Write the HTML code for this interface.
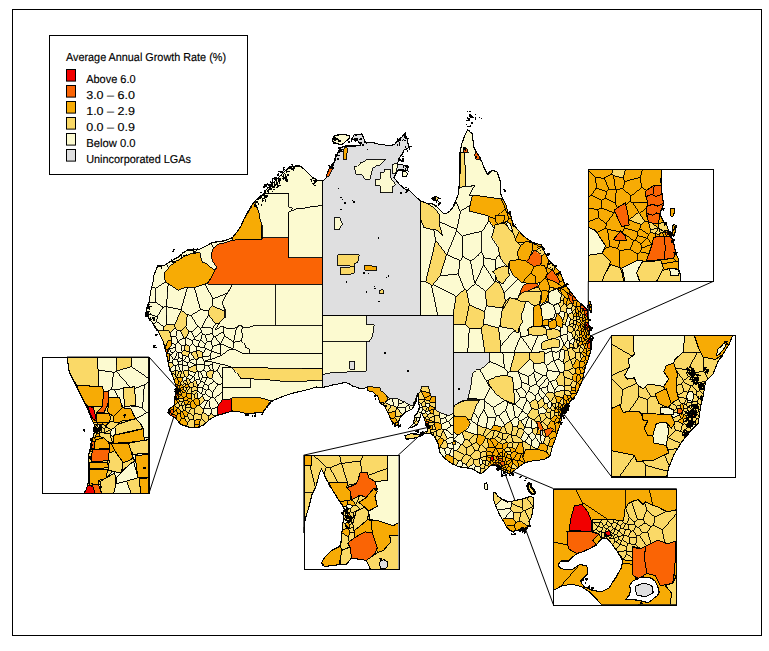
<!DOCTYPE html><html><head><meta charset="utf-8"><title>Average Annual Growth Rate</title><style>html,body{margin:0;padding:0;background:#fff}body{width:769px;height:651px;overflow:hidden;font-family:"Liberation Sans",sans-serif}</style></head><body><svg width="769" height="651" viewBox="0 0 769 651" shape-rendering="crispEdges" style="display:block">
<rect width="769" height="651" fill="#fff"/>
<defs><clipPath id="land"><path d="M322,181L324,180L326,178L327,174L329,169L331,166L334,162.5L336,157L337.5,152.5L341,147.5L345,146L350,146L356,146L361,145L358,141L352,139L354,135L362,134L364,139L366,143L372.5,142.5L378,144L385,145L390,146L395,144L399,139L402,137L405,133L407,139L409,147.5L404,150L402.5,154L399,158L397.5,164L403,165L407.5,166L408,171L403,170L398,170L394,177.5L400,185L405,189L410,191L416,197L420.8,201L426,203L432.5,204L437,207L440,210L444,214L447,213L450,211L453,207L455,202.5L458,195L459,187.5L460,172.5L460,152.5L462,143L465,135L467.5,130L470,132L472.5,134L473,141L474,147.5L477,153L480,157.5L482,162L484,167.5L487.5,174L492,170L497,172L500,180L501,195L506,205L508,213L510.7,215L513,224.2L518.4,230.4L522,234.5L526.1,238L533,242.6L541.4,245L544.5,251.9L548.4,259.5L553.7,265.7L559.9,271.8L562.9,279.5L566,285.7L570.6,291.8L575.2,298L580,303L584,306.5L587.5,310L588,318L589,325L590,335L591,340L591,350L588,360L585,367.5L582.5,380L579,388L576,395L571,401L567.5,405L564,411L562.5,415L560,425L557.5,432L555,440L552.5,446L550,456L545,459L540,460L532,461L525,462.5L520,466L515,470L510,474L505,472L501,470L498,467L495,465L492,465L490,466L486,470L481,474L476,471L472.5,469L467,468L462.5,467.5L457,466L452.5,464L448,461L443.5,457.2L439.6,452L438.3,444.2L434.4,436.4L430.5,433.7L425.3,433.7L421.4,434.4L424,432.4L427.9,431.1L427.2,427.2L425.9,423.3L424,418.1L421.8,413.2L420.7,414.2L420,418.1L417.4,424.6L412.2,427.2L409,427.9L413.5,423.3L414.8,415.5L417.4,412.9L419.4,407.6L418.7,402.4L418,393L416.1,401.1L414.8,403.7L412.2,408.9L405.7,412.2L401.8,415.5L399.2,419.4L397.9,425.9L395.2,424.6L391.3,420.7L388.7,414.2L384.8,406.3L379.6,402.4L378.3,397.2L373,392L367.8,390.7L367,387.5L361,389L356,387L352.5,386L349,383.5L345,382.5L338,384L332.5,385L327,386.5L322,387.5L316,387L310,389L302,391L295,392.5L287,395L280,397.5L274,400L270,402.5L266,408L262.5,412.5L255,413L247.5,414L240,412L232.5,411L224,413.5L217.5,415L213,417.5L209,420L203.6,425.1L196.5,427.8L187.7,426.9L180.6,424.2L175.3,418L169.2,414.5L168.3,410L174.5,404.8L175.3,396L176.2,387.1L173.6,378.3L169.2,367.7L166.5,353.6L163,341.2L157.7,330.6L152,322L149.7,320L146,312.5L148,306L149,302.5L150,296L151,290L153,282L154,275L156,270L157.5,266L161,266L165,265L171,261L177.5,257.5L183,253L187.5,250L194,250L200,249L206,246L212.5,242.5L222.5,241L228,239.5L232.5,237.5L237,232L241,226L244,219L247.5,212.5L251,206.5L255,201L259,197L262.5,195L266,190L270,186L275,181L280,176L285,171L290,167.5L295,166L300,166L304,169L308,173L312.5,177.5L317,180Z"/></clipPath></defs>
<line x1="149" y1="357" x2="178.2" y2="389.2" stroke="#000" stroke-width="1" shape-rendering="auto"/>
<line x1="149" y1="493.2" x2="176.5" y2="408.5" stroke="#000" stroke-width="1" shape-rendering="auto"/>
<line x1="303.6" y1="455.2" x2="428.5" y2="427.3" stroke="#000" stroke-width="1" shape-rendering="auto"/>
<line x1="398.2" y1="455.2" x2="424" y2="431.5" stroke="#000" stroke-width="1" shape-rendering="auto"/>
<line x1="713.4" y1="281.3" x2="586" y2="338" stroke="#000" stroke-width="1" shape-rendering="auto"/>
<line x1="588.3" y1="281.3" x2="588.3" y2="318" stroke="#000" stroke-width="1" shape-rendering="auto"/>
<line x1="611.2" y1="336.2" x2="563.5" y2="410" stroke="#000" stroke-width="1" shape-rendering="auto"/>
<line x1="611.2" y1="476.4" x2="563.5" y2="413.6" stroke="#000" stroke-width="1" shape-rendering="auto"/>
<line x1="553.3" y1="488.5" x2="507" y2="469" stroke="#000" stroke-width="1" shape-rendering="auto"/>
<line x1="553.3" y1="604.5" x2="503" y2="468" stroke="#000" stroke-width="1" shape-rendering="auto"/>
<path d="M322,181L324,180L326,178L327,174L329,169L331,166L334,162.5L336,157L337.5,152.5L341,147.5L345,146L350,146L356,146L361,145L358,141L352,139L354,135L362,134L364,139L366,143L372.5,142.5L378,144L385,145L390,146L395,144L399,139L402,137L405,133L407,139L409,147.5L404,150L402.5,154L399,158L397.5,164L403,165L407.5,166L408,171L403,170L398,170L394,177.5L400,185L405,189L410,191L416,197L420.8,201L426,203L432.5,204L437,207L440,210L444,214L447,213L450,211L453,207L455,202.5L458,195L459,187.5L460,172.5L460,152.5L462,143L465,135L467.5,130L470,132L472.5,134L473,141L474,147.5L477,153L480,157.5L482,162L484,167.5L487.5,174L492,170L497,172L500,180L501,195L506,205L508,213L510.7,215L513,224.2L518.4,230.4L522,234.5L526.1,238L533,242.6L541.4,245L544.5,251.9L548.4,259.5L553.7,265.7L559.9,271.8L562.9,279.5L566,285.7L570.6,291.8L575.2,298L580,303L584,306.5L587.5,310L588,318L589,325L590,335L591,340L591,350L588,360L585,367.5L582.5,380L579,388L576,395L571,401L567.5,405L564,411L562.5,415L560,425L557.5,432L555,440L552.5,446L550,456L545,459L540,460L532,461L525,462.5L520,466L515,470L510,474L505,472L501,470L498,467L495,465L492,465L490,466L486,470L481,474L476,471L472.5,469L467,468L462.5,467.5L457,466L452.5,464L448,461L443.5,457.2L439.6,452L438.3,444.2L434.4,436.4L430.5,433.7L425.3,433.7L421.4,434.4L424,432.4L427.9,431.1L427.2,427.2L425.9,423.3L424,418.1L421.8,413.2L420.7,414.2L420,418.1L417.4,424.6L412.2,427.2L409,427.9L413.5,423.3L414.8,415.5L417.4,412.9L419.4,407.6L418.7,402.4L418,393L416.1,401.1L414.8,403.7L412.2,408.9L405.7,412.2L401.8,415.5L399.2,419.4L397.9,425.9L395.2,424.6L391.3,420.7L388.7,414.2L384.8,406.3L379.6,402.4L378.3,397.2L373,392L367.8,390.7L367,387.5L361,389L356,387L352.5,386L349,383.5L345,382.5L338,384L332.5,385L327,386.5L322,387.5L316,387L310,389L302,391L295,392.5L287,395L280,397.5L274,400L270,402.5L266,408L262.5,412.5L255,413L247.5,414L240,412L232.5,411L224,413.5L217.5,415L213,417.5L209,420L203.6,425.1L196.5,427.8L187.7,426.9L180.6,424.2L175.3,418L169.2,414.5L168.3,410L174.5,404.8L175.3,396L176.2,387.1L173.6,378.3L169.2,367.7L166.5,353.6L163,341.2L157.7,330.6L152,322L149.7,320L146,312.5L148,306L149,302.5L150,296L151,290L153,282L154,275L156,270L157.5,266L161,266L165,265L171,261L177.5,257.5L183,253L187.5,250L194,250L200,249L206,246L212.5,242.5L222.5,241L228,239.5L232.5,237.5L237,232L241,226L244,219L247.5,212.5L251,206.5L255,201L259,197L262.5,195L266,190L270,186L275,181L280,176L285,171L290,167.5L295,166L300,166L304,169L308,173L312.5,177.5L317,180Z" fill="#fcfad0"/>
<path d="M322,315.3L420.8,315.3L420.8,201L416,197L410,191L405,189L400,185L394,177.5L398,170L403,170L408,171L407.5,166L403,165L397.5,164L399,158L402.5,154L404,150L409,147.5L407,139L405,133L402,137L399,139L395,144L390,146L385,145L378,144L372.5,142.5L366,143L364,139L362,134L354,135L352,139L358,141L361,145L356,146L350,146L345,146L341,147.5L337.5,152.5L336,157L334,162.5L331,166L329,169L327,174L326,178L324,180L322,181Z" fill="#dfdfe0"/>
<path d="M420.7,390.7L421.4,386.7L428.5,386.7L429.8,392L431.1,396.5L435.7,396.5L435.7,410.2L440.9,412.9L448.8,415.5L453.2,413.5L453.2,315.3L322,315.3L322,387.5L327,386.5L332.5,385L338,384L345,382.5L349,383.5L352.5,386L356,387L361,389L365.7,387.8L367,386.7L379.6,387.4L380.9,390.7L386,394.6L390,399L396.5,398.5L404.4,401.8L409.6,405L412.9,405L414.2,401.1L417.4,394.6L417.7,394.2L418,393L418.1,393.8Z" fill="#dfdfe0"/>
<path d="M453.2,409.5L455,406L457.5,402.5L462,401L467.5,400L469.5,392L471,385L471.5,379L472.5,372.5L476,370L481,369L485,366L489,362.5L490,352.3L453.2,352.3Z" fill="#dfdfe0"/>
<path d="M322,341.3L369.5,341.3L372.5,336L373.5,330L374,324.5L366,324L366,315.3L322,315.3Z" fill="#fcfad0" stroke="#000" stroke-width="0.9"/>
<path d="M322,374.6L332.5,372.6L350,371.8L366,371L366,341.3L322,341.3Z" fill="#fcfad0" stroke="#000" stroke-width="0.9"/>
<path d="M356,174L360,174L363,176L365,179L370,179L371.5,173L372.5,167.5L376,166L380,165L383,162L386,159L376,159.5L366,160L363,162L360,162.5L357,166L354,166Z" fill="#fcfad0" stroke="#000" stroke-width="0.9"/>
<path d="M384,172L380.5,172L380,179L375,180L375,185L380,186L380,192.5L392.5,192.5L392.5,186L396,184L391,177.5L390.5,173L390,169L384,169Z" fill="#fcfad0" stroke="#000" stroke-width="0.9"/>
<path d="M392.5,173.5L396,172.5L397,168L397.5,162.5L392.5,164Z" fill="#fcfad0" stroke="#000" stroke-width="0.9"/>
<path d="M334,229L339,229.5L342.5,224L341.5,221L340,217.5L334,217.5Z" fill="#fcfad0" stroke="#000" stroke-width="0.9"/>
<path d="M337.5,265.5L350,265.5L350,270L354,270L354,264L357.5,262.5L359,254.5L337.5,254.5Z" fill="#fad967" stroke="#000" stroke-width="0.9"/>
<path d="M340,274.5L348,275L354,273L354,266L348,267.5L340,268Z" fill="#fad967" stroke="#000" stroke-width="0.9"/>
<path d="M365,270L376.5,270.3L376.5,267L370,265.5L364.5,265.3Z" fill="#f7ab05" stroke="#000" stroke-width="0.9"/>
<path d="M380,293.5L383.5,294L384,292L382.5,289L379.5,290Z" fill="#fad967" stroke="#000" stroke-width="0.9"/>
<path d="M343.5,153L343.2,159L346.5,159L347,153L347.3,147.5L344,147.5Z" fill="#f7ab05" stroke="#000" stroke-width="0.9"/>
<path d="M328.6,176.5L330,172.5L332,168.5L330,167.5L329,169L327,174L326.5,176.1Z" fill="#fa6405" stroke="#000" stroke-width="0.9"/>
<path d="M349.5,369L354.5,369L354.5,361L349.5,361Z" fill="#dfdfe0" stroke="#000" stroke-width="0.9"/>
<path d="M288.8,193.8L288.8,207L292,207.5L291,211L296,209L303,208.5L310,207L316,206.5L322,205L322,181L317,180L312.5,177.5L308,173L304,169L300,166L295,166L290,167.5L285,171L280,176L275,181L270,186L266,190L263.4,193.8Z" fill="#fcfad0" stroke="#000" stroke-width="0.9"/>
<path d="M164.7,346.5L168.3,342L171.8,339.4L169.2,330.6L163,331L157.7,330.6L160,335L163,341.2Z" fill="#fad967" stroke="#000" stroke-width="0.9"/>
<path d="M168,360.5L169.8,360.6L170,353.6L167.8,353.6L168.3,348.3L171.8,344.7L171.8,340.3L168.3,340.3L165.4,347.4L166.5,353.6Z" fill="#f7ab05" stroke="#000" stroke-width="0.9"/>
<path d="M167.2,351.9L167.2,349.2L165.3,349.2L166.1,352.1Z" fill="#fa6405" stroke="#000" stroke-width="0.9"/>
<path d="M262,239.3L240,239.3L232.5,240.2L224,242.8L217.5,244L213,249L211,255L213,262L217,267L215,270L211,278L207.5,284L322,284L322,257.5L288.8,257.5L288.8,237.5L262,237.5Z" fill="#fa6405" stroke="#000" stroke-width="0.9"/>
<path d="M232.5,240.2L240,239.3L262,239.3L261.5,232L262,225L260,219L259,212.5L256,206L255,201L251,206.5L247.5,212.5L244,219L241,226L237,232L232.5,237.5Z" fill="#f7ab05" stroke="#000" stroke-width="0.9"/>
<path d="M164,277L166,282.5L172,286L177.5,290L186,287L195,287.5L202,285L207.5,283L211,278L215,270L210,267L207,264L202.5,262.5L201,258L200,252.5L196,253L190,254L183,257L177.5,260L170,266L164.5,272Z" fill="#f7ab05" stroke="#000" stroke-width="0.9"/>
<path d="M256,206L259,212.5L260,219L262,225L262,237.5L288.8,237.5L288.8,212L291,211L292,207.5L288.8,207L288.8,193.8L263.4,193.8L262.5,195L259,197L255,201Z" fill="#fcfad0" stroke="#000" stroke-width="0.9"/>
<path d="M288.8,257.5L322,257.5L322,205L316,206.5L310,207L303,208.5L296,209L291,211L288.8,212Z" fill="#fcfad0" stroke="#000" stroke-width="0.9"/>
<path d="M230,289L226,295L222.5,302.5L225,309L225,317.5L220,322L215,330L222,326L228,329L235,328L240,325L243,327L250,327L255,325L275,325L275,284L232.5,284Z" fill="#fcfad0" stroke="#000" stroke-width="0.9"/>
<path d="M275,325L322,325L322,284L275,284Z" fill="#fcfad0" stroke="#000" stroke-width="0.9"/>
<path d="M250,327L243,327L241,331L243,335L241.5,340L244,343L246,347.5L249,349L250,353.8L322,353.8L322,325L255,325Z" fill="#fcfad0" stroke="#000" stroke-width="0.9"/>
<path d="M242,353L236,350L230,349L226,352L222,355L215,358L205,361L214,362.5L226,365.5L232.5,367.5L322,368.8L322,353.8L250,353.8Z" fill="#fcfad0" stroke="#000" stroke-width="0.9"/>
<path d="M237,373L241,378.8L250,378.8L265,379.5L280,381L300,381.5L322,380L322,368.8L232.5,367.5Z" fill="#fad967" stroke="#000" stroke-width="0.9"/>
<path d="M222.5,387.5L250,387.5L250,378.8L241,378.8L237,373L232.5,367.5L222.5,367Z" fill="#fcfad0" stroke="#000" stroke-width="0.9"/>
<path d="M231.5,398.7L222.5,399.7L220,403L217.5,406.6L217.5,415L224,413.5L231.5,411.3Z" fill="#f20000" stroke="#000" stroke-width="0.9"/>
<path d="M270,400.5L265,399L260,397.7L231.5,397.7L231.5,411.3L232.5,411L240,412L247.5,414L255,413L262.5,412.5L266,408Z" fill="#f7ab05" stroke="#000" stroke-width="0.9"/>
<path d="M322,380L300,381.5L280,381L265,379.5L250,378.8L250,387.5L222.5,387.5L222.5,399.7L231.5,398.7L231.5,397.7L260,397.7L265,399L270,400.5L273.5,400.3L274,400L280,397.5L287,395L295,392.5L302,391L310,389L316,387L322,387.5Z" fill="#fcfad0" stroke="#000" stroke-width="0.9"/>
<path d="M465,186.5L474.6,185.7L472,190L469.5,195.6L480,196L490,197.5L501.5,199L503,199L501,195L500,180L497,172L492,170L487.5,174L484,167.5L482,162L480,157.5L477,153L474,147.5L473,141L472.5,134L470,132L467.5,130L465,135L462,143L460,152.3L460.5,152.5L464,153L465,165L465.5,175L465,186L459,187.5Z" fill="#fcfad0" stroke="#000" stroke-width="0.9"/>
<path d="M497,217L500,222L505,223L509,219L507,213L505,207.5L501,208L496,211Z" fill="#f7ab05" stroke="#000" stroke-width="0.9"/>
<path d="M420.8,201L420.8,220L424,227.5L430,229L436,230L439,232L442.5,236L441,230L439,222.5L440,215L435,209L430,205L426,203Z" fill="#fad967" stroke="#000" stroke-width="0.9"/>
<path d="M470.5,203L469,211L477,213L485,215L495,219L500,213L505,207.5L501,199L490,197.5L480,196L472.5,195Z" fill="#f7ab05" stroke="#000" stroke-width="0.9"/>
<path d="M459.5,187L461,187.5L465,186L465.5,175L465,165L464,153L460,152.5L460,172.5Z" fill="#fad967" stroke="#000" stroke-width="0.9"/>
<path d="M463,151.5L465,153L468.5,152L467,148.5L463.5,147.5Z" fill="#fa6405" stroke="#000" stroke-width="0.9"/>
<path d="M475.5,151L474.8,155L476,159L479,160L479.4,156.6L477,153L476,151.1Z" fill="#fa6405" stroke="#000" stroke-width="0.9"/>
<path d="M491.5,236.5L497.7,245.7L500,256.5L505.3,264.2L508.4,267.2L509.2,261.1L518.4,259.5L517.6,251.9L520.7,245.7L516.1,241.1L513,232.7L504.6,223.4L495.4,224.2Z" fill="#fad967" stroke="#000" stroke-width="0.9"/>
<path d="M517.6,251.9L518.4,259.5L526.1,261.1L529.9,256.5L532.2,250.3L533,243.4L526.1,241.1L520.7,245.7Z" fill="#f7ab05" stroke="#000" stroke-width="0.9"/>
<path d="M533.8,266.5L540.7,264.9L541.4,261.1L541.4,255.2L534.5,250.6L532.2,253.4L529.9,256.5L526.1,261.1Z" fill="#fa6405" stroke="#000" stroke-width="0.9"/>
<path d="M510,268.8L513,274.9L518.4,279.5L522.2,282.6L527.6,276.4L530.7,273.4L533.8,266.5L526.1,261.1L518.4,259.5L509.2,261.1Z" fill="#f7ab05" stroke="#000" stroke-width="0.9"/>
<path d="M530.7,273.4L535.3,276.4L536.1,283.4L539.9,282.6L544.5,278.7L547.6,273.4L544.5,265.7L540.7,264.9L533.8,266.5Z" fill="#f7ab05" stroke="#000" stroke-width="0.9"/>
<path d="M522.2,282.6L529.2,283.4L536.1,283.4L535.3,276.4L530.7,273.4L527.6,276.4Z" fill="#f7ab05" stroke="#000" stroke-width="0.9"/>
<path d="M547.6,279.5L552.2,280.3L558.3,284.1L559.9,281.1L556.8,275.7L552.2,270.3L546.1,275.7Z" fill="#fa6405" stroke="#000" stroke-width="0.9"/>
<path d="M521.5,288.7L519.2,294.9L526.1,291.8L532.2,288.7L538.4,285.7L536.1,283.4L529.2,283.4L524.5,284.1Z" fill="#fa6405" stroke="#000" stroke-width="0.9"/>
<path d="M538.4,287.2L542.2,293.3L543.7,301L548.4,301L547.6,294.9L549.9,287.2L552.2,280.3L547.6,279.5L544.5,278.7L539.9,282.6Z" fill="#f7ab05" stroke="#000" stroke-width="0.9"/>
<path d="M517.6,298.7L524.5,301L530.7,301L536.8,305.6L541.4,301L542.2,293.3L538.4,287.2L532.2,288.7L526.1,291.8L519.2,294.9Z" fill="#fad967" stroke="#000" stroke-width="0.9"/>
<path d="M503,310.2L510.7,314.8L521.5,314.8L522.2,307.2L524.5,301L517.6,298.7L507.6,298.7L503,305.6Z" fill="#fad967" stroke="#000" stroke-width="0.9"/>
<path d="M495.4,274.9L496.9,280.3L503,284.1L505.3,280.3L509.2,275.7L508.4,267.2L504.6,265.7L497.7,268L491.5,271.8Z" fill="#fad967" stroke="#000" stroke-width="0.9"/>
<path d="M561.4,293.3L566,297.9L572.2,301L570.6,294.9L566,291.8L559.9,287.2Z" fill="#f7ab05" stroke="#000" stroke-width="0.9"/>
<path d="M569.9,301L573.7,304.1L572.2,296.4L567.6,293.3Z" fill="#fa6405" stroke="#000" stroke-width="0.9"/>
<path d="M548.4,301L552.2,305.6L559.9,302.6L561.4,294.9L556.8,288.7L549.1,291.8Z" fill="#fcfad0" stroke="#000" stroke-width="0.9"/>
<path d="M549.9,287.2L556.8,288.7L559.9,287.2L562.9,287.2L558.3,284.1L552.2,280.3L547.6,279.5Z" fill="#f7ab05" stroke="#000" stroke-width="0.9"/>
<path d="M495.4,221.1L498.4,224.2L503.8,221.9L504.6,215L495.4,215Z" fill="#f7ab05" stroke="#000" stroke-width="0.9"/>
<path d="M532.2,250.3L536.8,250.3L538.4,245.7L533,243.4Z" fill="#f7ab05" stroke="#000" stroke-width="0.9"/>
<path d="M509.2,229.6L513,231.9L510,223.4L505.3,221.1Z" fill="#fcfad0" stroke="#000" stroke-width="0.9"/>
<path d="M500.8,318L500.2,326.6L505.1,327.6L511.5,328.7L515.8,331.9L518.5,333L519,327.6L522.3,322.3L521.2,314.7L523.3,310.4L525.5,301.8L521.2,301.8L516.9,299.7L509.4,297.5L506.1,304L501.8,311.5Z" fill="#fad967" stroke="#000" stroke-width="0.9"/>
<path d="M521.2,301.8L525.5,301.8L528.7,301.8L534.1,306.1L539.5,304L540.5,298.6L541.6,291.1L526.6,291.1L521.2,293.2L516.9,299.7Z" fill="#fad967" stroke="#000" stroke-width="0.9"/>
<path d="M521.2,314.7L522.3,322.3L519,327.6L521.2,337.3L528.7,335.2L527.6,328.7L533.5,325.5L533,314.7L534.1,306.1L528.7,301.8L525.5,301.8L523.3,310.4Z" fill="#fcfad0" stroke="#000" stroke-width="0.9"/>
<path d="M533,314.7L533.5,322.3L534.1,326.6L541.6,326.6L542.7,321.2L541.6,311.5L539.5,304L534.1,306.1Z" fill="#f7ab05" stroke="#000" stroke-width="0.9"/>
<path d="M542.7,326L548.1,325.5L548.1,319.6L542.7,320.1Z" fill="#f7ab05" stroke="#000" stroke-width="0.9"/>
<path d="M549.1,328.2L554.5,328.7L556.7,325.5L555.6,319L548.6,322.3Z" fill="#f7ab05" stroke="#000" stroke-width="0.9"/>
<path d="M556.7,325.5L562,327.6L563.1,322.3L561,316.9L557.2,312.6L555.6,319Z" fill="#f7ab05" stroke="#000" stroke-width="0.9"/>
<path d="M528.7,334.1L533,335.2L540.5,335.2L546.5,334.1L545.9,327.6L541.6,326.6L534.1,326.6L528.7,327.6Z" fill="#fad967" stroke="#000" stroke-width="0.9"/>
<path d="M546.5,334.1L548.1,339.5L554.5,338.4L560.4,336.2L559.9,330.9L554.5,328.7L547,329.8Z" fill="#fad967" stroke="#000" stroke-width="0.9"/>
<path d="M541.1,347L542.7,350.2L550.2,348.1L558.8,347L559.9,340.5L554.5,338.4L545.9,340.5L541.6,342.7Z" fill="#fad967" stroke="#000" stroke-width="0.9"/>
<path d="M541.6,311.5L542.7,320.1L548.1,319.6L553.4,318L555.6,311.5L553.4,305.1L547,301.8L540.5,305.1Z" fill="#fcfad0" stroke="#000" stroke-width="0.9"/>
<path d="M541.1,297.5L540.5,304L545.9,300.8L548.6,293.2L545.9,290L541.6,291.1Z" fill="#f7ab05" stroke="#000" stroke-width="0.9"/>
<path d="M490,386L493,390L496,394L500,397L504,400L509,402L515,404L514.5,398L514,392.5L513.5,385L512.5,377.5L508,376L504,375L495,377L487.5,380Z" fill="#fad967" stroke="#000" stroke-width="0.9"/>
<path d="M453.2,409.5L453.2,415.5L462,418L471,420L473,414L475,407.5L477,404L480,400L467.5,400L461,402L455,405Z" fill="#fad967" stroke="#000" stroke-width="0.9"/>
<path d="M453.2,432L457.5,435L462,432.5L466,430L468,426.5L470,422.5L467.5,419L465,416L459,416L453.2,416Z" fill="#f7ab05" stroke="#000" stroke-width="0.9"/>
<path d="M537.4,426.2L538.8,428.5L540.5,430.9L543.6,428.5L542,425.5L540.5,422.3L536.6,420.7Z" fill="#fa6405" stroke="#000" stroke-width="0.9"/>
<path d="M545.2,434L546.7,437.1L549.8,434L551.5,431.5L553,428.5L549.8,427.8L544.4,430.1Z" fill="#fa6405" stroke="#000" stroke-width="0.9"/>
<path d="M540.2,435.6L542.4,435.2L542.2,430.2L540,430.5Z" fill="#dfdfe0" stroke="#000" stroke-width="0.9"/>
<path d="M491,460.5L494,460L493.5,457L490.5,456.5Z" fill="#f20000" stroke="#000" stroke-width="0.9"/>
<path d="M501.5,466L504.5,465L504,461L500.5,461.5Z" fill="#fa6405" stroke="#000" stroke-width="0.9"/>
<path d="M453,444.5L455.5,444L455,441L452.6,441.5Z" fill="#f7ab05" stroke="#000" stroke-width="0.9"/>
<path d="M549.5,454.5L547.5,452.5L544,451L540,450L533,449.5L526,449L524,452.5L522.5,457L523.5,459L525,462.5L532,461L540,460L545,459L550,456Z" fill="#f7ab05" stroke="#000" stroke-width="0.9"/>
<path d="M383.5,403L385.5,401L387.4,398.5L386,394.6L380.9,390.7L379.6,387.4L367,386.7L367.8,390.7L373,392L378.3,397.2L379.6,402.4Z" fill="#f7ab05" stroke="#000" stroke-width="0.9"/>
<path d="M211,397.9L212.7,397.2L212.7,392.3L208.4,389.2L206.2,390.4L205.4,393.8Z" fill="#fcfad0" stroke="#000" stroke-width="0.9"/>
<path d="M199.1,424.8L194.7,424.8L193.7,427.5L196.5,427.8L200.3,426.4Z" fill="#f7ab05" stroke="#000" stroke-width="0.9"/>
<path d="M189.5,360.1L194.6,358.7L190.7,352.8L189.7,352.6L188.5,355.7Z" fill="#fcfad0" stroke="#000" stroke-width="0.9"/>
<path d="M202.4,388L202.4,387.9L197.9,387L197.3,387.5L197,390L197.2,391.2L201.8,394Z" fill="#fcfad0" stroke="#000" stroke-width="0.9"/>
<path d="M168.2,362.3L169.2,367.7L169.5,368.5L173.3,365.1L172.4,362.1Z" fill="#fad967" stroke="#000" stroke-width="0.9"/>
<path d="M175.8,336.7L177.2,330.2L175.1,327.6L170,333.2L171.1,336.9Z" fill="#fcfad0" stroke="#000" stroke-width="0.9"/>
<path d="M214.4,398.3L218.6,405L220,403L220,403L222.4,399.7L222.4,392.2ZM270,400.5L266.2,407.7L270,402.5L273.4,400.4Z" fill="#fcfad0" stroke="#000" stroke-width="0.9"/>
<path d="M194.7,287.5L187.5,287.1L181,309.5L181.3,310.1L187.3,314.7L191,315.3L200.7,309.6Z" fill="#fcfad0" stroke="#000" stroke-width="0.9"/>
<path d="M187.1,416L188.5,413.3L188.3,412.8L184.9,410.3L183.6,410.8L182.9,411.5L185.2,417Z" fill="#f7ab05" stroke="#000" stroke-width="0.9"/>
<path d="M183.8,337.9L180.4,330.9L177.2,330.2L175.8,336.7L178,341.3Z" fill="#fcfad0" stroke="#000" stroke-width="0.9"/>
<path d="M175.7,344.6L171.9,343L171.9,344.7L171.8,344.7L171.8,344.7L171.8,344.7L171.8,344.7L171.8,344.7L171.8,344.7L171.8,344.7L171.8,344.7L168.3,348.3L168.3,348.7L168.8,348.9L175.4,347.4ZM165.4,347.6L165.4,347.4L165.4,347.4L165.4,347.4L165.4,347.4L165.4,347.4L165.4,347.4L165.4,347.4L166.7,344.1L164.7,346.5L164.7,346.5L164.7,346.5L164.7,346.5L164.7,346.5L164.7,346.5L164.7,346.5L164.7,346.5L164.7,346.5L164.7,346.5L164.7,346.5L164.7,346.5L164.7,346.5L164.7,346.5L164.7,346.5L164.7,346.5L164.7,346.5L164.7,346.5L164.7,346.5L164.7,346.5L164.7,346.5L164.7,346.5L164.7,346.5L163.4,342.6L164.7,347.4Z" fill="#fcfad0" stroke="#000" stroke-width="0.9"/>
<path d="M202.7,377.1L207.2,378L207.4,377.8L206,372.2L203.8,370.2L200.6,371.8Z" fill="#fcfad0" stroke="#000" stroke-width="0.9"/>
<path d="M187.4,422.9L190.1,420L187.1,416L185.2,417L184.6,418.3Z" fill="#fad967" stroke="#000" stroke-width="0.9"/>
<path d="M182.9,360.6L183.6,360.6L186.6,356.4L182.4,354.6L182,358.9L182.6,360.4Z" fill="#fcfad0" stroke="#000" stroke-width="0.9"/>
<path d="M195.6,253L196,253L196,253L200,252.5L200,252.5L200,252.5L200,252.5L200,252.5L200,252.5L200,252.5L200,252.5L200,252.5L200,252.5L200,252.5L200,252.5L200,252.5L200,252.5L200,252.5L200,252.5L201,258L202.5,262.5L207,264L207,264L207,264L207,264L207,264L207,264L210,267L215,269.9L216.9,267L213,262L213,262L213,262L213,262L213,262L211,255L211,255L211,255L211,255L211,255L211,255L211,255L213,249L213,249L213,249L213,249L213,249L213.8,248L210.8,243.4L206,246L200,249L196.4,249.6Z" fill="#fcfad0" stroke="#000" stroke-width="0.9"/>
<path d="M183.4,387.2L182.7,385.4L180.8,384.7L179.9,385.7L180,388.1L180.4,388.4L183.4,387.3Z" fill="#f7ab05" stroke="#000" stroke-width="0.8"/>
<path d="M198.9,398.6L199.4,405.2L205.1,400.1L202.1,396.1Z" fill="#fad967" stroke="#000" stroke-width="0.9"/>
<path d="M204.9,335.2L212.1,333.6L212.7,328.2L201.8,327.2L200.6,328.1L201.4,332.2L202.3,333.7Z" fill="#fcfad0" stroke="#000" stroke-width="0.9"/>
<path d="M208,310.7L200.7,309.6L191,315.3L197.8,326.6L200.6,328.1L201.8,327.2L208.6,314.7Z" fill="#fcfad0" stroke="#000" stroke-width="0.9"/>
<path d="M176.2,415.5L172.8,413.9L170.6,415.3L175.3,418L176.5,419.4Z" fill="#fa6405" stroke="#000" stroke-width="0.9"/>
<path d="M170.8,355.8L172.3,353.1L168.8,348.9L168.3,348.7L167.9,353.6L170,353.6L170,353.6L170,353.6L170,353.6L170,353.6L170,353.6L170,353.6L170,353.6L170,353.6L170,353.6L170,353.6L170,353.6L170,353.6L170,353.6L170,353.6L170,353.6L170,353.6L170,355.9ZM167,356.1L166.9,355.6L167,356.1ZM164.7,347.4L165.2,349.2L165.2,349.2L165.3,349.2L165.3,349.1L165.7,349.1L165.4,347.6ZM166.1,352.1L166.4,353.1L166.2,352.1Z" fill="#fcfad0" stroke="#000" stroke-width="0.9"/>
<path d="M203.2,409L203,412L208.8,416.1L211.1,413.1L211.4,409.4L210.4,408.7L203.9,408.7Z" fill="#fcfad0" stroke="#000" stroke-width="0.9"/>
<path d="M194.7,424.8L194.4,420.2L193.2,418.8L190.1,420L187.4,422.9L186.6,426.5L187.7,426.9L193.7,427.5Z" fill="#fad967" stroke="#000" stroke-width="0.9"/>
<path d="M176.7,398.3L178.9,398.2L179.1,396.8L178,395.4L176.6,396.4Z" fill="#f7ab05" stroke="#000" stroke-width="0.8"/>
<path d="M182.4,354.6L181.4,352.2L178.5,352.4L178.8,357.7L182,358.9Z" fill="#fcfad0" stroke="#000" stroke-width="0.9"/>
<path d="M193.2,418.8L194.4,420.2L200.5,419.3L201.3,418.8L201.2,414.9L195,413.2L193.3,416.2Z" fill="#fad967" stroke="#000" stroke-width="0.9"/>
<path d="M211.1,350.7L212.8,346.5L211.2,341.5L207.3,341.3L205,344.7L204.9,347.9L205.2,348.5Z" fill="#fcfad0" stroke="#000" stroke-width="0.9"/>
<path d="M182.4,364.9L182.9,365.8L187.8,365.2L188,362.9L183.6,360.6L182.9,360.6Z" fill="#fcfad0" stroke="#000" stroke-width="0.9"/>
<path d="M182,406.2L183.6,410.8L184.9,410.3L185.9,408L185.7,405.1L185.5,404.7L185,404.3Z" fill="#fad967" stroke="#000" stroke-width="0.9"/>
<path d="M202.1,396.1L205.1,400.1L207.5,400.7L208.8,400.3L211,397.9L205.4,393.8L202.4,395.2Z" fill="#fcfad0" stroke="#000" stroke-width="0.9"/>
<path d="M176.7,384.6L178.9,381.5L177,377.9L176.3,377.6L174,379.7L175.4,384.4Z" fill="#f7ab05" stroke="#000" stroke-width="0.9"/>
<path d="M166.9,324.2L166.2,306.7L163.1,307.1L157.2,316.7L156.8,321.7L163.7,326.9Z" fill="#fcfad0" stroke="#000" stroke-width="0.9"/>
<path d="M178.5,352.4L177.4,352L174.7,359L176.9,359.8L178.8,357.7Z" fill="#fcfad0" stroke="#000" stroke-width="0.9"/>
<path d="M227.2,293.2L230,289L232.4,284.1L207.5,284.1L207.5,284L207.5,284L207.5,284L207.5,284L207.5,284L207.5,284L207.5,284L207.5,284L207.5,284L207.5,284L207.5,284L207.5,284L207.5,284L207.5,284L207.5,284L207.5,284L207.5,284L207.5,284L207.5,284L207.5,284L207.5,284L210.3,279L207.5,283L207.5,283L207.5,283L207.5,283L207.5,283L207.5,283L207.5,283L205,284L212.9,298.9Z" fill="#fcfad0" stroke="#000" stroke-width="0.9"/>
<path d="M183.8,337.9L178,341.3L177.5,342.8L181,345.5L185.3,344.9L185.7,344.4L185,338.2Z" fill="#fcfad0" stroke="#000" stroke-width="0.9"/>
<path d="M191.6,331.8L197.8,326.6L191,315.3L187.3,314.7L185.9,326.7L188.9,331.9Z" fill="#fcfad0" stroke="#000" stroke-width="0.9"/>
<path d="M179.8,405.7L178.4,407.8L181.3,412L182.9,411.5L183.6,410.8L182,406.2L180.7,405.5Z" fill="#fad967" stroke="#000" stroke-width="0.9"/>
<path d="M177.4,352L178.5,352.4L181.4,352.2L182.2,351.3L181,345.5L177.5,342.8L175.7,344.6L175.4,347.4L175.9,350.6Z" fill="#fcfad0" stroke="#000" stroke-width="0.9"/>
<path d="M177.1,394L178,394.9L179.1,394L178.6,392.2L177,393Z" fill="#fa6405" stroke="#000" stroke-width="0.8"/>
<path d="M175.4,347.4L168.8,348.9L172.3,353.1L175.9,350.6Z" fill="#fcfad0" stroke="#000" stroke-width="0.9"/>
<path d="M220.1,343.9L220.7,343.7L224.7,336L223.5,331.5L214.8,336.9Z" fill="#fcfad0" stroke="#000" stroke-width="0.9"/>
<path d="M201.4,332.2L200.6,328.1L197.8,326.6L191.6,331.8L194.2,337.9Z" fill="#fcfad0" stroke="#000" stroke-width="0.9"/>
<path d="M203.8,370.2L206,372.2L210.5,370.6L208.6,366L204.8,365.6Z" fill="#fcfad0" stroke="#000" stroke-width="0.9"/>
<path d="M200.9,381.1L204.7,382.7L207.2,378L202.7,377.1L200.6,380.1Z" fill="#fcfad0" stroke="#000" stroke-width="0.9"/>
<path d="M176.8,390.6L175.8,391.5L175.7,391.9L177,393L178.6,392.2L178.9,391.7L178.7,391.4Z" fill="#f20000" stroke="#000" stroke-width="0.7"/>
<path d="M204.6,364.9L204.7,362.2L202.3,357.4L198.3,358.1L196.9,359.7L196.4,364.3Z" fill="#fcfad0" stroke="#000" stroke-width="0.9"/>
<path d="M208.5,420.5L209,420L213,417.5L215,416.4L211.1,413.1L208.8,416.1Z" fill="#fad967" stroke="#000" stroke-width="0.9"/>
<path d="M187.8,365.2L188.7,368.1L195.7,365L189.2,361.6L188,362.9Z" fill="#fcfad0" stroke="#000" stroke-width="0.9"/>
<path d="M204.7,362.2L204.6,364.9L204.8,365.6L208.6,366L212.1,363.6L212.7,362.3L206.5,361.3ZM211.1,358.9L210.3,359.4L211.2,359.1Z" fill="#fcfad0" stroke="#000" stroke-width="0.9"/>
<path d="M177.8,388.6L177.2,388.9L176.8,390.6L178.7,391.4L178.9,388.8Z" fill="#fa6405" stroke="#000" stroke-width="0.7"/>
<path d="M213.9,336.7L212.1,333.6L204.9,335.2L207.3,341.3L211.2,341.5Z" fill="#fcfad0" stroke="#000" stroke-width="0.9"/>
<path d="M199.1,424.8L200.5,419.3L194.4,420.2L194.7,424.8Z" fill="#f7ab05" stroke="#000" stroke-width="0.9"/>
<path d="M187.6,384.1L186.6,379.5L183.7,381.5L184.4,383.4L186,384.2Z" fill="#fad967" stroke="#000" stroke-width="0.9"/>
<path d="M217.9,384.2L213.6,381.4L208.2,385.9L208.4,389.2L212.7,392.3Z" fill="#fcfad0" stroke="#000" stroke-width="0.9"/>
<path d="M174.2,405.4L178.3,402.4L175.5,399.4L175,399.4L174.5,404.8L173.8,405.4Z" fill="#f7ab05" stroke="#000" stroke-width="0.9"/>
<path d="M180.5,377.1L181.4,371.2L180.4,371L179.1,371.3L176.3,377.4L176.3,377.6L177,377.9Z" fill="#fad967" stroke="#000" stroke-width="0.9"/>
<path d="M156.8,321.7L157.2,316.7L146.2,313L149.7,320L152,322L153.6,324.5Z" fill="#fcfad0" stroke="#000" stroke-width="0.9"/>
<path d="M177.2,388.9L177.8,388.6L176.9,384.7L176.7,384.6L175.4,384.4L176.2,387.1L176.1,388.5Z" fill="#fa6405" stroke="#000" stroke-width="0.8"/>
<path d="M190,387.2L191,387.8L193.9,386.5L192.9,382.4L190.4,382.3L188.6,384.6L189.1,386.2Z" fill="#fad967" stroke="#000" stroke-width="0.9"/>
<path d="M163.7,326.9L156.8,321.7L153.6,324.5L157.7,330.6L157.7,330.6L157.7,330.6L157.7,330.6L157.7,330.6L157.7,330.6L157.7,330.6L157.7,330.6L163,330.9L163.6,330.9ZM158.9,333.1L161.3,337.8L160,335Z" fill="#fcfad0" stroke="#000" stroke-width="0.9"/>
<path d="M200.6,380.1L202.7,377.1L200.6,371.8L198.3,371.9L199.3,379.1Z" fill="#fcfad0" stroke="#000" stroke-width="0.9"/>
<path d="M190.4,382.3L189.8,379.6L187.1,378.2L186.6,379.5L187.6,384.1L188.6,384.6Z" fill="#fad967" stroke="#000" stroke-width="0.9"/>
<path d="M202.3,357.4L202.5,356.9L202.9,352.6L196.5,350L195.9,351.1L198.3,358.1Z" fill="#fad967" stroke="#000" stroke-width="0.9"/>
<path d="M156,288.3L155.3,301.9L163.1,307.1L166.2,306.7L166.4,306.6L168.2,283.9L166,282.5L166,282.5L166,282.5L166,282.5L166,282.5L166,282.5L166,282.5L166,282.5L165.7,281.8Z" fill="#fcfad0" stroke="#000" stroke-width="0.9"/>
<path d="M215.5,323.9L218.7,324L220,322L220,322L220,322L220,322L224.9,317.5L224.9,311.5L212.4,305.6L208,310.7L208.6,314.7Z" fill="#fad967" stroke="#000" stroke-width="0.9"/>
<path d="M185.7,392L186.4,392.9L190,387.2L189.1,386.2L186.2,388.2Z" fill="#fad967" stroke="#000" stroke-width="0.9"/>
<path d="M210.4,408.7L208.8,400.3L207.5,400.7L203.9,408.7Z" fill="#fcfad0" stroke="#000" stroke-width="0.9"/>
<path d="M185.7,344.4L185.3,344.9L184.1,350.5L189.5,352.2L189.6,346.3Z" fill="#fad967" stroke="#000" stroke-width="0.9"/>
<path d="M193.9,339.1L194.2,337.9L191.6,331.8L188.9,331.9L186.3,337.6L192.5,340.7Z" fill="#fcfad0" stroke="#000" stroke-width="0.9"/>
<path d="M175.7,376.3L176.3,377.4L179.1,371.3L175.6,370.2L175,370.8Z" fill="#fad967" stroke="#000" stroke-width="0.9"/>
<path d="M175.1,327.6L174.5,325L166.9,324.2L163.7,326.9L163.6,330.9L169.2,330.6L169.2,330.6L169.2,330.6L169.2,330.6L169.2,330.6L169.2,330.6L169.2,330.6L169.2,330.6L169.2,330.6L169.2,330.6L169.2,330.6L169.2,330.6L169.2,330.6L169.2,330.6L169.2,330.6L170,333.2Z" fill="#fad967" stroke="#000" stroke-width="0.9"/>
<path d="M176.9,384.7L177.8,388.6L178.9,388.8L180,388.1L179.9,385.7Z" fill="#f7ab05" stroke="#000" stroke-width="0.8"/>
<path d="M195.7,365L196,365L196.4,364.3L196.9,359.7L194.6,358.7L189.5,360.1L189.2,361.6Z" fill="#fcfad0" stroke="#000" stroke-width="0.9"/>
<path d="M212.1,363.6L213.4,371.7L213.6,371.8L217.4,370.7L220.5,364.2L214,362.5L212.7,362.3Z" fill="#fcfad0" stroke="#000" stroke-width="0.9"/>
<path d="M182,358.9L178.8,357.7L176.9,359.8L178.2,362.1L182.6,360.4Z" fill="#fcfad0" stroke="#000" stroke-width="0.9"/>
<path d="M188.5,374.9L192.9,377L193.8,376.9L195.3,372.8L188.6,370.4Z" fill="#fcfad0" stroke="#000" stroke-width="0.9"/>
<path d="M184.8,376.6L183.2,371.2L182.5,370.9L181.4,371.2L180.5,377.1L182,378.3Z" fill="#fad967" stroke="#000" stroke-width="0.9"/>
<path d="M157.2,316.7L163.1,307.1L155.3,301.9L148.9,303L148,306L146,312.5L146.2,313Z" fill="#fcfad0" stroke="#000" stroke-width="0.9"/>
<path d="M212.4,305.6L212.9,298.9L205,284L202,285L202,285L195,287.5L195,287.5L195,287.5L195,287.5L195,287.5L194.7,287.5L200.7,309.6L208,310.7Z" fill="#fcfad0" stroke="#000" stroke-width="0.9"/>
<path d="M198.9,398.6L202.1,396.1L202.4,395.2L201.8,394L197.2,391.2L196.9,392.2L197.9,398Z" fill="#fcfad0" stroke="#000" stroke-width="0.9"/>
<path d="M185.5,404.7L188.5,401.9L187.4,400.1L183.7,401.1L185,404.3Z" fill="#f7ab05" stroke="#000" stroke-width="0.9"/>
<path d="M182.9,392.2L181.3,393.7L181.1,394.9L183.5,397.1L186.5,394.5L186.7,393.7L186.4,392.9L185.7,392L185.5,391.9Z" fill="#f7ab05" stroke="#000" stroke-width="0.8"/>
<path d="M173.1,409.9L173.4,411.1L176.2,410.9L177.6,407.8L174.2,405.4L173.8,405.4L173.5,405.6Z" fill="#f7ab05" stroke="#000" stroke-width="0.9"/>
<path d="M186.6,356.4L183.6,360.6L188,362.9L189.2,361.6L189.5,360.1L188.5,355.7Z" fill="#fcfad0" stroke="#000" stroke-width="0.9"/>
<path d="M204.7,382.7L204.9,383.7L208.2,385.9L213.6,381.4L211.9,378.6L207.4,377.8L207.2,378Z" fill="#fcfad0" stroke="#000" stroke-width="0.9"/>
<path d="M196.8,406.1L194.6,408.5L195,413.2L201.2,414.9L203,412L203.2,409L199.4,405.2Z" fill="#fad967" stroke="#000" stroke-width="0.9"/>
<path d="M178.9,388.8L178.7,391.4L178.9,391.7L180.2,391.8L181.3,390.1L180.4,388.4L180,388.1Z" fill="#fa6405" stroke="#000" stroke-width="0.8"/>
<path d="M182.7,385.4L184.4,383.4L183.7,381.5L182.2,380.7L180.8,382.1L180.8,384.7Z" fill="#fad967" stroke="#000" stroke-width="0.9"/>
<path d="M182.9,392.2L185.5,391.9L183.5,389.3L181.3,390.1Z" fill="#f7ab05" stroke="#000" stroke-width="0.8"/>
<path d="M180.8,384.7L180.8,382.1L178.9,381.5L176.7,384.6L176.9,384.7L179.9,385.7Z" fill="#f7ab05" stroke="#000" stroke-width="0.9"/>
<path d="M195.3,372.8L197.2,371.5L196,365L195.7,365L188.7,368.1L188.4,370.1L188.6,370.4Z" fill="#fad967" stroke="#000" stroke-width="0.9"/>
<path d="M170.8,355.8L170,355.9L169.8,360.6L169.8,360.6L169.8,360.6L169.8,360.6L169.8,360.6L169.8,360.6L169.8,360.6L169.8,360.6L169.8,360.6L169.8,360.6L169.8,360.6L169.8,360.6L169.8,360.6L169.8,360.6L169.8,360.6L169.8,360.6L169.8,360.6L168,360.5L168,360.5L168,360.5L168,360.5L168,360.5L168,360.5L168,360.5L168,360.5L168,360.5L168,360.5L168,360.5L168,360.5L168,360.5L168,360.5L167,356.1L167,356.1L168.2,362.3L172.4,362.1L173.4,359.3Z" fill="#fcfad0" stroke="#000" stroke-width="0.9"/>
<path d="M187.4,422.9L184.6,418.3L181.3,418.9L178.9,422.2L180.6,424.2L186.6,426.5Z" fill="#f7ab05" stroke="#000" stroke-width="0.9"/>
<path d="M193.8,376.9L194.8,379.7L195.4,380.1L199.3,379.1L198.3,371.9L197.2,371.5L195.3,372.8Z" fill="#fcfad0" stroke="#000" stroke-width="0.9"/>
<path d="M178.3,402.4L178.3,402.4L174.2,405.4L177.6,407.8L178.4,407.8L179.8,405.7Z" fill="#fad967" stroke="#000" stroke-width="0.9"/>
<path d="M201.2,414.9L201.3,418.8L206.2,422.6L208.5,420.5L208.8,416.1L203,412Z" fill="#fad967" stroke="#000" stroke-width="0.9"/>
<path d="M176.6,396.4L178,395.4L178,394.9L177.1,394L175.7,395.2Z" fill="#fa6405" stroke="#000" stroke-width="0.8"/>
<path d="M205,344.7L200.5,340.7L199.6,341.4L197.8,346.5L204.9,347.9Z" fill="#fcfad0" stroke="#000" stroke-width="0.9"/>
<path d="M186.4,392.9L186.7,393.7L191.1,393.3L191.2,393.2L191.6,392L191,387.8L190,387.2Z" fill="#fad967" stroke="#000" stroke-width="0.9"/>
<path d="M192.9,377L189.8,379.6L190.4,382.3L192.9,382.4L194.8,379.7L193.8,376.9Z" fill="#fcfad0" stroke="#000" stroke-width="0.9"/>
<path d="M185.7,405.1L190.2,404.8L190.3,402.8L188.5,401.9L185.5,404.7Z" fill="#f7ab05" stroke="#000" stroke-width="0.9"/>
<path d="M202.9,352.6L202.5,356.9L210.4,355.5L211.3,351.2L211.1,350.7L205.2,348.5Z" fill="#fcfad0" stroke="#000" stroke-width="0.9"/>
<path d="M189.1,386.2L188.6,384.6L187.6,384.1L186,384.2L184.8,386.9L186.2,388.2Z" fill="#f7ab05" stroke="#000" stroke-width="0.9"/>
<path d="M193.8,394.8L191.2,393.2L191.1,393.3L191.1,398.6L192.5,400.2L192.5,400.2L194.8,398Z" fill="#fad967" stroke="#000" stroke-width="0.9"/>
<path d="M233.7,341.9L236.5,327.1L235,328L235,328L235,328L235,328L235,328L228,329L228,329L228,329L228,329L228,329L228,329L228,329L224,327.1L223.5,331.5L224.7,336Z" fill="#fcfad0" stroke="#000" stroke-width="0.9"/>
<path d="M182.5,370.9L183.2,371.2L188.4,370.1L188.7,368.1L187.8,365.2L182.9,365.8Z" fill="#fcfad0" stroke="#000" stroke-width="0.9"/>
<path d="M181.3,310.1L181,309.5L166.4,306.6L166.2,306.7L166.9,324.2L174.5,325Z" fill="#fcfad0" stroke="#000" stroke-width="0.9"/>
<path d="M193.2,418.8L193.3,416.2L188.5,413.3L187.1,416L190.1,420Z" fill="#fad967" stroke="#000" stroke-width="0.9"/>
<path d="M178.4,365L180.4,371L181.4,371.2L182.5,370.9L182.9,365.8L182.4,364.9Z" fill="#fcfad0" stroke="#000" stroke-width="0.9"/>
<path d="M175.7,395.2L177.1,394L177,393L175.7,391.9L175.4,395.1Z" fill="#f20000" stroke="#000" stroke-width="0.7"/>
<path d="M178.2,362.1L177.9,364.6L178.4,365L182.4,364.9L182.9,360.6L182.6,360.4Z" fill="#fcfad0" stroke="#000" stroke-width="0.9"/>
<path d="M200.5,419.3L199.1,424.8L200.3,426.4L203.6,425.1L206.2,422.6L201.3,418.8Z" fill="#fad967" stroke="#000" stroke-width="0.9"/>
<path d="M185.9,408L184.9,410.3L188.3,412.8L191.6,407.9L191.2,407.5Z" fill="#fad967" stroke="#000" stroke-width="0.9"/>
<path d="M188.9,331.9L185.9,326.7L180.4,330.9L183.8,337.9L185,338.2L186.3,337.6Z" fill="#fad967" stroke="#000" stroke-width="0.9"/>
<path d="M185.7,405.1L185.9,408L191.2,407.5L190.2,404.8Z" fill="#fad967" stroke="#000" stroke-width="0.9"/>
<path d="M187.5,287.1L186,287.1L177.5,290L177.5,290L177.5,290L177.5,290L177.5,290L177.5,290L177.5,290L177.5,290L177.5,290L177.5,290L177.5,290L172,286L168.2,283.9L166.4,306.6L181,309.5Z" fill="#fcfad0" stroke="#000" stroke-width="0.9"/>
<path d="M193.9,386.5L197.3,387.5L197.9,387L198,385.7L195.4,380.1L194.8,379.7L192.9,382.4Z" fill="#fad967" stroke="#000" stroke-width="0.9"/>
<path d="M192.5,340.7L186.3,337.6L185,338.2L185.7,344.4L189.6,346.3L192.6,343.6Z" fill="#fcfad0" stroke="#000" stroke-width="0.9"/>
<path d="M212.8,346.5L220.1,344L220.1,343.9L214.8,336.9L213.9,336.7L211.2,341.5Z" fill="#fcfad0" stroke="#000" stroke-width="0.9"/>
<path d="M180.5,413.1L177.7,413.8L176.2,415.5L176.5,419.4L178.9,422.2L181.3,418.9Z" fill="#f7ab05" stroke="#000" stroke-width="0.9"/>
<path d="M176.9,359.8L174.7,359L173.4,359.3L172.4,362.1L173.3,365.1L175.1,366.1L177.9,364.6L178.2,362.1Z" fill="#fcfad0" stroke="#000" stroke-width="0.9"/>
<path d="M220.7,343.7L232.9,349L233.8,342.3L233.7,341.9L224.7,336Z" fill="#fcfad0" stroke="#000" stroke-width="0.9"/>
<path d="M192.5,400.2L190.3,402.8L190.2,404.8L191.2,407.5L191.6,407.9L194.6,408.5L196.8,406.1L192.5,400.2Z" fill="#f7ab05" stroke="#000" stroke-width="0.9"/>
<path d="M180.8,382.1L182.2,380.7L182,378.3L180.5,377.1L177,377.9L178.9,381.5Z" fill="#f7ab05" stroke="#000" stroke-width="0.9"/>
<path d="M192.5,400.2L196.8,406.1L199.4,405.2L199.4,405.2L198.9,398.6L197.9,398L194.8,398Z" fill="#f7ab05" stroke="#000" stroke-width="0.9"/>
<path d="M233.8,342.3L232.9,349L233,349.4L236,350L236,350L236,350L236,350L242,353L249.9,353.7L249,349L246,347.5L246,347.5L246,347.5L246,347.5L246,347.5L246,347.5L246,347.5L246,347.5L244,343L241.9,340.5Z" fill="#fcfad0" stroke="#000" stroke-width="0.9"/>
<path d="M181,345.5L182.2,351.3L184.1,350.5L185.3,344.9Z" fill="#fcfad0" stroke="#000" stroke-width="0.9"/>
<path d="M183.1,399.1L183.4,400.9L183.7,401.1L187.4,400.1L188.2,398.1L186.5,394.5L183.5,397.1Z" fill="#f7ab05" stroke="#000" stroke-width="0.9"/>
<path d="M177.2,388.9L176.1,388.5L175.8,391.5L176.8,390.6Z" fill="#fa6405" stroke="#000" stroke-width="0.7"/>
<path d="M191.1,398.6L188.2,398.1L187.4,400.1L188.5,401.9L190.3,402.8L192.5,400.2Z" fill="#f7ab05" stroke="#000" stroke-width="0.9"/>
<path d="M172.3,353.1L170.8,355.8L173.4,359.3L174.7,359L177.4,352L175.9,350.6Z" fill="#fcfad0" stroke="#000" stroke-width="0.9"/>
<path d="M214.4,398.3L222.4,392.2L222.4,383.9L217.9,384.2L212.7,392.3L212.7,397.2Z" fill="#fcfad0" stroke="#000" stroke-width="0.9"/>
<path d="M189.7,352.6L189.5,352.2L184.1,350.5L182.2,351.3L181.4,352.2L182.4,354.6L186.6,356.4L188.5,355.7Z" fill="#fad967" stroke="#000" stroke-width="0.9"/>
<path d="M188.5,413.3L193.3,416.2L195,413.2L194.6,408.5L191.6,407.9L188.3,412.8Z" fill="#fad967" stroke="#000" stroke-width="0.9"/>
<path d="M220.2,354L221,355.4L222,355L230,349L230,349L230,349L230,349L230,349L230,349L230,349L230,349L230,349L233,349.4L232.9,349L220.7,343.7L220.1,343.9L220.1,344Z" fill="#fcfad0" stroke="#000" stroke-width="0.9"/>
<path d="M181.3,393.7L182.9,392.2L181.3,390.1L181.3,390.1L180.2,391.8Z" fill="#f7ab05" stroke="#000" stroke-width="0.8"/>
<path d="M205.4,393.8L206.2,390.4L202.4,388L201.8,394L202.4,395.2Z" fill="#fcfad0" stroke="#000" stroke-width="0.9"/>
<path d="M178,395.4L179.1,396.8L181,394.9L179.1,394L178,394.9Z" fill="#f7ab05" stroke="#000" stroke-width="0.8"/>
<path d="M213.8,248L217.5,244L217.5,244L217.5,244L217.5,244L217.5,244L217.5,244L217.5,244L217.5,244L224,242.8L232.4,240.2L232.4,237.5L228,239.5L222.5,241L212.5,242.5L210.8,243.4ZM261.9,226.4L261.6,232L261.9,237.8Z" fill="#fcfad0" stroke="#000" stroke-width="0.9"/>
<path d="M197.9,398L196.9,392.2L193.8,394.8L194.8,398Z" fill="#fad967" stroke="#000" stroke-width="0.9"/>
<path d="M175.1,366.1L175.6,370.2L179.1,371.3L180.4,371L178.4,365L177.9,364.6Z" fill="#fcfad0" stroke="#000" stroke-width="0.9"/>
<path d="M214.4,398.3L212.7,397.2L211,397.9L208.8,400.3L210.4,408.7L211.4,409.4L217.4,406.8L217.4,406.6L217.5,406.6L217.5,406.6L217.5,406.6L217.5,406.6L217.5,406.6L217.5,406.6L218.6,405Z" fill="#fcfad0" stroke="#000" stroke-width="0.9"/>
<path d="M182.4,401.5L179.1,401.7L178.3,402.4L179.8,405.7L180.7,405.5Z" fill="#fad967" stroke="#000" stroke-width="0.9"/>
<path d="M182,406.2L185,404.3L183.7,401.1L183.4,400.9L182.4,401.5L180.7,405.5Z" fill="#fad967" stroke="#000" stroke-width="0.9"/>
<path d="M202.9,352.6L205.2,348.5L204.9,347.9L197.8,346.5L196.8,347.2L196.5,350Z" fill="#fcfad0" stroke="#000" stroke-width="0.9"/>
<path d="M191.1,393.3L186.7,393.7L186.5,394.5L188.2,398.1L191.1,398.6Z" fill="#f7ab05" stroke="#000" stroke-width="0.9"/>
<path d="M180.5,413.1L181.3,412L178.4,407.8L177.6,407.8L176.2,410.9L177.7,413.8Z" fill="#f7ab05" stroke="#000" stroke-width="0.9"/>
<path d="M198,385.7L200.9,381.1L200.6,380.1L199.3,379.1L195.4,380.1Z" fill="#fcfad0" stroke="#000" stroke-width="0.9"/>
<path d="M175.7,376.3L175,370.8L171,372.1L171.5,373.2Z" fill="#fad967" stroke="#000" stroke-width="0.9"/>
<path d="M210.5,370.6L206,372.2L207.4,377.8L211.9,378.6L213.6,371.8L213.4,371.7Z" fill="#fad967" stroke="#000" stroke-width="0.9"/>
<path d="M201.8,327.2L212.7,328.2L215.5,323.9L208.6,314.7Z" fill="#fcfad0" stroke="#000" stroke-width="0.9"/>
<path d="M223.5,331.5L224,327.1L222,326.1L215,330L215,330L215,330L215,330L215,330L215,330L215,330L215,330L215,330L215,330L215,330L215,330L215,330L215,330L215,330L215,330L215,330L215,330L215,330L215,330L215,330L215,330L215,330L215,330L215,330L215,330L215,330L215,330L218.7,324L215.5,323.9L212.7,328.2L212.1,333.6L213.9,336.7L214.8,336.9Z" fill="#fcfad0" stroke="#000" stroke-width="0.9"/>
<path d="M175.5,399.4L176.7,398.3L176.6,396.4L175.7,395.2L175.4,395.1L175.3,396L175,399.4Z" fill="#f7ab05" stroke="#000" stroke-width="0.8"/>
<path d="M197.9,387L202.4,387.9L204.9,383.7L204.7,382.7L200.9,381.1L198,385.7Z" fill="#fcfad0" stroke="#000" stroke-width="0.9"/>
<path d="M211.1,350.7L211.3,351.2L220.2,354L220.1,344L212.8,346.5Z" fill="#fcfad0" stroke="#000" stroke-width="0.9"/>
<path d="M169.5,368.5L171,372.1L175,370.8L175.6,370.2L175.1,366.1L173.3,365.1Z" fill="#fcfad0" stroke="#000" stroke-width="0.9"/>
<path d="M178.6,392.2L179.1,394L181,394.9L181.1,394.9L181.3,393.7L180.2,391.8L178.9,391.7Z" fill="#f7ab05" stroke="#000" stroke-width="0.8"/>
<path d="M176.7,398.3L175.5,399.4L178.3,402.4L178.3,402.4L179.1,401.7L178.9,398.3L178.9,398.2Z" fill="#f7ab05" stroke="#000" stroke-width="0.9"/>
<path d="M198.3,358.1L195.9,351.1L190.7,352.8L194.6,358.7L196.9,359.7Z" fill="#fad967" stroke="#000" stroke-width="0.9"/>
<path d="M180.4,388.4L181.3,390.1L181.3,390.1L183.5,389.3L183.4,387.3Z" fill="#f7ab05" stroke="#000" stroke-width="0.8"/>
<path d="M233.7,341.9L233.8,342.3L241.9,340.5L241.5,340L241.5,340L241.5,340L241.5,340L241.5,340L241.5,340L241.5,340L241.5,340L241.5,340L241.5,340L241.5,340L242.9,335L241,331L241,331L241,331L241,331L241,331L241,331L241,331L241,331L241,331L241,331L242.9,327L240,325.1L236.5,327.1Z" fill="#fcfad0" stroke="#000" stroke-width="0.9"/>
<path d="M178.9,398.3L183.1,399.1L183.5,397.1L181.1,394.9L181,394.9L179.1,396.8L178.9,398.2Z" fill="#f7ab05" stroke="#000" stroke-width="0.8"/>
<path d="M186.6,379.5L187.1,378.2L186.9,377.5L184.8,376.6L182,378.3L182.2,380.7L183.7,381.5Z" fill="#fcfad0" stroke="#000" stroke-width="0.9"/>
<path d="M199.4,405.2L203.2,409L203.9,408.7L207.5,400.7L205.1,400.1L199.4,405.2Z" fill="#fcfad0" stroke="#000" stroke-width="0.9"/>
<path d="M172.8,413.9L176.2,415.5L177.7,413.8L176.2,410.9L173.4,411.1Z" fill="#f7ab05" stroke="#000" stroke-width="0.9"/>
<path d="M204.9,335.2L202.3,333.7L200.5,340.7L205,344.7L207.3,341.3Z" fill="#fcfad0" stroke="#000" stroke-width="0.9"/>
<path d="M212.1,363.6L208.6,366L210.5,370.6L213.4,371.7Z" fill="#fcfad0" stroke="#000" stroke-width="0.9"/>
<path d="M168.6,267.5L170,266L170,266L170,266L177.5,260L177.5,260L177.5,260L183,257L183,257L190,254L190,254L190,254L195.6,253L196.4,249.6L194,250L187.5,250L183,253L177.5,257.5L171,261L166.4,264Z" fill="#fcfad0" stroke="#000" stroke-width="0.9"/>
<path d="M199.6,341.4L200.5,340.7L202.3,333.7L201.4,332.2L194.2,337.9L193.9,339.1Z" fill="#fcfad0" stroke="#000" stroke-width="0.9"/>
<path d="M166.4,264L165,265L161,266L157.5,266L156,270L154,275L153,282L151.8,287L156,288.3L165.7,281.8L164,277L164,277L164,277L164,277L164,277L164,277L164.5,272L164.5,272L164.5,272L164.5,272L164.5,272L164.5,272L164.5,272L164.5,272L168.6,267.5Z" fill="#fcfad0" stroke="#000" stroke-width="0.9"/>
<path d="M217.4,370.7L222.4,379L222.4,367L222.5,367L222.5,367L222.5,367L222.5,367L222.5,367L222.5,367L222.5,367L222.5,367L222.5,367L222.5,367L222.5,367L222.5,367L222.5,367L222.5,367L222.5,367L222.5,367L222.5,367L232.1,367.4L226,365.5L220.5,364.2Z" fill="#fcfad0" stroke="#000" stroke-width="0.9"/>
<path d="M212.4,305.6L224.9,311.5L224.9,309L222.5,302.5L222.5,302.5L222.5,302.5L222.5,302.5L222.5,302.5L222.5,302.5L222.5,302.5L222.5,302.5L222.5,302.5L226,295L226,295L226,295L227.2,293.2L212.9,298.9Z" fill="#fcfad0" stroke="#000" stroke-width="0.9"/>
<path d="M189.6,346.3L189.5,352.2L189.7,352.6L190.7,352.8L195.9,351.1L196.5,350L196.8,347.2L192.6,343.6Z" fill="#fcfad0" stroke="#000" stroke-width="0.9"/>
<path d="M196,365L197.2,371.5L198.3,371.9L200.6,371.8L203.8,370.2L204.8,365.6L204.6,364.9L196.4,364.3Z" fill="#fcfad0" stroke="#000" stroke-width="0.9"/>
<path d="M217.4,370.7L213.6,371.8L211.9,378.6L213.6,381.4L217.9,384.2L222.4,383.9L222.4,379Z" fill="#fcfad0" stroke="#000" stroke-width="0.9"/>
<path d="M155.3,301.9L156,288.3L151.8,287L151,290L150,296L149,302.5L148.9,303Z" fill="#fcfad0" stroke="#000" stroke-width="0.9"/>
<path d="M184.8,386.9L186,384.2L184.4,383.4L182.7,385.4L183.4,387.2Z" fill="#fad967" stroke="#000" stroke-width="0.9"/>
<path d="M179.1,401.7L182.4,401.5L183.4,400.9L183.1,399.1L178.9,398.3Z" fill="#fad967" stroke="#000" stroke-width="0.9"/>
<path d="M172.8,413.9L173.4,411.1L173.1,409.9L168.3,410.1L169.2,414.5L170.6,415.3Z" fill="#fa6405" stroke="#000" stroke-width="0.9"/>
<path d="M206.2,390.4L208.4,389.2L208.2,385.9L204.9,383.7L202.4,387.9L202.4,388Z" fill="#fcfad0" stroke="#000" stroke-width="0.9"/>
<path d="M220.2,354L211.3,351.2L210.4,355.5L211.1,358.9L211.2,359.1L215,358L221,355.4Z" fill="#fcfad0" stroke="#000" stroke-width="0.9"/>
<path d="M191.6,392L197,390L197.3,387.5L193.9,386.5L191,387.8Z" fill="#fad967" stroke="#000" stroke-width="0.9"/>
<path d="M189.8,379.6L192.9,377L188.5,374.9L186.9,377.5L187.1,378.2Z" fill="#fcfad0" stroke="#000" stroke-width="0.9"/>
<path d="M211.1,358.9L210.4,355.5L202.5,356.9L202.3,357.4L204.7,362.2L206.5,361.3L205,361L205,361L205,361L205,361L205,361L205,361L205,361L205,361L205,361L205,361L205,361L205,361L205,361L205,361L205,361L205,361L205,361L205,361L205,361L205,361L205,361L205,361L205,361L205,361L205,361L205,361L205,361L205,361L210.3,359.4Z" fill="#fcfad0" stroke="#000" stroke-width="0.9"/>
<path d="M215,416.4L217.5,415L217.5,415L217.5,415L217.5,415L217.5,415L217.5,415L217.4,415L217.4,406.8L211.4,409.4L211.1,413.1Z" fill="#fcfad0" stroke="#000" stroke-width="0.9"/>
<path d="M196.9,392.2L197.2,391.2L197,390L191.6,392L191.2,393.2L193.8,394.8Z" fill="#fad967" stroke="#000" stroke-width="0.9"/>
<path d="M180.4,330.9L185.9,326.7L187.3,314.7L181.3,310.1L174.5,325L175.1,327.6L177.2,330.2Z" fill="#fad967" stroke="#000" stroke-width="0.9"/>
<path d="M196.8,347.2L197.8,346.5L199.6,341.4L193.9,339.1L192.5,340.7L192.6,343.6Z" fill="#fcfad0" stroke="#000" stroke-width="0.9"/>
<path d="M185.2,417L182.9,411.5L181.3,412L180.5,413.1L181.3,418.9L184.6,418.3Z" fill="#f7ab05" stroke="#000" stroke-width="0.9"/>
<path d="M175.7,344.6L177.5,342.8L178,341.3L175.8,336.7L171.1,336.9L171.8,339.4L171.8,339.4L171.8,339.4L171.8,339.4L171.8,339.4L171.8,339.4L171.8,339.4L171.8,339.4L171.8,339.4L171.8,339.4L171.8,339.4L171.8,339.4L171.8,339.4L170.7,340.2L171.8,340.2L171.8,340.3L171.8,340.3L171.8,340.3L171.8,340.3L171.8,340.3L171.8,340.3L171.8,340.3L171.8,340.3L171.8,340.3L171.8,340.3L171.8,340.3L171.8,340.3L171.8,340.3L171.8,340.3L171.8,340.3L171.9,340.3L171.9,343Z" fill="#fcfad0" stroke="#000" stroke-width="0.9"/>
<path d="M183.5,389.3L185.5,391.9L185.7,392L186.2,388.2L184.8,386.9L183.4,387.2L183.4,387.3Z" fill="#fad967" stroke="#000" stroke-width="0.9"/>
<path d="M173.1,409.9L173.5,405.6L168.3,410L168.3,410.1Z" fill="#f7ab05" stroke="#000" stroke-width="0.9"/>
<path d="M176.3,377.6L176.3,377.4L175.7,376.3L171.5,373.2L173.6,378.3L174,379.7Z" fill="#fad967" stroke="#000" stroke-width="0.9"/>
<path d="M188.5,374.9L188.6,370.4L188.4,370.1L183.2,371.2L184.8,376.6L186.9,377.5Z" fill="#fad967" stroke="#000" stroke-width="0.9"/>
<path d="M439.5,447.7L444.2,440.2L440.7,437.7L436.9,441.4L438.3,444.2L438.9,447.7Z" fill="#f7ab05" stroke="#000" stroke-width="0.9"/>
<path d="M431.1,425.8L428.8,424.7L427.3,428L427.5,428.7L429.5,429Z" fill="#f7ab05" stroke="#000" stroke-width="0.8"/>
<path d="M424.8,398.2L424.6,399.4L424.8,399.9L429.6,400.6L432,396.6L431.1,396.6L431.1,396.5L431.1,396.5L431.1,396.5L431.1,396.5L431.1,396.5L431.1,396.5L431.1,396.5L431.1,396.5L431.1,396.5L431.1,396.5L431.1,396.5L431.1,396.5L431.1,396.5L430.6,395.1Z" fill="#f7ab05" stroke="#000" stroke-width="0.9"/>
<path d="M395,411.3L397.4,407.7L397.4,407.5L393.6,405.8L391.1,406L387.4,411.5L388.1,413Z" fill="#fad967" stroke="#000" stroke-width="0.9"/>
<path d="M429.4,418.2L434,416.4L434.3,415.9L433.2,414.2L430.7,413.5L428,414.6L427.8,416.3L429.3,418.1Z" fill="#fad967" stroke="#000" stroke-width="0.9"/>
<path d="M435.6,402.8L435.6,396.6L432,396.6L429.6,400.6L430.1,402.8Z" fill="#f7ab05" stroke="#000" stroke-width="0.9"/>
<path d="M442.2,428.8L443.4,429.9L446.1,429.8L451,425.8L448.6,421.6L447.4,421.3L441.4,424.5Z" fill="#fcfad0" stroke="#000" stroke-width="0.9"/>
<path d="M430.9,432.2L430.6,429.6L429.5,429L427.5,428.7L427.9,431.1L426.8,431.5L427.7,433.7L429.3,433.7Z" fill="#fad967" stroke="#000" stroke-width="0.9"/>
<path d="M430,405.8L435,407.8L435.6,407.4L435.6,402.8L430.1,402.8L429.8,403.4Z" fill="#fad967" stroke="#000" stroke-width="0.9"/>
<path d="M427.2,407.4L425.3,406.1L422.4,406.9L422.4,407L423,408.9L425.4,410.8Z" fill="#fad967" stroke="#000" stroke-width="0.9"/>
<path d="M426,403.6L429.8,403.4L430.1,402.8L429.6,400.6L424.8,399.9L424.6,401Z" fill="#fad967" stroke="#000" stroke-width="0.9"/>
<path d="M446.3,454.9L444.1,448.8L439.5,447.7L438.9,447.7L439.6,452L443.5,457.2L444.1,457.7Z" fill="#fcfad0" stroke="#000" stroke-width="0.9"/>
<path d="M397.4,407.7L395,411.3L395,417L401.6,415.8L401.8,415.5L402.4,415Z" fill="#fad967" stroke="#000" stroke-width="0.9"/>
<path d="M440.4,423.2L440.6,418.8L439,415.4L434.3,415.9L434,416.4L434,421.5L434.5,422.8Z" fill="#fad967" stroke="#000" stroke-width="0.9"/>
<path d="M448.6,421.6L451,425.8L453.1,425.8L453.1,416.6Z" fill="#fcfad0" stroke="#000" stroke-width="0.9"/>
<path d="M447.1,438.6L445.6,440.1L447.6,444.1L452.7,442.3L452.6,441.5L452.6,441.5L452.6,441.5L452.6,441.5L452.6,441.5L452.6,441.5L452.6,441.5L452.6,441.5L452.6,441.5L452.6,441.5L452.6,441.5L452.6,441.5L452.6,441.5L452.6,441.5L452.6,441.5L452.6,441.5L453.2,441.3L453.2,437Z" fill="#fcfad0" stroke="#000" stroke-width="0.9"/>
<path d="M425.3,421.7L425.9,423.2L428.7,423.3L428.9,422.9L428.6,421.9L426.6,421Z" fill="#fa6405" stroke="#000" stroke-width="0.8"/>
<path d="M434.1,409L435,407.8L430,405.8L428.3,407.5L429.5,410Z" fill="#f7ab05" stroke="#000" stroke-width="0.9"/>
<path d="M429.4,410.1L430.7,413.5L433.2,414.2L434.1,409L429.5,410Z" fill="#f7ab05" stroke="#000" stroke-width="0.9"/>
<path d="M398.7,404.3L397.5,407.4L405.4,407.2L408.6,404.6L408.7,404.5L404.4,401.8L404.2,401.8Z" fill="#fcfad0" stroke="#000" stroke-width="0.9"/>
<path d="M425.8,412.3L425.4,410.8L423,408.9L421,413.2L421.3,413.7L421.8,413.2L422.3,414.4L425.8,412.4Z" fill="#fcfad0" stroke="#000" stroke-width="0.9"/>
<path d="M405.4,407.2L397.5,407.4L397.4,407.5L397.4,407.7L402.4,415L405.7,412.2Z" fill="#fcfad0" stroke="#000" stroke-width="0.9"/>
<path d="M421,390.8L430.1,393.2L429.8,392L429.8,392L428.5,386.8L421.4,386.8L420.8,390.6Z" fill="#fad967" stroke="#000" stroke-width="0.9"/>
<path d="M422.4,407L422.4,406.9L421,403.7L418.7,402.6L419.4,407.6L419,408.5ZM414.6,404.1L414.8,403.7L416,401.3L414.5,400.6L414.2,401.1L413.9,402.2Z" fill="#fcfad0" stroke="#000" stroke-width="0.9"/>
<path d="M416.6,420.8L414,423.2L416,425.3L417.4,424.6L418.3,422.3Z" fill="#fad967" stroke="#000" stroke-width="0.9"/>
<path d="M430,405.8L429.8,403.4L426,403.6L425.3,406.1L427.2,407.4L428.3,407.5Z" fill="#fcfad0" stroke="#000" stroke-width="0.9"/>
<path d="M398.7,404.3L404.2,401.8L398.3,399.3Z" fill="#fcfad0" stroke="#000" stroke-width="0.9"/>
<path d="M384.9,402L391.1,406L393.6,405.8L392.5,398.9L390,399L390,399L390,399L390,399L390,399L390,399L390,399L390,399L390,399L390,399L389.9,399Z" fill="#fcfad0" stroke="#000" stroke-width="0.9"/>
<path d="M449.3,454.9L446.3,454.9L444.1,457.7L448,461L452.5,464L453.2,464.3L453.2,457.1Z" fill="#f7ab05" stroke="#000" stroke-width="0.9"/>
<path d="M435.7,429.8L434.2,423.3L432.3,425.6L433,428.9Z" fill="#fad967" stroke="#000" stroke-width="0.9"/>
<path d="M423.7,432.6L421.4,434.4L424.1,433.9Z" fill="#fad967" stroke="#000" stroke-width="0.9"/>
<path d="M446.1,429.8L443.4,429.9L443.3,430.4L447.1,438.6L453.2,437L453.2,435.4Z" fill="#fcfad0" stroke="#000" stroke-width="0.9"/>
<path d="M440.7,437.7L440.6,436.7L436.4,435.4L434.6,436.8L436.9,441.4Z" fill="#fad967" stroke="#000" stroke-width="0.9"/>
<path d="M451,425.8L446.1,429.8L453.2,435.4L453.2,432.1L453.2,432L453.2,432L453.2,432L453.2,432L453.2,432L453.2,432L453.2,432L453.2,432L453.2,432L453.2,432L453.1,432L453.1,425.8Z" fill="#fcfad0" stroke="#000" stroke-width="0.9"/>
<path d="M421,413.2L423,408.9L422.4,407L419,408.5L418.1,410.9Z" fill="#fcfad0" stroke="#000" stroke-width="0.9"/>
<path d="M384.9,402L389.9,399L386.1,394.8L387.4,398.5L387.4,398.5L387.4,398.5L387.4,398.5L387.4,398.5L387.4,398.5L387.4,398.5L387.4,398.5L387.4,398.5L387.4,398.5L387.4,398.5L385.5,401L385.5,401L384.6,402ZM365.8,387.8L367,387.5L367.5,389.7L367,386.8Z" fill="#fcfad0" stroke="#000" stroke-width="0.9"/>
<path d="M433.1,435.5L434.4,436.4L434.6,436.8L436.4,435.4L436.3,430.7L433.1,432.8Z" fill="#fad967" stroke="#000" stroke-width="0.9"/>
<path d="M444.1,448.8L446.3,454.9L449.3,454.9L451.4,448.8L446.9,447.4Z" fill="#fcfad0" stroke="#000" stroke-width="0.9"/>
<path d="M428.6,421.9L428.9,422.9L434.4,422.8L434.5,422.8L434,421.5L429.7,420.1Z" fill="#f7ab05" stroke="#000" stroke-width="0.9"/>
<path d="M394.6,417.4L390.5,418.7L391.3,420.7L395.2,424.6L397.9,425.9L398.5,422.9Z" fill="#f7ab05" stroke="#000" stroke-width="0.9"/>
<path d="M427.8,416.3L424.6,417.6L426.5,419.7L429.3,418.1Z" fill="#fad967" stroke="#000" stroke-width="0.9"/>
<path d="M433.1,432.8L430.9,432.2L429.3,433.7L430.5,433.7L433.1,435.5Z" fill="#fad967" stroke="#000" stroke-width="0.9"/>
<path d="M395,411.3L388.1,413L388.7,414.2L390.5,418.7L394.6,417.4L395,417Z" fill="#f7ab05" stroke="#000" stroke-width="0.9"/>
<path d="M451.4,448.8L449.3,454.9L453.2,457.1L453.2,448.3Z" fill="#fcfad0" stroke="#000" stroke-width="0.9"/>
<path d="M421,403.7L424.6,401L424.8,399.9L424.6,399.4L418.5,399.4L418.7,402.4L418.7,402.6ZM416,401.3L416.1,401.1L416.5,399.5L415.1,399.5L414.5,400.6Z" fill="#fad967" stroke="#000" stroke-width="0.9"/>
<path d="M408.6,404.6L405.4,407.2L405.7,412.2L405.7,412.2L410.2,409.9Z" fill="#fcfad0" stroke="#000" stroke-width="0.9"/>
<path d="M426.5,419.7L426.6,421L428.6,421.9L429.7,420.1L429.4,418.2L429.3,418.1Z" fill="#f7ab05" stroke="#000" stroke-width="0.8"/>
<path d="M429.7,420.1L434,421.5L434,416.4L429.4,418.2Z" fill="#fad967" stroke="#000" stroke-width="0.9"/>
<path d="M430.7,413.5L429.4,410.1L425.8,412.3L425.8,412.4L428,414.6Z" fill="#fcfad0" stroke="#000" stroke-width="0.9"/>
<path d="M430.9,432.2L433.1,432.8L436.3,430.7L436.4,430.4L435.7,429.8L433,428.9L430.6,429.6Z" fill="#fad967" stroke="#000" stroke-width="0.9"/>
<path d="M421,403.7L422.4,406.9L425.3,406.1L426,403.6L424.6,401Z" fill="#fad967" stroke="#000" stroke-width="0.9"/>
<path d="M395,417L394.6,417.4L398.5,422.9L399.2,419.4L401.6,415.8Z" fill="#fad967" stroke="#000" stroke-width="0.9"/>
<path d="M384.6,402L383.5,403L383.5,403L383.5,403L383.5,403L383.5,403L383.5,403L383.5,403L383.5,403L383.5,403L383.5,403L383.5,403L379.7,402.5L384.8,406.3L387.4,411.5L391.1,406L384.9,402Z" fill="#fad967" stroke="#000" stroke-width="0.9"/>
<path d="M428,414.6L425.8,412.4L422.3,414.4L423.7,417.5L424.6,417.6L427.8,416.3Z" fill="#fad967" stroke="#000" stroke-width="0.9"/>
<path d="M428.3,407.5L427.2,407.4L425.4,410.8L425.8,412.3L429.4,410.1L429.5,410Z" fill="#fad967" stroke="#000" stroke-width="0.9"/>
<path d="M393.6,405.8L397.4,407.5L397.5,407.4L398.7,404.3L398.3,399.3L396.5,398.6L392.5,398.9Z" fill="#fcfad0" stroke="#000" stroke-width="0.9"/>
<path d="M447,415L440.9,412.9L440.9,412.9L440.9,412.9L440.4,412.7L439,415.4L440.6,418.8L445.8,417.5Z" fill="#fcfad0" stroke="#000" stroke-width="0.9"/>
<path d="M444.2,440.2L439.5,447.7L444.1,448.8L446.9,447.4L447.6,444.1L445.6,440.1Z" fill="#fad967" stroke="#000" stroke-width="0.9"/>
<path d="M447.6,444.1L446.9,447.4L451.4,448.8L453.2,448.3L453.2,444.5L453,444.5L453,444.5L453,444.5L453,444.5L453,444.5L453,444.5L453,444.5L453,444.5L453,444.5L453,444.5L453,444.5L453,444.5L453,444.5L453,444.5L453,444.5L453,444.5L453,444.5L453,444.5L452.7,442.3Z" fill="#fcfad0" stroke="#000" stroke-width="0.9"/>
<path d="M430.6,429.6L433,428.9L432.3,425.6L431.1,425.8L429.5,429Z" fill="#f7ab05" stroke="#000" stroke-width="0.9"/>
<path d="M445.8,417.5L447.4,421.3L448.6,421.6L453.1,416.6L453.1,416L453.2,416L453.2,416L453.2,416L453.2,416L453.2,416L453.2,416L453.2,416L453.2,416L453.2,416L453.2,416L453.2,416L453.2,416L453.2,416L453.2,416L453.2,416L453.2,415.9L453.2,415.6L453.2,415.5L453.2,415.5L453.2,415.5L453.2,415.5L453.2,415.5L453.2,415.5L453.2,415.5L453.2,415.5L453.2,415.5L453.2,415.5L453.2,415.5L453.2,415.5L453.2,415.5L453.1,415.5L453.1,413.6L448.8,415.5L448.8,415.5L448.8,415.5L448.8,415.5L448.8,415.5L448.8,415.5L448.8,415.5L448.8,415.5L448.8,415.5L447,415Z" fill="#fcfad0" stroke="#000" stroke-width="0.9"/>
<path d="M440.6,436.7L440.7,437.7L444.2,440.2L445.6,440.1L447.1,438.6L443.3,430.4Z" fill="#fad967" stroke="#000" stroke-width="0.9"/>
<path d="M434.2,423.3L435.7,429.8L436.4,430.4L442.2,428.8L441.4,424.5L440.4,423.2L434.5,422.8L434.4,422.8Z" fill="#f7ab05" stroke="#000" stroke-width="0.9"/>
<path d="M426.6,421L426.5,419.7L424.6,417.6L423.7,417.5L424,418.1L425.3,421.7Z" fill="#f7ab05" stroke="#000" stroke-width="0.8"/>
<path d="M436.3,430.7L436.4,435.4L440.6,436.7L443.3,430.4L443.4,429.9L442.2,428.8L436.4,430.4Z" fill="#fad967" stroke="#000" stroke-width="0.9"/>
<path d="M414.6,416.5L413.5,423.1L414,423.2L416.6,420.8L416.5,417.6Z" fill="#fad967" stroke="#000" stroke-width="0.9"/>
<path d="M416.5,417.6L416.6,420.8L418.3,422.3L420,418.1L420.2,417.1Z" fill="#fcfad0" stroke="#000" stroke-width="0.9"/>
<path d="M441.4,424.5L447.4,421.3L445.8,417.5L440.6,418.8L440.4,423.2Z" fill="#fcfad0" stroke="#000" stroke-width="0.9"/>
<path d="M421,390.8L424.8,398.2L430.6,395.1L430.1,393.2Z" fill="#f7ab05" stroke="#000" stroke-width="0.9"/>
<path d="M432.3,425.6L434.2,423.3L434.4,422.8L428.9,422.9L428.7,423.3L428.7,424.3L428.8,424.7L431.1,425.8Z" fill="#fad967" stroke="#000" stroke-width="0.8"/>
<path d="M424.1,433.9L425.3,433.7L427.7,433.7L426.8,431.5L424,432.4L423.7,432.6Z" fill="#fad967" stroke="#000" stroke-width="0.9"/>
<path d="M428.7,424.3L428.7,423.3L425.9,423.2L425.9,423.3L426.4,424.7Z" fill="#fa6405" stroke="#000" stroke-width="0.7"/>
<path d="M435,407.8L434.1,409L433.2,414.2L434.3,415.9L439,415.4L440.4,412.7L435.7,410.2L435.7,410.2L435.7,410.2L435.7,410.2L435.7,410.2L435.7,410.2L435.7,410.2L435.7,410.2L435.7,410.2L435.7,410.2L435.7,410.2L435.6,410.2L435.6,407.4Z" fill="#fad967" stroke="#000" stroke-width="0.9"/>
<path d="M421,390.8L420.8,390.6L420.7,390.7L420.7,390.7L420.7,390.7L420.7,390.7L420.7,390.7L420.7,390.7L418.1,393.9L418.1,393.9L418.1,393.9L418.1,393.9L418.1,393.9L418.1,393.9L418.1,393.9L418.1,393.9L418.1,393.9L418.1,393.9L418.5,399.4L424.6,399.4L424.8,398.2ZM416.5,399.5L417.7,394.3L417.4,394.6L415.1,399.5Z" fill="#fad967" stroke="#000" stroke-width="0.9"/>
<path d="M413.9,402.2L412.9,405L412.9,405L412.9,405L412.9,405L412.9,405L412.9,405L412.9,405L412.9,405L412.9,405L412.9,405L412.9,405L412.9,405L412.9,405L412.9,405.1L409.6,405.1L409.6,405L409.6,405L409.6,405L409.6,405L409.6,405L409.6,405L408.7,404.5L408.6,404.6L410.2,409.9L412.2,408.9L414.6,404.1Z" fill="#fcfad0" stroke="#000" stroke-width="0.9"/>
<path d="M428.8,424.7L428.7,424.3L426.4,424.7L427.2,427.2L427.3,428Z" fill="#f7ab05" stroke="#000" stroke-width="0.7"/>
<path d="M421,413.2L418.1,410.9L417.4,412.9L414.8,415.5L414.6,416.5L416.5,417.6L420.2,417.1L420.7,414.2L421.3,413.7Z" fill="#fcfad0" stroke="#000" stroke-width="0.9"/>
<path d="M414,423.2L413.5,423.1L413.5,423.3L409,427.9L412.2,427.2L416,425.3Z" fill="#fcfad0" stroke="#000" stroke-width="0.9"/>
<path d="M588.6,330.8L589.5,330.2L589.3,328L588,327.8L587.9,329.5L588.1,330.5Z" fill="#fa6405" stroke="#000" stroke-width="0.7"/>
<path d="M581.9,331.2L581.4,330.4L579.2,331.3L579.2,334.8L581.6,333.8Z" fill="#f7ab05" stroke="#000" stroke-width="0.9"/>
<path d="M584.1,329.1L583.5,331.5L584.2,332.4L585.6,331.7L585.9,329.6L585.9,329.3Z" fill="#f7ab05" stroke="#000" stroke-width="0.8"/>
<path d="M586,328.8L586.5,328.3L587.3,326.6L586.6,325.2L586.2,325.2L586.1,325.3L585.5,326.6L585.5,327.5Z" fill="#fa6405" stroke="#000" stroke-width="0.7"/>
<path d="M485.3,290.8L494.5,281.5L483.7,264.6L475.1,283.4Z" fill="#fcfad0" stroke="#000" stroke-width="0.9"/>
<path d="M495.1,259.7L499.5,254.4L497.7,245.7L491.5,236.5L491.5,236.5L491.5,236.5L491.5,236.5L491.5,236.5L491.5,236.5L491.5,236.5L491.5,236.5L491.5,236.5L491.5,236.5L494.3,227.5L488.8,219.5L482,231.2L481.5,251.9L484,257.8Z" fill="#fcfad0" stroke="#000" stroke-width="0.9"/>
<path d="M469.3,328.7L465.3,324L453.2,325.1L453.2,352.2L467.7,352.2Z" fill="#fcfad0" stroke="#000" stroke-width="0.9"/>
<path d="M553.9,270.5L553.9,272.2L556.8,275.7L556.8,275.7L556.8,275.7L557.6,277L559.5,271.4L555.1,267Z" fill="#f7ab05" stroke="#000" stroke-width="0.9"/>
<path d="M588.6,330.8L588.9,334.5L590.2,336L590,335L589.5,330.2Z" fill="#fa6405" stroke="#000" stroke-width="0.8"/>
<path d="M588.3,339.2L588.2,339.9L588.9,341.8L591,342.2L591,340L590.4,337Z" fill="#f20000" stroke="#000" stroke-width="0.8"/>
<path d="M585.5,326.6L586.1,325.3L584.3,325L584.1,326.3Z" fill="#f7ab05" stroke="#000" stroke-width="0.8"/>
<path d="M485.3,290.8L486.6,305.8L502.9,308L502.9,305.6L503,305.6L503,305.6L503,305.6L503,305.6L503,305.6L503,305.6L505.4,301.8L504,292.6L499.5,283.1L495.1,281.3L494.5,281.5Z" fill="#fad967" stroke="#000" stroke-width="0.9"/>
<path d="M586.6,325.2L588,322.4L585.6,322.1L585.4,322.9L586.2,325.2Z" fill="#fa6405" stroke="#000" stroke-width="0.8"/>
<path d="M573.6,315.5L572.5,319.2L573.3,320.8L576.5,320.6L576.6,320.3L576.3,317.2L576.2,317Z" fill="#fad967" stroke="#000" stroke-width="0.9"/>
<path d="M585.9,329.6L585.6,331.7L586.6,332.6L587.9,330.6Z" fill="#f7ab05" stroke="#000" stroke-width="0.8"/>
<path d="M567.1,308L566.3,312.1L568.1,314.7L572,312.7L572.1,312L571.4,308Z" fill="#fcfad0" stroke="#000" stroke-width="0.9"/>
<path d="M573.5,324.2L575.6,325.4L576.4,324.7L576.7,321.5L576.5,320.6L573.3,320.8L573.1,322.9Z" fill="#fad967" stroke="#000" stroke-width="0.9"/>
<path d="M582.5,321.1L582.6,320.8L582.7,319.2L582.1,317.3L579.6,317.6L579.4,318.7L581.3,322.7L581.3,322.7Z" fill="#f7ab05" stroke="#000" stroke-width="0.9"/>
<path d="M566.9,306L566.4,304.7L564.3,303.6L560.4,307.8L560.8,310.8L565.3,312.4L566.3,312.1L567.1,308Z" fill="#fad967" stroke="#000" stroke-width="0.9"/>
<path d="M452.9,315.2L453.2,315.2L453.2,315.3L453.2,315.3L453.2,315.3L453.2,315.3L453.2,315.3L453.2,315.3L453.2,315.3L453.2,315.3L453.2,315.3L453.2,315.3L453.2,315.3L453.2,315.3L453.2,315.3L453.2,315.3L453.2,315.3L453.2,315.3L453.2,325.1L465.3,324L469.3,304.7L466.5,290.2L464.4,289.4L456.2,296.4Z" fill="#fad967" stroke="#000" stroke-width="0.9"/>
<path d="M582.7,336.3L582.3,336.3L581.3,337.7L582.3,341.9L582.8,342.6L584.5,339.9L584.5,339.8Z" fill="#f7ab05" stroke="#000" stroke-width="0.9"/>
<path d="M558.9,314.4L561,316.9L561,316.9L561,316.9L561,316.9L561,316.9L562.6,321L565.3,312.4L560.8,310.8Z" fill="#fcfad0" stroke="#000" stroke-width="0.9"/>
<path d="M580.3,306.7L580.1,307.1L580.4,307.7L583,308.9L583.7,308.5L584.3,306.8L584,306.5L582.4,305.1Z" fill="#fa6405" stroke="#000" stroke-width="0.9"/>
<path d="M577,313.6L575.8,311.8L573.5,314.8L573.6,315.5L576.2,317Z" fill="#f7ab05" stroke="#000" stroke-width="0.9"/>
<path d="M582.3,314.1L584.2,314L584.4,310.8L583.7,308.5L583,308.9L581.6,313.3Z" fill="#f7ab05" stroke="#000" stroke-width="0.8"/>
<path d="M584.3,325L586.1,325.3L586.2,325.2L585.4,322.9L584.8,323.2L584.3,324.8Z" fill="#fa6405" stroke="#000" stroke-width="0.8"/>
<path d="M560.8,310.8L560.4,307.8L558,303.4L553.5,305.2L555.6,311.5L555.6,311.5L555.6,311.5L555.6,311.5L555.6,311.5L555.6,311.5L555.6,311.5L555.6,311.5L553.4,318L553.4,318L553.4,318L553.4,318L553.4,318L553.4,318L553.4,318L553.4,318L553.4,318L553.4,318L553.4,318L548.1,319.6L548.1,319.7L554.6,319.4L555.6,319L557.2,312.6L557.2,312.6L557.2,312.6L557.2,312.6L557.2,312.6L557.2,312.6L557.2,312.6L557.2,312.6L557.2,312.6L557.2,312.6L557.2,312.6L557.2,312.6L557.2,312.6L557.2,312.6L557.2,312.6L557.2,312.6L557.2,312.6L557.2,312.6L557.2,312.6L557.2,312.6L557.2,312.6L557.2,312.6L557.2,312.6L558.9,314.4ZM550.4,303.5L550.4,303.5L550.4,303.5Z" fill="#fcfad0" stroke="#000" stroke-width="0.9"/>
<path d="M570,343L569.3,341.2L567.7,339.7L564.1,344.8L568,349.3L569.2,348.6Z" fill="#fcfad0" stroke="#000" stroke-width="0.9"/>
<path d="M568.1,314.9L570.4,319.1L572.5,319.2L573.6,315.5L573.5,314.8L572,312.7L568.1,314.7Z" fill="#fad967" stroke="#000" stroke-width="0.9"/>
<path d="M568.9,325.1L570.4,319.1L568.1,314.9L565.2,325L567,327.3L568.5,325.8Z" fill="#fcfad0" stroke="#000" stroke-width="0.9"/>
<path d="M588.9,341.8L588.2,339.9L586.7,342.4L586.6,343.4L588.9,343Z" fill="#fa6405" stroke="#000" stroke-width="0.8"/>
<path d="M569.2,293.3L568.8,293.6L569.5,294.1ZM566.4,304.7L566.9,306L571.4,302.3L569.9,301L569.9,301L569.9,301L569.9,301L569.9,301L569.9,301L569.9,301L569.5,299.7L567.5,298.7Z" fill="#f7ab05" stroke="#000" stroke-width="0.9"/>
<path d="M564,344.8L564.1,344.8L567.7,339.7L566.9,334.2L560.4,335.6L560.4,336.2L560.4,336.2L560.4,336.2L560.4,336.2L560.4,336.2L560.4,336.2L560.4,336.2L560.4,336.2L560.4,336.2L560.4,336.2L560.4,336.2L560.4,336.2L560.4,336.2L560.4,336.2L560.4,336.3Z" fill="#fcfad0" stroke="#000" stroke-width="0.9"/>
<path d="M546.8,267.5L553.9,270.5L555.1,267L553.7,265.7L548.8,260Z" fill="#fad967" stroke="#000" stroke-width="0.9"/>
<path d="M572,312.7L573.5,314.8L575.8,311.8L575.8,308.3L572.1,312Z" fill="#fad967" stroke="#000" stroke-width="0.9"/>
<path d="M499.5,283.1L504,292.6L517.8,279.1L513,274.9L513,274.9L513,274.9L513,274.9L513,274.9L510,268.8L510,268.8L510,268.8L510,268.8L510,268.8L509.5,264.7L508.5,266.5L508.5,267.2L509.2,275.7L509.2,275.7L509.2,275.7L509.2,275.7L509.2,275.7L509.2,275.7L509.2,275.7L509.2,275.7L509.2,275.7L505.3,280.3L503,284.1L503,284.1L503,284.1L503,284.1L503,284.1L503,284.1L503,284.1L503,284.1L503,284.1L503,284.1L503,284.1L503,284.1L503,284.1L503,284.1L503,284.1L503,284.1L503,284.1L500,282.3Z" fill="#fcfad0" stroke="#000" stroke-width="0.9"/>
<path d="M435.7,240.4L446.5,254.5L456.8,229.5L456.8,229.4L439.2,221.6L439.1,222.5L441,230L441,230L442.5,236L442.5,236L442.5,236L442.5,236L442.5,236L442.5,236L442.5,236L442.5,236L442.5,236L442.5,236L442.5,236L442.5,236L442.5,236L442.5,236L442.5,236L442.5,236L442.5,236L442.5,236L442.5,236L442.5,236L442.5,236L442.5,236L442.5,236L442.5,236L442.5,236L442.5,236L442.5,236L442.5,236L439,232L436,230L433.7,229.7Z" fill="#fcfad0" stroke="#000" stroke-width="0.9"/>
<path d="M579,311.9L576.2,306.8L576.1,306.9L575.8,308.3L575.8,311.8L577,313.6L578,313.5Z" fill="#f7ab05" stroke="#000" stroke-width="0.9"/>
<path d="M583,308.9L580.4,307.7L580.1,311.6L581.4,313.3L581.6,313.3Z" fill="#f7ab05" stroke="#000" stroke-width="0.8"/>
<path d="M504,292.6L505.4,301.8L507.6,298.7L507.6,298.7L507.6,298.7L507.6,298.7L507.6,298.7L507.6,298.7L507.6,298.7L507.6,298.7L507.6,298.7L507.6,298.7L507.6,298.6L508.8,298.6L509.4,297.5L509.4,297.5L509.4,297.5L509.4,297.5L509.4,297.5L509.4,297.5L509.4,297.5L509.4,297.5L509.4,297.5L509.4,297.5L509.4,297.5L509.4,297.5L509.4,297.5L509.4,297.5L509.4,297.5L513.5,298.6L517.5,298.6L517.6,298.5L519.2,294.9L521.5,288.7L521.5,288.7L521.5,288.7L524.5,284.1L524.5,284.1L524.5,284.1L524.5,284.1L524.5,284.1L524.5,284.1L524.5,284.1L524.5,284.1L524.5,284.1L524.5,284.1L528.8,283.4L522.2,282.6L522.2,282.6L522.2,282.6L522.2,282.6L522.2,282.6L522.2,282.6L522.2,282.6L518.4,279.5L518.4,279.5L517.8,279.1Z" fill="#fcfad0" stroke="#000" stroke-width="0.9"/>
<path d="M498.5,328.1L500.7,346.1L513.9,330.6L511.5,328.7L505.1,327.6L505.1,327.6L500.2,326.6L500.2,326.6L500.2,326.6L500.2,326.6L500.2,326.6L500.2,326.6L500.2,326.6L500.2,326.6L500.2,326.6L500.2,326.6L500.2,326.6L500.2,326.6L500.2,326.6L500.2,326.6L500.2,326.6L500.2,326.6L500.3,324Z" fill="#fcfad0" stroke="#000" stroke-width="0.9"/>
<path d="M581.3,322.7L579.4,318.7L576.6,320.3L576.5,320.6L576.7,321.5L580.9,323.5Z" fill="#fad967" stroke="#000" stroke-width="0.9"/>
<path d="M567,327.3L565.2,325L562.8,323.9L562,327.6L562,327.6L562,327.6L562,327.6L562,327.6L562,327.6L562,327.6L562,327.6L562,327.6L562,327.6L562,327.6L562,327.6L562,327.6L562,327.6L562,327.6L562,327.6L562,327.6L562,327.6L562,327.6L560.6,327.1L560,331.6L560.4,335.6L566.9,334.2L567.6,331.8Z" fill="#fcfad0" stroke="#000" stroke-width="0.9"/>
<path d="M542.4,325.3L542,324.9L541.7,326.6L541.8,326.6ZM531.5,351L538.2,335.2L533,335.2L533,335.2L533,335.2L533,335.2L528.7,334.1L528.7,334.1L528.7,334.1L528.7,334.1L528.7,334.1L528.7,334.1L528.7,334.1L528.7,334.1L528.7,334.1L528.7,334.1L528.7,334.1L528.7,334.1L528.7,334.1L528.7,334.1L528.7,328.2L527.7,328.7L528.7,335.2L528.7,335.2L528.7,335.2L528.7,335.2L528.7,335.2L528.7,335.2L528.7,335.2L528.7,335.2L528.7,335.2L528.7,335.2L528.7,335.2L528.7,335.2L528.7,335.2L528.7,335.2L528.7,335.2L528.7,335.2L521.6,337.2ZM520.7,335.9L520.9,336.2L520.6,335ZM533.5,325.5L533.5,325.5L533.5,325.5L533.5,325.5L533.5,325.5L533.5,325.5L533.5,325.5L533.5,325.5L533.5,325.5L533.5,325.5L530.4,327.2L534,326.6L533.5,322.3L533.5,322.3L533.3,319.8L533.5,325.5L533.5,325.5Z" fill="#fcfad0" stroke="#000" stroke-width="0.9"/>
<path d="M584.3,324.8L584.8,323.2L582.5,321.1L581.3,322.7Z" fill="#f7ab05" stroke="#000" stroke-width="0.8"/>
<path d="M579.5,341.1L579.6,337.4L578.8,336.4L578.6,336.5L576.2,339.6L579.3,341.3Z" fill="#fad967" stroke="#000" stroke-width="0.9"/>
<path d="M582.8,342.6L582.3,341.9L579.5,341.1L579.3,341.3L578.2,347L581,345L582.8,344.5Z" fill="#f7ab05" stroke="#000" stroke-width="0.9"/>
<path d="M576.4,324.7L575.6,325.4L574.5,330.7L575.4,331.5L577.9,330L578.3,326.7Z" fill="#fad967" stroke="#000" stroke-width="0.9"/>
<path d="M576.1,339.7L575,339.3L573.2,345L574.5,348.2L576,348.5L577.9,347.2Z" fill="#fad967" stroke="#000" stroke-width="0.9"/>
<path d="M456.8,229.4L460.6,211L455.8,200.5L455,202.5L453,207L450,211L447,213L444,214L440,210L437,207L432.5,204L426.2,203L430,205L430,205L430,205L435,209L435,209L435,209L440,215L440,215L440,215L440,215L440,215L440,215L440,215L440,215L440,215L439.2,221.6Z" fill="#fcfad0" stroke="#000" stroke-width="0.9"/>
<path d="M579.6,337.4L581.3,337.7L582.3,336.3L581.6,333.8L579.2,334.8L578.8,336.4Z" fill="#f7ab05" stroke="#000" stroke-width="0.9"/>
<path d="M588.9,334.5L587,334.4L586.1,336L587.5,338.6L588.3,339.2L590.4,337L590.2,336Z" fill="#f7ab05" stroke="#000" stroke-width="0.9"/>
<path d="M474.6,283.4L466.5,290.2L469.3,304.7L484.2,311.6L486.6,305.8L485.3,290.8L475.1,283.4Z" fill="#fcfad0" stroke="#000" stroke-width="0.9"/>
<path d="M569.2,293.3L570,291.1L566.4,286.2L561,288L566,291.8L568.8,293.6ZM558.2,289L558.2,289.9L561,291.7L560.1,288.3Z" fill="#f7ab05" stroke="#000" stroke-width="0.9"/>
<path d="M563.1,300.5L564.3,303.6L566.4,304.7L567.5,298.7L566,297.9L566,297.9L566,297.9L566,297.9L564.4,296.4Z" fill="#f7ab05" stroke="#000" stroke-width="0.9"/>
<path d="M495.1,281.3L499.5,283.1L500,282.3L496.9,280.3L496.9,280.3L496.9,280.3L496.9,280.3L496.9,280.3L496.9,280.3L496.9,280.3L496.9,280.3L496.9,280.3L495.4,274.9L495.1,274.7ZM495.1,259.7L495.1,269.5L497.7,268L497.7,268L497.7,268L504.6,265.7L504.6,265.7L504.6,265.7L504.6,265.7L504.6,265.7L504.6,265.7L504.6,265.7L504.6,265.7L508.2,267.1L505.3,264.2L505.3,264.2L505.3,264.2L500,256.5L500,256.5L500,256.5L500,256.5L500,256.5L499.5,254.4ZM509.5,264.7L509.2,261.5L508.5,266.5Z" fill="#fcfad0" stroke="#000" stroke-width="0.9"/>
<path d="M576.7,321.5L576.4,324.7L578.3,326.7L580.6,324.9L580.9,324.1L580.9,323.5Z" fill="#f7ab05" stroke="#000" stroke-width="0.9"/>
<path d="M456.2,296.4L464.4,289.4L458.3,273.9L440,275.9L433.1,284.3Z" fill="#fcfad0" stroke="#000" stroke-width="0.9"/>
<path d="M546.8,267.5L548.8,260L548.4,259.5L545.1,253L541.4,257.1L541.4,261.1L541.4,261.1L541.4,261.1L540.8,264.9L544.5,265.7L544.5,265.7L544.5,265.7L544.5,265.7L544.5,265.7L544.5,265.7L544.5,265.7L544.5,265.7L544.5,265.7L544.5,265.7L544.5,265.7L545.9,269.1Z" fill="#f7ab05" stroke="#000" stroke-width="0.9"/>
<path d="M565.3,312.4L562.6,321L563.1,322.3L563.1,322.3L563.1,322.3L563.1,322.3L563.1,322.3L563.1,322.3L563.1,322.3L562.8,323.9L565.2,325L568.1,314.9L568.1,314.7L566.3,312.1Z" fill="#fad967" stroke="#000" stroke-width="0.9"/>
<path d="M586.6,332.6L585.6,331.7L584.2,332.4L584.3,334.6L585.6,336.1L586.1,336L587,334.4Z" fill="#f7ab05" stroke="#000" stroke-width="0.8"/>
<path d="M584.8,323.2L585.4,322.9L585.6,322.1L585.3,320.2L582.6,320.8L582.5,321.1Z" fill="#f7ab05" stroke="#000" stroke-width="0.8"/>
<path d="M553.9,270.5L546.8,267.5L545.9,269.1L547.6,273.4L547.6,273.4L547.6,273.4L547.6,273.4L547.6,273.4L547.6,273.4L547.6,273.4L547.6,273.4L547.6,273.4L547.6,273.4L546.6,275.2L552.2,270.3L552.2,270.3L552.2,270.3L552.2,270.3L552.2,270.3L552.2,270.3L552.2,270.3L552.2,270.3L552.2,270.3L552.2,270.3L552.2,270.3L552.2,270.3L552.2,270.3L552.2,270.3L552.2,270.3L552.2,270.3L552.2,270.3L553.9,272.2ZM547.5,279.4L546.2,276L544.6,278.7Z" fill="#f7ab05" stroke="#000" stroke-width="0.9"/>
<path d="M460,261L463,256.7L462.8,235.8L456.8,229.5L446.5,254.5L446.5,254.8Z" fill="#fcfad0" stroke="#000" stroke-width="0.9"/>
<path d="M573.2,338L571.3,332.3L567.6,331.8L566.9,334.2L567.7,339.7L569.3,341.2Z" fill="#fcfad0" stroke="#000" stroke-width="0.9"/>
<path d="M573.8,330.6L572.7,326.8L568.5,325.8L567,327.3L567.6,331.8L571.3,332.3Z" fill="#fad967" stroke="#000" stroke-width="0.9"/>
<path d="M576.2,339.6L576.1,339.7L577.9,347.2L578.2,347L579.3,341.3Z" fill="#fad967" stroke="#000" stroke-width="0.9"/>
<path d="M572.7,326.8L573.8,330.6L574.5,330.7L575.6,325.4L573.5,324.2Z" fill="#fad967" stroke="#000" stroke-width="0.9"/>
<path d="M458.3,273.9L460,261L446.5,254.8L440,275.9Z" fill="#fcfad0" stroke="#000" stroke-width="0.9"/>
<path d="M483.9,323.9L484.2,311.6L469.3,304.7L465.3,324L469.3,328.7L481.2,328.8Z" fill="#fad967" stroke="#000" stroke-width="0.9"/>
<path d="M583.7,308.5L584.4,310.8L587.5,310.6L587.5,310L584.3,306.8Z" fill="#f20000" stroke="#000" stroke-width="0.8"/>
<path d="M573.2,345L570,343L569.2,348.6L571,347.5L574.5,348.2Z" fill="#fad967" stroke="#000" stroke-width="0.9"/>
<path d="M585.1,314.9L587,316.6L587.9,315.8L587.6,311.8Z" fill="#f20000" stroke="#000" stroke-width="0.9"/>
<path d="M542.4,325.3L542.7,325.3L542.7,321.7L542,324.9ZM550.4,303.5L548.4,301.1L545.6,301.1L540.5,304L540.5,304L540.5,304L540.5,304L540.5,304L540.5,304L540.5,304L540.5,304L540.5,304L540.5,304L540.5,304L540.5,304L540.5,304L540.5,304L540.5,304L540.5,304L540.5,304L540.5,304L540.5,304L540.5,304L540.5,304L540.5,304L540.5,304L540.7,301.8L539.8,302.7L539.6,304L541.4,310.6L540.5,305.1L540.5,305.1L540.5,305.1L540.5,305.1L540.5,305.1L540.5,305.1L540.5,305.1L540.5,305.1L540.5,305.1L540.5,305.1L540.5,305.1L540.5,305.1L540.5,305.1L540.5,305.1L547,301.8L547,301.8L547,301.8L547,301.8L547,301.8L547,301.8L547,301.8L547,301.8L547,301.8L547,301.8L547,301.8L550.4,303.5ZM548,297.3L548.4,300.5L548.6,298.2ZM538.8,282.9L536.2,283.4L538.4,285.7L538.4,285.7L538.4,285.7L538.4,285.7L538.4,285.7L538.4,285.7L538.4,285.7L538.4,285.7L538.4,285.7L538.4,285.7L538.4,285.7L538.4,285.7L538.4,285.7L538.4,285.7L538.4,285.7L538.4,285.7L538.4,285.7L538.4,285.7L538.4,285.7L538.4,285.7L532.6,288.5L538.4,287.2L539.4,283.8ZM542.4,318.4L542.7,320.3L542.7,320.1Z" fill="#fcfad0" stroke="#000" stroke-width="0.9"/>
<path d="M460.6,211L456.8,229.4L456.8,229.5L462.8,235.8L482,231.2L488.8,219.5L489,216.6L485,215L469,211L469,211L469,211L469,211L469,211L469,211L469,211L469,211L469,211L469,211L469,211L469,211L469,211L469,211L469,211L469,211L470,205.3Z" fill="#fcfad0" stroke="#000" stroke-width="0.9"/>
<path d="M482,231.2L462.8,235.8L463,256.7L470.5,260.8L481.5,251.9Z" fill="#fcfad0" stroke="#000" stroke-width="0.9"/>
<path d="M549.7,339.3L548.1,339.5L548.1,339.5L548.1,339.5L548.1,339.5L548.1,339.5L548.1,339.5L548.1,339.5L548.1,339.5L548.1,339.5L548.1,339.5L548.1,339.5L548.1,339.5L548.1,339.5L548.1,339.5L548.1,339.5L548.1,339.5L546.5,334.2L540.5,335.2L540.5,335.2L540.5,335.2L538.2,335.2L531.5,351L531.6,352.3L538,352.3L542,351L546,353.5L551,351L551.4,351.1L551.1,348L550.2,348.1L542.7,350.2L542.7,350.2L542.7,350.2L542.7,350.2L542.7,350.2L542.7,350.2L542.7,350.2L542.7,350.2L542.7,350.2L542.7,350.2L542.7,350.2L542.7,350.2L542.7,350.2L542.7,350.2L542.7,350.2L541.1,347L541.1,347L541.1,347L541.1,347L541.1,347L541.1,347L541.1,347L541.6,342.7L541.6,342.7L541.6,342.7L541.6,342.7L541.6,342.7L541.6,342.7L541.6,342.7L541.6,342.7L541.6,342.7L541.6,342.7L541.6,342.7L545.9,340.5L545.9,340.5L545.9,340.5L549.8,339.5ZM546.3,331.6L546.5,333.6L546.6,332.4ZM543.8,325.9L542.7,326L542.7,326L542.7,326L542.7,326L542.7,326L542.7,326L542.7,326L542.7,326L542.7,326L542.7,326L542.7,326L542.7,326L542.7,326L542.7,326L542.7,326L542.7,326L542.7,326L542.7,326L542.7,325.3L542.4,325.3L541.8,326.6L544.4,327.2Z" fill="#fcfad0" stroke="#000" stroke-width="0.9"/>
<path d="M500.7,346.1L498.5,328.1L483.9,323.9L481.2,328.8L484.9,352.2L490,352.2L490,352.3L490,352.3L490,352.3L490,352.3L490,352.3L490,352.3L490,352.3L490,352.3L490,352.3L490,352.3L490,352.3L490,352.3L490,352.3L490,352.3L490,352.3L490,352.3L490,352.3L500.2,352.3Z" fill="#fad967" stroke="#000" stroke-width="0.9"/>
<path d="M481.2,328.8L469.3,328.7L467.7,352.2L484.9,352.2Z" fill="#fcfad0" stroke="#000" stroke-width="0.9"/>
<path d="M578.3,326.7L577.9,330L579.2,331.3L581.4,330.4L581.4,330.3L580.6,324.9Z" fill="#f7ab05" stroke="#000" stroke-width="0.9"/>
<path d="M584.3,334.6L582.7,336.3L584.5,339.8L585.6,336.1Z" fill="#f7ab05" stroke="#000" stroke-width="0.9"/>
<path d="M581.4,313.3L579.4,316.5L579.6,317.6L582.1,317.3L582.3,314.1L581.6,313.3Z" fill="#fad967" stroke="#000" stroke-width="0.9"/>
<path d="M580.9,324.1L580.6,324.9L581.4,330.3L583.5,327.1Z" fill="#f7ab05" stroke="#000" stroke-width="0.8"/>
<path d="M564.1,344.8L564,344.8L561,349.5L566,350.5L568,349.3Z" fill="#fad967" stroke="#000" stroke-width="0.9"/>
<path d="M574.5,338.4L575.5,332.5L575.4,331.5L574.5,330.7L573.8,330.6L571.3,332.3L573.2,338Z" fill="#fad967" stroke="#000" stroke-width="0.9"/>
<path d="M511.7,218.9L510.7,215L508,213L506,205L503,199L503,199L503,199L503,199L503,199L503,199.1L501.5,199.1L501.5,199L501.1,199L505,207.5L505,207.5L507,213L507,213L508.9,218.4Z" fill="#f7ab05" stroke="#000" stroke-width="0.9"/>
<path d="M483.7,264.6L484,257.8L481.5,251.9L470.5,260.8L474.6,283.4L475.1,283.4Z" fill="#fcfad0" stroke="#000" stroke-width="0.9"/>
<path d="M580.3,306.7L582.4,305.1L580.5,303.4Z" fill="#fa6405" stroke="#000" stroke-width="0.9"/>
<path d="M579.2,334.8L579.2,331.3L577.9,330L575.4,331.5L575.5,332.5L578.6,336.5L578.8,336.4Z" fill="#fad967" stroke="#000" stroke-width="0.9"/>
<path d="M494.3,227.5L495.4,224.2L495.4,224.2L495.4,224.2L495.4,224.2L495.4,224.2L495.4,224.2L495.4,224.2L495.4,224.2L495.4,224.2L495.4,224.2L495.4,224.2L495.4,224.2L495.4,224.2L498.1,223.9L495.4,221.1L495.4,221.1L495.4,221.1L495.4,221.1L495.4,221.1L495.4,221.1L495.4,221.1L495.4,221.1L495.3,221.1L495.3,218.7L495,219L495,219L495,219L495,219L495,219L495,219L495,219L495,219L495,219L495,219L495,219L495,219L495,219L495,219L489,216.6L488.8,219.5ZM513.4,224.7L513,224.2L511.7,218.9L508.9,218.4L509,219L509,219L509,219L509,219L509,219L509,219L509,219L509,219L509,219L509,219L509,219L509,219L506.5,221.6L510,223.4L510,223.4L510,223.4L510,223.4L510,223.4L510,223.4L510,223.4L510,223.4L510,223.4L511.3,227ZM505,223L505,223L505,223L505,223L505,223L505,223L505,223L505,223L505,223L505,223L505,223L502.4,222.5L499.5,223.8L504.6,223.4L504.6,223.4L504.6,223.4L504.6,223.4L504.6,223.4L504.6,223.4L504.6,223.4L504.6,223.4L504.6,223.4L504.6,223.4L508,227.1L505.8,222.3Z" fill="#f7ab05" stroke="#000" stroke-width="0.9"/>
<path d="M529.4,242.1L533,243.4L533,243.4L538.4,245.7L538.4,245.7L538.4,245.7L538.4,245.7L538.4,245.7L538.4,245.7L538.4,245.7L538.4,245.7L538.4,245.7L538.4,245.7L538.4,245.7L538.4,245.7L538.4,245.7L538.4,245.7L538.4,245.7L538.4,245.7L537.5,248.5L542.1,246.6L541.4,245L533,242.6L529.6,240.3L529.4,241.8ZM533.1,250.4L532.2,250.4L532.1,250.8Z" fill="#f7ab05" stroke="#000" stroke-width="0.9"/>
<path d="M576.5,306.4L580.1,307.1L580.3,306.7L580.5,303.4L580,303L577.2,300Z" fill="#f7ab05" stroke="#000" stroke-width="0.9"/>
<path d="M587.9,330.6L586.6,332.6L587,334.4L588.9,334.5L588.6,330.8L588.1,330.5Z" fill="#f7ab05" stroke="#000" stroke-width="0.8"/>
<path d="M564.4,296.4L561.4,293.3L561.4,293.3L561.4,293.3L561.4,293.3L561.4,293.3L561.4,293.3L561.4,293.3L561,291.7L558.2,289.9L558.1,290.3L561.4,294.9L561.4,294.9L561.4,294.9L561.4,294.9L561.4,294.9L561.4,294.9L561.4,294.9L561.4,294.9L561.4,294.9L560.4,300.5L563.1,300.5Z" fill="#fad967" stroke="#000" stroke-width="0.9"/>
<path d="M586.7,342.4L585,340.1L584.5,339.9L582.8,342.6L582.8,344.5L586,343.5L586.6,343.4Z" fill="#f7ab05" stroke="#000" stroke-width="0.9"/>
<path d="M585.3,320.2L585.6,319.5L584.8,316.6L582.7,319.2L582.6,320.8Z" fill="#f7ab05" stroke="#000" stroke-width="0.9"/>
<path d="M587,316.6L587.2,319.2L588.3,320.2L588,318L587.9,315.8Z" fill="#fa6405" stroke="#000" stroke-width="0.9"/>
<path d="M557.6,277L559.9,281.1L559.9,281.1L559.9,281.1L559.9,281.1L559.9,281.1L559.9,281.1L559.9,281.1L559.9,281.1L559.9,281.1L559.9,281.1L559.9,281.1L559.5,281.9L562.8,279.4L559.9,271.8L559.5,271.4Z" fill="#f7ab05" stroke="#000" stroke-width="0.9"/>
<path d="M568.9,325.1L568.5,325.8L572.7,326.8L573.5,324.2L573.1,322.9Z" fill="#fad967" stroke="#000" stroke-width="0.9"/>
<path d="M564,344.8L560.4,336.3L554.6,338.4L559.9,340.5L559.9,340.5L559.9,340.5L559.9,340.5L559.9,340.5L559.9,340.5L559.9,340.5L559.9,340.5L559.9,340.5L559.9,340.5L559.9,340.5L559.9,340.5L559.9,340.5L559.9,340.5L559.9,340.5L558.8,347L558.8,347L558.8,347L558.8,347L558.8,347L558.8,347L558.8,347L558.8,347L558.8,347L558.8,347L558.8,347L558.8,347L558.8,347L558.8,347L551.1,348L551.4,351.1L556,352.5L561,349.5L561,349.5Z" fill="#fcfad0" stroke="#000" stroke-width="0.9"/>
<path d="M431.5,285.1L425.7,281.9L420.8,281.3L420.8,315.2L437.6,315.2Z" fill="#fcfad0" stroke="#000" stroke-width="0.9"/>
<path d="M537.5,248.5L536.8,250.3L536.8,250.3L536.8,250.3L536.8,250.3L536.8,250.3L536.8,250.3L536.8,250.3L536.8,250.3L536.8,250.3L536.8,250.3L536.8,250.3L536.8,250.3L536.8,250.3L536.8,250.4L533.1,250.4L532.1,250.8L530.1,256.2L532.2,253.4L532.2,253.4L534.5,250.6L534.5,250.6L534.5,250.6L534.5,250.6L534.5,250.6L534.5,250.6L534.5,250.6L534.5,250.6L534.5,250.6L534.5,250.6L534.5,250.6L534.5,250.6L534.5,250.6L534.5,250.6L534.5,250.6L534.5,250.6L541.4,255.2L541.4,255.2L541.4,255.2L541.4,255.2L541.4,255.2L541.4,255.2L541.4,255.2L541.4,255.2L541.4,255.2L541.4,255.2L541.4,255.2L541.4,257.1L545.1,253L544.5,251.9L542.1,246.6Z" fill="#fad967" stroke="#000" stroke-width="0.9"/>
<path d="M573.3,320.8L572.5,319.2L570.4,319.1L568.9,325.1L573.1,322.9Z" fill="#fad967" stroke="#000" stroke-width="0.9"/>
<path d="M486.6,305.8L484.2,311.6L483.9,323.9L498.5,328.1L500.3,324L500.8,318L500.8,318L501.8,311.5L501.8,311.5L501.8,311.5L501.8,311.5L501.8,311.5L502.9,309.4L502.9,308Z" fill="#fcfad0" stroke="#000" stroke-width="0.9"/>
<path d="M495.1,259.7L484,257.8L483.7,264.6L494.5,281.5L495.1,281.3L495.1,274.7L491.5,271.8L491.5,271.8L491.5,271.8L491.5,271.8L491.5,271.8L491.5,271.8L491.5,271.8L491.5,271.8L491.5,271.8L491.5,271.8L491.5,271.8L491.5,271.8L491.5,271.8L491.5,271.8L491.5,271.8L491.5,271.8L491.5,271.8L491.5,271.8L491.5,271.8L491.5,271.8L491.5,271.8L495.1,269.5Z" fill="#fcfad0" stroke="#000" stroke-width="0.9"/>
<path d="M581.9,331.2L581.6,333.8L582.3,336.3L582.7,336.3L584.3,334.6L584.2,332.4L583.5,331.5Z" fill="#f7ab05" stroke="#000" stroke-width="0.9"/>
<path d="M585.6,322.1L588,322.4L588.6,322L588.3,320.2L587.2,319.2L585.6,319.5L585.3,320.2Z" fill="#f7ab05" stroke="#000" stroke-width="0.8"/>
<path d="M456.2,296.4L433.1,284.3L431.5,285.1L437.6,315.2L452.9,315.2Z" fill="#fcfad0" stroke="#000" stroke-width="0.9"/>
<path d="M500.7,346.1L500.2,352.3L514,352.3L520.7,335.9L520.6,335L519,327.9L518.5,333L518.5,333L518.5,333L518.5,333L518.5,333L518.5,333L518.5,333L518.5,333L518.5,333L518.5,333L518.5,333L518.5,333L518.5,333L518.5,333L518.5,333L518.5,333L518.5,333L518.5,333L518.5,333L518.5,333L515.8,331.9L515.8,331.9L515.8,331.9L515.8,331.9L513.9,330.6Z" fill="#fcfad0" stroke="#000" stroke-width="0.9"/>
<path d="M581.3,322.7L580.9,323.5L580.9,324.1L583.5,327.1L583.6,327.2L584.1,326.3L584.3,325L584.3,324.8L581.3,322.7Z" fill="#f7ab05" stroke="#000" stroke-width="0.8"/>
<path d="M548.6,298.2L549.1,291.8L549.1,291.8L549.1,291.8L549.1,291.8L549.1,291.8L549.1,291.8L549.1,291.8L549.1,291.8L549.1,291.8L549.1,291.8L549.1,291.8L549.1,291.8L556.6,288.7L549.9,287.3L548.3,292.8L548.6,293.2L548.6,293.2L548.6,293.2L548.6,293.2L548.6,293.2L548.6,293.2L548.6,293.2L548.6,293.2L548.6,293.2L548.6,293.2L548.6,293.2L548.6,293.2L547.8,295.7L548,297.3ZM539.4,283.8L539.8,282.7L538.8,282.9ZM558.2,289.9L558.2,289L558.1,288.1L556.9,288.7L558.1,290.3Z" fill="#fad967" stroke="#000" stroke-width="0.9"/>
<path d="M580.1,311.6L580.4,307.7L580.1,307.1L576.5,306.4L576.2,306.8L579,311.9Z" fill="#f7ab05" stroke="#000" stroke-width="0.9"/>
<path d="M560.4,307.8L564.3,303.6L563.1,300.5L560.4,300.5L559.9,302.6L559.9,302.6L559.9,302.6L559.9,302.6L559.9,302.6L559.9,302.6L559.9,302.6L559.9,302.6L559.9,302.6L559.9,302.6L559.9,302.6L558,303.4Z" fill="#fad967" stroke="#000" stroke-width="0.9"/>
<path d="M579.4,316.5L581.4,313.3L580.1,311.6L579,311.9L578,313.5L579,316.2Z" fill="#f7ab05" stroke="#000" stroke-width="0.9"/>
<path d="M586.1,336L585.6,336.1L584.5,339.8L584.5,339.9L585,340.1L587.5,338.6Z" fill="#f7ab05" stroke="#000" stroke-width="0.9"/>
<path d="M587.5,338.6L585,340.1L586.7,342.4L588.2,339.9L588.3,339.2Z" fill="#f7ab05" stroke="#000" stroke-width="0.9"/>
<path d="M584.4,310.8L584.2,314L585.1,314.9L585.1,314.9L587.6,311.8L587.5,310.6Z" fill="#fa6405" stroke="#000" stroke-width="0.8"/>
<path d="M587.7,326.8L588,327.8L589.3,328L589.1,325.5Z" fill="#f20000" stroke="#000" stroke-width="0.7"/>
<path d="M569.2,293.3L569.5,294.1L570.6,294.9L570.6,294.9L570.6,294.9L570.6,294.9L570.6,294.9L570.6,294.9L570.6,294.9L570.6,294.9L570.8,295.4L572.2,296.4L572.2,296.4L572.2,296.4L572.2,296.4L572.2,296.4L572.2,296.4L572.2,296.4L572.2,296.4L572.2,296.4L573,300.2L577.1,300L575.2,298L570.6,291.8L570,291.1Z" fill="#fa6405" stroke="#000" stroke-width="0.9"/>
<path d="M573,300.2L573.7,304.1L573.7,304.1L573.7,304.1L573.7,304.1L573.7,304.1L573.7,304.1L573.7,304.1L573.7,304.1L573.7,304.1L573.7,304.1L573.7,304.1L573.7,304.1L573.7,304.1L573.7,304.1L573.7,304.1L573.7,304.1L573.7,304.1L573.7,304.1L573.7,304.1L573.7,304.1L573.7,304.1L573.7,304.1L573.7,304.1L573.7,304.1L573.7,304.1L573.7,304.1L571.7,302.6L572.7,305.6L576.1,306.9L576.2,306.8L576.5,306.4L577.2,300L577.1,300Z" fill="#f7ab05" stroke="#000" stroke-width="0.9"/>
<path d="M579.5,341.1L582.3,341.9L581.3,337.7L579.6,337.4Z" fill="#fad967" stroke="#000" stroke-width="0.9"/>
<path d="M511.3,227L513,231.9L513,231.9L513,231.9L513,231.9L513,231.9L513,231.9L513,231.9L513,231.9L513,231.9L513,231.9L513,231.9L513,231.9L513,231.9L513,231.9L513,231.9L513,231.9L513,231.9L513,231.9L513,231.9L513,231.9L513,231.9L513,231.9L513,231.9L513,231.9L513,231.9L513,231.9L511.7,231.2L513,232.7L513,232.7L513,232.7L513,232.7L513,232.7L515.5,239.4L519.3,231.4L518.4,230.4L513.4,224.7Z" fill="#fad967" stroke="#000" stroke-width="0.9"/>
<path d="M529.4,241.8L528.6,241.9L529.4,242.1ZM517.7,242.6L520.7,245.6L524.8,242.1Z" fill="#fad967" stroke="#000" stroke-width="0.9"/>
<path d="M566.9,306L567.1,308L571.4,308L572.7,305.6L571.7,302.6L571.4,302.3Z" fill="#fad967" stroke="#000" stroke-width="0.9"/>
<path d="M588.9,341.8L588.9,343L591,342.6L591,342.2Z" fill="#fa6405" stroke="#000" stroke-width="0.8"/>
<path d="M584,328L585.5,327.5L585.5,326.6L584.1,326.3L583.6,327.2Z" fill="#fa6405" stroke="#000" stroke-width="0.8"/>
<path d="M585.6,319.5L587.2,319.2L587,316.6L585.1,314.9L585.1,314.9L584.8,316.6Z" fill="#f7ab05" stroke="#000" stroke-width="0.9"/>
<path d="M531.5,351L521.6,337.2L521.2,337.3L521.2,337.3L521.2,337.3L521.2,337.3L521.2,337.3L521.2,337.3L521.2,337.3L521.2,337.3L521.2,337.3L521.2,337.3L521.2,337.3L521.2,337.3L521.2,337.3L521.2,337.3L521.2,337.3L521.2,337.3L521.2,337.3L521.2,337.3L520.9,336.2L520.7,335.9L514,352.3L531.6,352.3Z" fill="#fcfad0" stroke="#000" stroke-width="0.9"/>
<path d="M570,343L573.2,345L575,339.3L574.5,338.4L573.2,338L569.3,341.2Z" fill="#fcfad0" stroke="#000" stroke-width="0.9"/>
<path d="M440,275.9L446.5,254.8L446.5,254.5L435.7,240.4L425.7,281.9L431.5,285.1L433.1,284.3Z" fill="#fad967" stroke="#000" stroke-width="0.9"/>
<path d="M559.5,281.9L558.4,284.1L562.9,287.2L562.9,287.2L562.9,287.2L562.9,287.2L562.9,287.2L562.9,287.2L562.9,287.2L562.9,287.2L562.9,287.2L562.9,287.2L562.9,287.2L562.9,287.2L562.9,287.2L562.9,287.2L562.9,287.2L562.9,287.2L562.9,287.2L562.9,287.2L562.9,287.2L562.9,287.2L562.9,287.2L562.9,287.2L562.9,287.2L562.9,287.2L562.9,287.2L562.9,287.2L562.9,287.2L560,287.2L561,288L566.4,286.2L566,285.7L562.9,279.5L562.8,279.4ZM558.2,289L560.1,288.3L559.9,287.3L558.1,288.1Z" fill="#f7ab05" stroke="#000" stroke-width="0.9"/>
<path d="M460.6,211L470,205.3L470.5,203L470.5,203L472.3,195.8L469.5,195.6L469.5,195.6L469.5,195.6L469.5,195.6L469.5,195.6L469.5,195.6L469.5,195.6L469.5,195.6L469.5,195.6L469.5,195.6L469.5,195.6L469.5,195.6L469.5,195.6L469.5,195.6L469.5,195.6L469.5,195.6L469.5,195.6L469.5,195.6L469.5,195.6L469.5,195.6L469.5,195.6L472,190L472,190L474.5,185.8L465,186.5L462.6,186.9L461,187.5L461,187.5L461,187.5L461,187.5L461,187.5L461,187.5L461,187.5L461,187.5L460.3,187.3L459,187.5L459,187.5L459,187.5L459,187.5L459,187.5L458,195L455.8,200.5ZM460,152.3L460,152.5L460.4,152.5ZM459.5,187L459.5,187L459.5,187L459.5,187L459.5,187L459.5,187L459.5,187L459.5,187L459.5,187L459.5,187L459.5,187L459.5,187L459.5,187L459.5,187L459.9,174.1L459,187.4L460,187.2Z" fill="#fcfad0" stroke="#000" stroke-width="0.9"/>
<path d="M588,322.4L586.6,325.2L587.3,326.6L587.7,326.8L589.1,325.5L589,325L588.6,322Z" fill="#f20000" stroke="#000" stroke-width="0.7"/>
<path d="M587.9,329.5L586.5,328.3L586,328.8L585.9,329.3L585.9,329.6L587.9,330.6L588.1,330.5Z" fill="#fa6405" stroke="#000" stroke-width="0.7"/>
<path d="M584.1,329.1L585.9,329.3L586,328.8L585.5,327.5L584,328Z" fill="#fa6405" stroke="#000" stroke-width="0.8"/>
<path d="M584.8,316.6L585.1,314.9L584.2,314L582.3,314.1L582.1,317.3L582.7,319.2Z" fill="#f7ab05" stroke="#000" stroke-width="0.9"/>
<path d="M578.6,336.5L575.5,332.5L574.5,338.4L575,339.3L576.1,339.7L576.2,339.6Z" fill="#fad967" stroke="#000" stroke-width="0.9"/>
<path d="M425.7,281.9L435.7,240.4L433.7,229.7L430,229L430,229L424,227.5L424,227.5L424,227.5L424,227.5L424,227.5L424,227.5L424,227.5L424,227.5L424,227.5L424,227.5L420.8,220.2L420.8,281.3Z" fill="#fcfad0" stroke="#000" stroke-width="0.9"/>
<path d="M576.3,317.2L579,316.2L578,313.5L577,313.6L576.2,317Z" fill="#f7ab05" stroke="#000" stroke-width="0.9"/>
<path d="M576.6,320.3L579.4,318.7L579.6,317.6L579.4,316.5L579,316.2L576.3,317.2Z" fill="#fad967" stroke="#000" stroke-width="0.9"/>
<path d="M583.5,327.1L581.4,330.3L581.4,330.4L581.9,331.2L583.5,331.5L584.1,329.1L584,328L583.6,327.2Z" fill="#f7ab05" stroke="#000" stroke-width="0.8"/>
<path d="M571.4,308L572.1,312L575.8,308.3L576.1,306.9L572.7,305.6Z" fill="#fad967" stroke="#000" stroke-width="0.9"/>
<path d="M588,327.8L587.7,326.8L587.3,326.6L586.5,328.3L587.9,329.5Z" fill="#fa6405" stroke="#000" stroke-width="0.7"/>
<path d="M560.6,327.1L556.7,325.6L554.6,328.7L559.9,330.9L559.9,330.9L559.9,330.9L559.9,330.9L559.9,330.9L559.9,330.9L559.9,330.9L559.9,330.9L559.9,330.9L559.9,330.9L559.9,330.9L559.9,330.9L560,331.6ZM549.8,339.5L553.1,338.7L549.7,339.3ZM546.6,332.4L547,329.8L547,329.8L547,329.8L547,329.8L547,329.8L547,329.8L547,329.8L547,329.8L547,329.8L547,329.8L547,329.8L547,329.8L547,329.8L547,329.8L554.1,328.7L549.1,328.2L549.1,328.2L549.1,328.2L549.1,328.2L549.1,328.2L549.1,328.2L549.1,328.2L549.1,328.2L549.1,328.2L549.1,328.2L549.1,328.2L549.1,328.2L549.1,328.2L549.1,328.2L549.1,328.2L548.6,322.3L548.6,322.3L548.6,322.3L548.6,322.3L548.6,322.3L548.6,322.3L548.6,322.3L548.6,322.3L548.6,322.3L548.6,322.3L548.6,322.3L548.6,322.3L548.6,322.3L554.6,319.4L548.1,319.7L548.1,325.5L548.1,325.5L548.1,325.5L548.1,325.5L548.1,325.5L548.1,325.5L548.1,325.5L548.1,325.5L548.1,325.5L548.1,325.5L548.1,325.5L548.1,325.5L548.1,325.5L548.1,325.5L548.1,325.5L548.1,325.5L543.8,325.9L544.4,327.2L545.9,327.6L545.9,327.6L545.9,327.6L545.9,327.6L545.9,327.6L545.9,327.6L545.9,327.6L545.9,327.6L545.9,327.6L545.9,327.6L545.9,327.6L545.9,327.6L545.9,327.6L545.9,327.6L546.3,331.6Z" fill="#fcfad0" stroke="#000" stroke-width="0.9"/>
<path d="M470.5,260.8L463,256.7L460,261L458.3,273.9L464.4,289.4L466.5,290.2L474.6,283.4Z" fill="#fcfad0" stroke="#000" stroke-width="0.9"/>
<path d="M515.5,239.4L516.1,241.1L517.7,242.6L524.8,242.1L526.1,241.1L526.1,241.1L526.1,241.1L526.1,241.1L526.1,241.1L526.1,241.1L526.1,241.1L526.1,241.1L526.1,241.1L526.1,241.1L526.1,241.1L528.6,241.9L529.4,241.8L529.6,240.3L526.1,238L522,234.5L519.3,231.4Z" fill="#f7ab05" stroke="#000" stroke-width="0.9"/>
<path d="M564.3,386.2L558.3,385.2L554.8,389.8L554.6,392.5L564.3,389.8L564.3,389.8Z" fill="#fcfad0" stroke="#000" stroke-width="0.9"/>
<path d="M502.8,352.3L490,352.3L490,352.3L489.2,361.2L504.4,367.9Z" fill="#fcfad0" stroke="#000" stroke-width="0.9"/>
<path d="M558.1,412.4L554.7,412.4L554.7,414.9L556.7,416L558.2,414.5Z" fill="#fad967" stroke="#000" stroke-width="0.9"/>
<path d="M534.1,371.3L533.8,363.3L529.8,358.7L517.8,371.8L518.2,372.3L528.4,376.5L533.6,372.9Z" fill="#fcfad0" stroke="#000" stroke-width="0.9"/>
<path d="M584.3,345.8L584.5,348.5L586.2,348.8L587.4,347.4L588,343.1L586,343.5L585.9,343.5Z" fill="#f7ab05" stroke="#000" stroke-width="0.9"/>
<path d="M560.2,415.5L558.2,414.5L556.7,416L557.1,417.6L559,418.5L560.3,416.5Z" fill="#f7ab05" stroke="#000" stroke-width="0.9"/>
<path d="M572.9,367.4L575.6,368.8L579.3,366.8L579.5,361.9L576.5,359.4L572.9,365.6Z" fill="#f7ab05" stroke="#000" stroke-width="0.9"/>
<path d="M512.9,426.4L511.1,435L512,435.5L515.8,435.9L518.5,428.3L517.6,426.9Z" fill="#fad967" stroke="#000" stroke-width="0.9"/>
<path d="M524.1,431.7L520.6,438.7L521,439L524,441.5L524.8,442L528.9,436.1L528.9,435.1Z" fill="#fcfad0" stroke="#000" stroke-width="0.9"/>
<path d="M556.7,416L554.7,414.9L550.8,419L550.8,419.1L551.1,420.6L554.3,422.4L557.1,417.6Z" fill="#f7ab05" stroke="#000" stroke-width="0.9"/>
<path d="M562.9,372.7L564.1,370.8L564.1,364L563.5,362.8L558.9,359.1L554.2,360.7L559.3,372.1L560.4,372.9Z" fill="#fcfad0" stroke="#000" stroke-width="0.9"/>
<path d="M575.7,390.5L571.1,390.6L570.4,391.5L571,393.5L576.4,394L577,392.8Z" fill="#f7ab05" stroke="#000" stroke-width="0.9"/>
<path d="M528.4,376.5L518.2,372.3L521.9,382.1L529.1,384.7Z" fill="#fcfad0" stroke="#000" stroke-width="0.9"/>
<path d="M538.1,393.1L539.4,388.1L539.1,387.4L536.1,384.3L530.2,386.6L528.9,390.8L535.4,395.7Z" fill="#fcfad0" stroke="#000" stroke-width="0.9"/>
<path d="M567.5,370.5L572.7,375.5L575.8,372.9L575.6,368.8L572.9,367.4Z" fill="#fad967" stroke="#000" stroke-width="0.9"/>
<path d="M542.1,398.3L537.7,401.7L538.5,408.2L542.5,406.3L544.3,403.5L543.1,398.4Z" fill="#fad967" stroke="#000" stroke-width="0.9"/>
<path d="M545.7,395.3L543.1,398.4L544.3,403.5L547.4,403.9L550.2,401.3Z" fill="#fcfad0" stroke="#000" stroke-width="0.9"/>
<path d="M552.2,447.1L552.5,446L555,440L555.9,437.1L550.4,439.1L548.3,445.7Z" fill="#f7ab05" stroke="#000" stroke-width="0.9"/>
<path d="M566.6,400.7L567.3,404.6L567.6,404.9L570.1,402L568,399.6Z" fill="#f7ab05" stroke="#000" stroke-width="0.9"/>
<path d="M554.6,392.5L554.8,389.8L550.9,381.5L549.2,381L547.5,386.5L548.3,392L554.4,393.2Z" fill="#fcfad0" stroke="#000" stroke-width="0.9"/>
<path d="M557.1,417.6L554.3,422.4L554.9,423.2L559.9,422.5L559,418.5Z" fill="#f7ab05" stroke="#000" stroke-width="0.9"/>
<path d="M577.2,374.6L575.8,372.9L572.7,375.5L572.9,379.9L573.3,380.6L576.2,381.6Z" fill="#f7ab05" stroke="#000" stroke-width="0.9"/>
<path d="M563.9,403.7L563.5,404.2L564.7,407L566.4,406.8L567.5,405L567.6,404.9L567.3,404.6Z" fill="#f7ab05" stroke="#000" stroke-width="0.8"/>
<path d="M544.8,413.6L539.1,414.1L539,414.4L541.3,421.5L542.2,421.7L546.6,417.6Z" fill="#fad967" stroke="#000" stroke-width="0.9"/>
<path d="M512.9,426.4L517.6,426.9L519.1,420.4L517.7,417.8L515.2,417.4L510.4,421Z" fill="#fcfad0" stroke="#000" stroke-width="0.9"/>
<path d="M560.5,409.3L560.5,408.8L560.1,407.5L559.2,407.2L558,409Z" fill="#f7ab05" stroke="#000" stroke-width="0.8"/>
<path d="M505.6,410.1L507.9,402.6L507.4,401.4L504.9,400.4L493.2,407.5L496.9,415.9L498.9,415.9Z" fill="#fcfad0" stroke="#000" stroke-width="0.9"/>
<path d="M576,353.1L579,352.3L580.2,345.5L576,348.5L571.3,347.6Z" fill="#fad967" stroke="#000" stroke-width="0.9"/>
<path d="M565.1,350.3L561,349.5L560.4,349.9L558.9,359.1L563.5,362.8Z" fill="#fcfad0" stroke="#000" stroke-width="0.9"/>
<path d="M582.7,351.6L586.5,354.1L587,351.2L586.2,348.8L584.5,348.5L583.7,349.1Z" fill="#f7ab05" stroke="#000" stroke-width="0.9"/>
<path d="M579,352.3L580.2,352.8L580.9,352.7L582.7,351.6L583.7,349.1L580.3,345.5L580.2,345.5Z" fill="#fad967" stroke="#000" stroke-width="0.9"/>
<path d="M551.1,420.6L547.4,426.4L547.5,428.7L547.5,428.7L549.8,427.8L549.8,427.8L549.8,427.8L549.8,427.8L549.8,427.8L549.8,427.8L549.8,427.8L553,428.5L553,428.5L553,428.5L553,428.5L553,428.5L553,428.5L553,428.5L553,428.5L553,428.5L553,428.5L553,428.5L553,428.5L553,428.5L553,428.5L553,428.5L553,428.5L553,428.5L553,428.5L553,428.5L553,428.5L551.7,431.1L555.5,432.1L554.9,423.2L554.3,422.4Z" fill="#f7ab05" stroke="#000" stroke-width="0.9"/>
<path d="M571.2,397.5L568.2,398.4L568,399.6L570.1,402L571,401L572.7,399Z" fill="#f7ab05" stroke="#000" stroke-width="0.9"/>
<path d="M566.7,395.3L564.3,393.5L562.6,397.5L562.6,397.6L563.7,399.5L566.6,400.7L568,399.6L568.2,398.4Z" fill="#f7ab05" stroke="#000" stroke-width="0.9"/>
<path d="M536.9,434.4L537.6,427.3L532.2,428.9L532,432L535.7,435.3Z" fill="#fad967" stroke="#000" stroke-width="0.9"/>
<path d="M576,353.1L571.3,347.6L571,347.5L567.8,349.4L569.6,359.4L570.2,359.7L575.6,357.5Z" fill="#fad967" stroke="#000" stroke-width="0.9"/>
<path d="M493.2,407.5L485,401.3L483.9,409.4L487.9,417.3L496.1,417.1L496.9,415.9Z" fill="#fcfad0" stroke="#000" stroke-width="0.9"/>
<path d="M535.2,399.1L529.8,402.5L531.7,408.7L537.9,409.6L538.5,408.2L537.7,401.7Z" fill="#fad967" stroke="#000" stroke-width="0.9"/>
<path d="M501.6,427.3L494.1,424.9L490.6,429.8L492,430.5L497,431L499.6,432Z" fill="#f7ab05" stroke="#000" stroke-width="0.9"/>
<path d="M559.9,422.5L554.9,423.2L555.5,432.1L556.9,433.8L557.5,432L560,425L560.5,422.9Z" fill="#f7ab05" stroke="#000" stroke-width="0.9"/>
<path d="M537.9,409.6L531.7,408.7L527.7,414.6L528,416.4L528.5,417.4L532,420L532.5,419.9L539,414.4L539.1,414.1Z" fill="#fad967" stroke="#000" stroke-width="0.9"/>
<path d="M520.8,421L524.9,427.1L528.5,417.4L528,416.4Z" fill="#fcfad0" stroke="#000" stroke-width="0.9"/>
<path d="M558.9,359.1L560.4,349.9L556,352.5L552.5,351.5L553.5,360.4L554.2,360.7Z" fill="#fcfad0" stroke="#000" stroke-width="0.9"/>
<path d="M512.9,426.4L510.4,421L510.3,420.9L504.6,424.8L504.4,425.7L506.8,433L507,433L511.1,435Z" fill="#fad967" stroke="#000" stroke-width="0.9"/>
<path d="M529.8,358.7L533.8,363.3L544.1,362.9L544.8,352.7L542,351L538,352.3L529,352.3Z" fill="#fad967" stroke="#000" stroke-width="0.9"/>
<path d="M563.5,404.2L562,405.2L562.5,407.6L562.9,408L563.2,408.2L563.9,408.3L564.7,407Z" fill="#f7ab05" stroke="#000" stroke-width="0.8"/>
<path d="M585.1,359.7L583.6,361.6L585.2,364.4L586.1,364.7L587.6,360.9Z" fill="#f7ab05" stroke="#000" stroke-width="0.9"/>
<path d="M524.9,427.1L524.9,427.2L531.4,427.6L532,420L528.5,417.4Z" fill="#fcfad0" stroke="#000" stroke-width="0.9"/>
<path d="M551.8,403.3L555.4,404.1L557.1,401.9L554.7,396.3L550.8,401.3Z" fill="#fad967" stroke="#000" stroke-width="0.9"/>
<path d="M545.3,437.1L543.2,443L547.9,445.9L548.3,445.7L550.4,439.1L547.8,436.1L546.7,437.1L546.7,437.1L546.7,437.1L546.7,437.1L546.7,437.1L546.7,437.1L546.7,437.1L546.7,437.1L546.7,437.1L546.7,437.1L546.7,437.1L546.7,437.1L546.7,437.1L546.7,437.1L546.7,437.1L546.7,437.1L546.7,437.1L546.7,437.1L546.7,437.1L546.7,437.1L546.3,436.3Z" fill="#fad967" stroke="#000" stroke-width="0.9"/>
<path d="M517.7,417.8L522.3,410.9L522.2,410.3L515.2,404.1L512.6,404.4L515.2,417.4Z" fill="#fcfad0" stroke="#000" stroke-width="0.9"/>
<path d="M484.4,399.4L490.1,387.6L479.6,369.3L476,370L472.5,372.5L471.5,379L471,385L471,385L469.5,392L469.5,392L467.9,398.5Z" fill="#fcfad0" stroke="#000" stroke-width="0.9"/>
<path d="M576.5,359.4L575.6,357.5L570.2,359.7L572.9,365.6Z" fill="#fad967" stroke="#000" stroke-width="0.9"/>
<path d="M535.4,395.7L528.9,390.8L526.6,393.2L525.4,397L526.8,400.2L529.8,402.5L535.2,399.1Z" fill="#fcfad0" stroke="#000" stroke-width="0.9"/>
<path d="M547.4,426.4L542.2,421.7L541.3,421.5L540.7,422.5L542,425.5L543.6,428.5L543.6,428.5L543.6,428.5L543.6,428.5L543.6,428.5L543.6,428.5L543.6,428.5L543.6,428.5L543.6,428.5L543.6,428.5L543.6,428.5L543.6,428.5L543.6,428.5L543.6,428.5L543.6,428.5L541.6,430.1L541.7,430.2L542.2,430.2L542.2,430.2L542.2,430.2L542.2,430.2L542.2,430.2L542.2,430.2L542.2,430.2L542.2,430.2L542.2,430.2L542.2,430.2L542.2,430.2L542.2,430.2L542.2,430.2L542.2,430.2L542.2,430.2L542.2,430.2L542.2,430.2L542.2,430.2L542.3,430.6L547.5,428.7Z" fill="#fad967" stroke="#000" stroke-width="0.9"/>
<path d="M572.7,375.5L567.5,370.5L564.1,370.8L562.9,372.7L564.3,377.3L572.9,379.9Z" fill="#fad967" stroke="#000" stroke-width="0.9"/>
<path d="M537.8,427L537.4,426.2L537.4,426.2L537.4,426.2L537.4,426.2L537.4,426.2L537.1,424.3L532.5,419.9L532,420L531.4,427.6L532.2,428.9L537.6,427.3Z" fill="#fcfad0" stroke="#000" stroke-width="0.9"/>
<path d="M555.6,408.1L555,408.5L554,410.4L554.7,412.4L558.1,412.4L558.4,411.8L557.7,409.2Z" fill="#f7ab05" stroke="#000" stroke-width="0.9"/>
<path d="M554.7,414.9L554.7,412.4L554,410.4L551.5,410.4L550,413.1L550.8,419Z" fill="#fad967" stroke="#000" stroke-width="0.9"/>
<path d="M547.4,403.9L548.1,407.6L550.6,408.7L551.9,404.3L551.8,403.3L550.8,401.3L550.2,401.3Z" fill="#fcfad0" stroke="#000" stroke-width="0.9"/>
<path d="M563.5,362.8L564.1,364L569.6,359.4L567.8,349.4L566,350.5L565.1,350.3Z" fill="#fad967" stroke="#000" stroke-width="0.9"/>
<path d="M487.9,417.3L483.9,409.4L478.5,418.7L477.7,424.8L482,427L486.1,427.8Z" fill="#fcfad0" stroke="#000" stroke-width="0.9"/>
<path d="M584.4,370.3L585,367.5L586.1,364.7L585.2,364.4L582.1,367.6Z" fill="#f7ab05" stroke="#000" stroke-width="0.9"/>
<path d="M532,432L532.2,428.9L531.4,427.6L524.9,427.2L523.8,429.6L524.1,431.7L528.9,435.1Z" fill="#fcfad0" stroke="#000" stroke-width="0.9"/>
<path d="M560.4,372.9L559.3,372.1L547.4,370.2L546.3,375.1L547.1,377.8L549.2,381L550.9,381.5L555.8,379.6Z" fill="#fcfad0" stroke="#000" stroke-width="0.9"/>
<path d="M478.5,418.7L473.6,412.3L473,414L473,414L471,420L471,420L471,420L471,420L471,420L471,420L472,421L477,424.5L477.7,424.8ZM464.6,400.6L462,401L457.5,402.5L456.3,404.3L461,402L461,402L461,402L464.8,400.8Z" fill="#fcfad0" stroke="#000" stroke-width="0.9"/>
<path d="M519.1,420.4L517.6,426.9L518.5,428.3L523.8,429.6L524.9,427.2L524.9,427.1L520.8,421Z" fill="#fad967" stroke="#000" stroke-width="0.9"/>
<path d="M559,403.1L559.5,403L562.6,397.6L562.6,397.5L554.9,395.8L554.7,396.3L557.1,401.9Z" fill="#f7ab05" stroke="#000" stroke-width="0.9"/>
<path d="M551.9,404.3L555,408.5L555.6,408.1L555.7,407.8L555.4,404.1L551.8,403.3Z" fill="#fad967" stroke="#000" stroke-width="0.9"/>
<path d="M496.9,415.9L496.1,417.1L494.1,424.9L501.6,427.3L504.4,425.7L504.6,424.8L498.9,415.9Z" fill="#fcfad0" stroke="#000" stroke-width="0.9"/>
<path d="M566.6,400.7L563.7,399.5L563.9,403.7L567.3,404.6Z" fill="#f7ab05" stroke="#000" stroke-width="0.9"/>
<path d="M571,393.5L570.4,391.5L564.3,389.8L564.3,389.8L564.3,393.5L566.7,395.3L570.6,395Z" fill="#fad967" stroke="#000" stroke-width="0.9"/>
<path d="M577.7,382.3L576.7,382.2L575.2,387.5L575.7,390.5L577,392.8L579,388L580.3,385Z" fill="#f7ab05" stroke="#000" stroke-width="0.9"/>
<path d="M494.1,424.9L496.1,417.1L487.9,417.3L486.1,427.8L487,428L490.6,429.8Z" fill="#fcfad0" stroke="#000" stroke-width="0.9"/>
<path d="M587.4,347.4L586.2,348.8L587,351.2L591,350.1L591,350L591,349.7Z" fill="#f7ab05" stroke="#000" stroke-width="0.9"/>
<path d="M530.2,386.6L529.1,384.7L521.9,382.1L521.2,387.3L526.6,393.2L528.9,390.8Z" fill="#fcfad0" stroke="#000" stroke-width="0.9"/>
<path d="M575.8,372.9L577.2,374.6L579.9,374.5L580.6,373.3L579.5,367.1L579.3,366.8L575.6,368.8Z" fill="#f7ab05" stroke="#000" stroke-width="0.9"/>
<path d="M557.7,409.2L558.4,411.8L558.7,411.7L560.6,410.1L560.5,409.3L558,409Z" fill="#f7ab05" stroke="#000" stroke-width="0.8"/>
<path d="M571.1,390.6L571.4,387L570.1,385L564.7,385.3L564.3,386.2L564.3,389.8L570.4,391.5Z" fill="#fad967" stroke="#000" stroke-width="0.9"/>
<path d="M580.6,373.3L579.9,374.5L581.1,378.4L582.8,378.5L583.9,373.1Z" fill="#f7ab05" stroke="#000" stroke-width="0.9"/>
<path d="M559.2,407.2L558.5,405.1L555.7,407.8L555.6,408.1L557.7,409.2L558,409Z" fill="#f7ab05" stroke="#000" stroke-width="0.9"/>
<path d="M546.3,375.1L543.5,375.5L536.3,382.3L536.1,384.3L539.1,387.4L547.1,377.8Z" fill="#fcfad0" stroke="#000" stroke-width="0.9"/>
<path d="M550.8,401.3L554.7,396.3L554.9,395.8L554.4,393.2L548.3,392L545.8,394.6L545.7,395.3L550.2,401.3Z" fill="#fad967" stroke="#000" stroke-width="0.9"/>
<path d="M478.5,418.7L483.9,409.4L485,401.3L484.4,399.4L467.9,398.5L467.6,399.9L480,399.9L480,400L480,400L480,400L480,400L480,400L480,400L480,400L480,400L480,400L480,400L480,400L480,400L480,400L480,400L480,400L480,400L480,400L480,400L480,400L480,400L480,400L480,400L480,400L477,404L475,407.5L473.6,412.3ZM464.8,400.8L466.7,400.2L464.6,400.6Z" fill="#fcfad0" stroke="#000" stroke-width="0.9"/>
<path d="M550.8,419L550,413.1L546.2,411.7L544.8,413.6L546.6,417.6L550.8,419.1Z" fill="#fad967" stroke="#000" stroke-width="0.9"/>
<path d="M547.9,445.9L543.2,443L541.4,443.3L540.2,444.1L537,449.2L538,449.8L540,450L540,450L540,450L544,451L544,451L544,451L546.6,452Z" fill="#f7ab05" stroke="#000" stroke-width="0.9"/>
<path d="M528.9,436.1L524.8,442L531.7,446L531.9,440.7Z" fill="#fcfad0" stroke="#000" stroke-width="0.9"/>
<path d="M532.5,419.9L537.1,424.3L536.6,420.7L536.6,420.7L536.6,420.7L536.6,420.7L536.6,420.7L536.6,420.7L536.6,420.7L536.6,420.7L536.6,420.7L536.6,420.7L536.6,420.7L536.6,420.7L536.6,420.7L536.6,420.7L536.6,420.7L536.6,420.7L536.6,420.7L536.6,420.7L536.6,420.7L536.6,420.7L536.6,420.7L536.6,420.7L540.5,422.3L540.5,422.3L540.5,422.3L540.5,422.3L540.5,422.3L540.5,422.3L540.5,422.3L540.5,422.3L540.5,422.3L540.7,422.5L541.3,421.5L539,414.4Z" fill="#fad967" stroke="#000" stroke-width="0.9"/>
<path d="M527.7,414.6L522.3,410.9L517.7,417.8L519.1,420.4L520.8,421L528,416.4Z" fill="#fcfad0" stroke="#000" stroke-width="0.9"/>
<path d="M516,389.9L521.2,387.3L521.9,382.1L518.2,372.3L517.8,371.8L509.8,371.4L507.9,372.3L506.9,375.7L508,376L508,376L512.5,377.5L512.5,377.5L512.5,377.5L512.5,377.5L512.5,377.5L512.5,377.5L512.5,377.5L512.5,377.5L512.5,377.5L512.5,377.5L512.5,377.5L512.5,377.5L513.5,385L513.5,385L513.8,389.1Z" fill="#fcfad0" stroke="#000" stroke-width="0.9"/>
<path d="M554.6,392.5L554.4,393.2L554.9,395.8L562.6,397.5L564.3,393.5L564.3,389.8Z" fill="#fad967" stroke="#000" stroke-width="0.9"/>
<path d="M504.4,367.9L507.9,372.3L509.8,371.4L515,352.3L502.8,352.3Z" fill="#fcfad0" stroke="#000" stroke-width="0.9"/>
<path d="M559.3,372.1L554.2,360.7L553.5,360.4L546.6,365.4L547.4,370.2Z" fill="#fcfad0" stroke="#000" stroke-width="0.9"/>
<path d="M490.1,387.6L491,387.4L490,386L490,386L490,386L490,386L487.5,380L487.5,380L487.5,380L487.5,380L487.5,380L487.5,380L487.5,380L487.5,380L487.5,380L487.5,380L487.5,380L487.5,380L487.5,380L487.5,380L487.5,380L487.5,380L487.5,380L495,377L495,377L495,377L504,375L504,375L504,375L504,375L504,375L504,375L506.9,375.7L507.9,372.3L504.4,367.9L489.2,361.2L489,362.5L489,362.5L489,362.5L489,362.5L489,362.5L489,362.5L489,362.5L489,362.5L489,362.5L485,366L485,366L481,369L481,369L481,369L481,369L481,369L481,369L479.6,369.3Z" fill="#fcfad0" stroke="#000" stroke-width="0.9"/>
<path d="M584.3,345.8L585.9,343.5L582.1,344.7Z" fill="#f7ab05" stroke="#000" stroke-width="0.9"/>
<path d="M562,405.2L561.6,405.1L560.1,407.5L560.5,408.8L562.5,407.6Z" fill="#f7ab05" stroke="#000" stroke-width="0.8"/>
<path d="M558.5,405.1L559,403.1L557.1,401.9L555.4,404.1L555.7,407.8Z" fill="#fad967" stroke="#000" stroke-width="0.9"/>
<path d="M583.9,356.6L585.3,356.7L586.8,355.1L586.5,354.1L582.7,351.6L580.9,352.7Z" fill="#f7ab05" stroke="#000" stroke-width="0.9"/>
<path d="M546.6,417.6L542.2,421.7L547.4,426.4L551.1,420.6L550.8,419.1Z" fill="#fad967" stroke="#000" stroke-width="0.9"/>
<path d="M550.9,381.5L554.8,389.8L558.3,385.2L555.8,379.6Z" fill="#fcfad0" stroke="#000" stroke-width="0.9"/>
<path d="M526.8,400.2L525.4,397L520.7,397.7L515.2,404.1L522.2,410.3Z" fill="#fcfad0" stroke="#000" stroke-width="0.9"/>
<path d="M540.1,434.9L540.1,434.8L540.1,434.8ZM541.4,443.3L543.2,443L545.3,437.1L542.4,434.2L542.4,435.2L542.4,435.2L542.4,435.2L542.4,435.2L542.4,435.2L542.4,435.2L542.4,435.2L542.4,435.2L542.4,435.2L542.4,435.2L542.4,435.2L542.4,435.2L542.4,435.2L542.4,435.2L542.4,435.2L542.4,435.2L540.2,435.6Z" fill="#fcfad0" stroke="#000" stroke-width="0.9"/>
<path d="M587.4,347.4L591,349.7L591,342.6L588,343.1Z" fill="#fa6405" stroke="#000" stroke-width="0.9"/>
<path d="M562.8,411.6L562,411.7L561.2,413.5L561.2,414.1L562.6,414.8L563.7,411.8Z" fill="#f7ab05" stroke="#000" stroke-width="0.8"/>
<path d="M581.1,378.4L577.7,382.3L580.3,385L582.5,380L582.8,378.5Z" fill="#f7ab05" stroke="#000" stroke-width="0.9"/>
<path d="M524.1,431.7L523.8,429.6L518.5,428.3L515.8,435.9L517,436L520.6,438.7Z" fill="#fad967" stroke="#000" stroke-width="0.9"/>
<path d="M575.2,387.5L571.4,387L571.1,390.6L575.7,390.5Z" fill="#f7ab05" stroke="#000" stroke-width="0.9"/>
<path d="M546.2,410.2L546.2,411.7L550,413.1L551.5,410.4L550.6,408.7L548.1,407.6Z" fill="#fad967" stroke="#000" stroke-width="0.9"/>
<path d="M583.7,349.1L584.5,348.5L584.3,345.8L582.1,344.7L581,345L580.3,345.5Z" fill="#fad967" stroke="#000" stroke-width="0.9"/>
<path d="M564.3,377.3L562.9,372.7L560.4,372.9L555.8,379.6L558.3,385.2L564.3,386.2L564.7,385.3Z" fill="#fad967" stroke="#000" stroke-width="0.9"/>
<path d="M586.8,355.1L585.3,356.7L585.1,359.7L587.6,360.9L588,360L589.2,356.1Z" fill="#f7ab05" stroke="#000" stroke-width="0.9"/>
<path d="M537.6,427.3L536.9,434.4L540.1,434.8L540.1,434.8L540,430.5L540,430.5L540,430.5L540,430.5L540,430.5L540,430.5L540,430.5L540,430.5L540,430.5L540,430.5L540,430.5L540,430.5L540,430.5L540,430.5L540,430.5L540,430.5L540.1,430.4L538.8,428.5L538.8,428.5L537.8,427ZM541.6,430.1L541.4,430.3L541.7,430.2Z" fill="#f7ab05" stroke="#000" stroke-width="0.9"/>
<path d="M562.8,411.6L563.7,411.8L564,411L564.7,409.7L563.9,408.3L563.2,408.2Z" fill="#f7ab05" stroke="#000" stroke-width="0.7"/>
<path d="M504.6,424.8L510.3,420.9L505.6,410.1L498.9,415.9Z" fill="#fcfad0" stroke="#000" stroke-width="0.9"/>
<path d="M570.2,359.7L569.6,359.4L564.1,364L564.1,370.8L567.5,370.5L572.9,367.4L572.9,365.6Z" fill="#fad967" stroke="#000" stroke-width="0.9"/>
<path d="M512.6,404.4L515.2,404.1L520.7,397.7L516,389.9L513.8,389.1L514,392.5L514.5,398L514.5,398L515,404L515,404L515,404L515,404L515,404L515,404L515,404L515,404L515,404L515,404L515,404L515,404L515,404L515,404L515,404L515,404L515,404L515,404L515,404L515,404L515,404L509,402L509,402L507.4,401.4L507.9,402.6Z" fill="#fcfad0" stroke="#000" stroke-width="0.9"/>
<path d="M542.5,406.3L538.5,408.2L537.9,409.6L539.1,414.1L544.8,413.6L546.2,411.7L546.2,410.2Z" fill="#fcfad0" stroke="#000" stroke-width="0.9"/>
<path d="M545.7,395.3L545.8,394.6L540,388.4L539.4,388.1L538.1,393.1L542.1,398.3L543.1,398.4Z" fill="#fcfad0" stroke="#000" stroke-width="0.9"/>
<path d="M562.5,407.6L560.5,408.8L560.5,409.3L560.6,410.1L561.4,410.7L562.9,408Z" fill="#f7ab05" stroke="#000" stroke-width="0.8"/>
<path d="M525.4,397L526.6,393.2L521.2,387.3L516,389.9L520.7,397.7Z" fill="#fcfad0" stroke="#000" stroke-width="0.9"/>
<path d="M576.2,381.6L573.3,380.6L570.1,385L571.4,387L575.2,387.5L576.7,382.2Z" fill="#fad967" stroke="#000" stroke-width="0.9"/>
<path d="M579.5,367.1L582.1,367.6L585.2,364.4L583.6,361.6L580.6,361.1L579.5,361.9L579.3,366.8Z" fill="#f7ab05" stroke="#000" stroke-width="0.9"/>
<path d="M561.8,417.7L562.5,415L562.6,414.8L561.2,414.1L560.2,415.5L560.3,416.5Z" fill="#f7ab05" stroke="#000" stroke-width="0.9"/>
<path d="M535.7,435.3L532,432L528.9,435.1L528.9,436.1L531.9,440.7L535.5,437Z" fill="#fcfad0" stroke="#000" stroke-width="0.9"/>
<path d="M539.1,387.4L539.4,388.1L540,388.4L547.5,386.5L549.2,381L547.1,377.8Z" fill="#fcfad0" stroke="#000" stroke-width="0.9"/>
<path d="M586.5,354.1L586.8,355.1L589.2,356.1L591,350.1L587,351.2Z" fill="#f7ab05" stroke="#000" stroke-width="0.9"/>
<path d="M529,352.3L515,352.3L509.8,371.4L517.8,371.8L529.8,358.7Z" fill="#fad967" stroke="#000" stroke-width="0.9"/>
<path d="M544.1,362.9L546.6,365.4L553.5,360.4L552.5,351.5L551,351L546,353.5L544.8,352.7Z" fill="#fcfad0" stroke="#000" stroke-width="0.9"/>
<path d="M540,388.4L545.8,394.6L548.3,392L547.5,386.5Z" fill="#fcfad0" stroke="#000" stroke-width="0.9"/>
<path d="M581.2,358.9L583.9,356.6L580.9,352.7L580.2,352.8Z" fill="#fad967" stroke="#000" stroke-width="0.9"/>
<path d="M560.1,407.5L561.6,405.1L559.5,403L559,403.1L558.5,405.1L559.2,407.2Z" fill="#f7ab05" stroke="#000" stroke-width="0.8"/>
<path d="M571.2,397.5L570.6,395L566.7,395.3L568.2,398.4Z" fill="#f7ab05" stroke="#000" stroke-width="0.9"/>
<path d="M555.5,432.1L551.7,431.1L551.5,431.5L551.5,431.5L549.8,434L549.8,434L549.8,434L547.8,436.1L550.4,439.1L555.9,437.1L556.9,433.8Z" fill="#f7ab05" stroke="#000" stroke-width="0.9"/>
<path d="M580.6,361.1L581.2,358.9L580.2,352.8L579,352.3L576,353.1L575.6,357.5L576.5,359.4L579.5,361.9Z" fill="#fad967" stroke="#000" stroke-width="0.9"/>
<path d="M526.8,400.2L522.2,410.3L522.3,410.9L527.7,414.6L531.7,408.7L529.8,402.5Z" fill="#fcfad0" stroke="#000" stroke-width="0.9"/>
<path d="M504.4,425.7L501.6,427.3L499.6,432L502,433L506.8,433Z" fill="#fad967" stroke="#000" stroke-width="0.9"/>
<path d="M571,393.5L570.6,395L571.2,397.5L572.7,399L576,395L576.4,394Z" fill="#f7ab05" stroke="#000" stroke-width="0.9"/>
<path d="M585.1,359.7L585.3,356.7L583.9,356.6L581.2,358.9L580.6,361.1L583.6,361.6Z" fill="#f7ab05" stroke="#000" stroke-width="0.9"/>
<path d="M564.7,407L563.9,408.3L564.7,409.7L566.4,406.8Z" fill="#f7ab05" stroke="#000" stroke-width="0.8"/>
<path d="M536.1,384.3L536.3,382.3L533.6,372.9L528.4,376.5L529.1,384.7L530.2,386.6Z" fill="#fcfad0" stroke="#000" stroke-width="0.9"/>
<path d="M561.2,414.1L561.2,413.5L558.7,411.7L558.4,411.8L558.1,412.4L558.2,414.5L560.2,415.5Z" fill="#f7ab05" stroke="#000" stroke-width="0.8"/>
<path d="M562.9,408L561.4,410.7L562,411.7L562.8,411.6L563.2,408.2Z" fill="#f7ab05" stroke="#000" stroke-width="0.7"/>
<path d="M560.3,416.5L559,418.5L559.9,422.5L560.5,422.9L561.8,417.7Z" fill="#f7ab05" stroke="#000" stroke-width="0.9"/>
<path d="M536.3,382.3L543.5,375.5L534.1,371.3L533.6,372.9Z" fill="#fcfad0" stroke="#000" stroke-width="0.9"/>
<path d="M490.1,387.6L484.4,399.4L485,401.3L493.2,407.5L504.9,400.4L504,400L504,400L504,400L504,400L496,394L496,394L496,394L496,394L491,387.4Z" fill="#fcfad0" stroke="#000" stroke-width="0.9"/>
<path d="M580.6,373.3L583.9,373.1L584.4,370.3L582.1,367.6L579.5,367.1Z" fill="#f7ab05" stroke="#000" stroke-width="0.9"/>
<path d="M510.3,420.9L510.4,421L515.2,417.4L512.6,404.4L507.9,402.6L505.6,410.1Z" fill="#fcfad0" stroke="#000" stroke-width="0.9"/>
<path d="M548.3,445.7L547.9,445.9L546.6,452L547.5,452.5L547.5,452.5L547.5,452.5L547.5,452.5L547.5,452.5L549.5,454.5L549.5,454.5L549.5,454.5L549.5,454.5L549.5,454.5L549.5,454.5L550,455.9L552.2,447.1Z" fill="#fad967" stroke="#000" stroke-width="0.9"/>
<path d="M540.2,444.1L535.5,437L531.9,440.7L531.7,446L535,448L537,449.2Z" fill="#fcfad0" stroke="#000" stroke-width="0.9"/>
<path d="M550.6,408.7L551.5,410.4L554,410.4L555,408.5L551.9,404.3Z" fill="#fad967" stroke="#000" stroke-width="0.9"/>
<path d="M540.1,434.8L536.9,434.4L535.7,435.3L535.5,437L540.2,444.1L541.4,443.3L540.2,435.6L540.2,435.6L540.2,435.6L540.2,435.6L540.2,435.6L540.2,435.6L540.2,435.6L540.2,435.6L540.2,435.6L540.2,435.6L540.2,435.6L540.2,435.6L540.2,435.6L540.2,435.6L540.2,435.6L540.2,435.6L540.2,435.6L540.2,435.6L540.2,435.6L540.1,434.9Z" fill="#fcfad0" stroke="#000" stroke-width="0.9"/>
<path d="M546.6,365.4L544.1,362.9L533.8,363.3L534.1,371.3L543.5,375.5L546.3,375.1L547.4,370.2Z" fill="#fcfad0" stroke="#000" stroke-width="0.9"/>
<path d="M577.7,382.3L581.1,378.4L579.9,374.5L577.2,374.6L576.2,381.6L576.7,382.2Z" fill="#f7ab05" stroke="#000" stroke-width="0.9"/>
<path d="M561.2,413.5L562,411.7L561.4,410.7L560.6,410.1L558.7,411.7Z" fill="#f7ab05" stroke="#000" stroke-width="0.8"/>
<path d="M544.3,403.5L542.5,406.3L546.2,410.2L548.1,407.6L547.4,403.9Z" fill="#fad967" stroke="#000" stroke-width="0.9"/>
<path d="M547.5,428.7L542.3,430.6L542.4,434.2L545.3,437.1L546.3,436.3L545.2,434L545.2,434L545.2,434L545.2,434L544.4,430.1L544.4,430.1L544.4,430.1L544.4,430.1L544.4,430.1L544.4,430.1L544.4,430.1L544.4,430.1L544.4,430.1L544.4,430.1L544.4,430.1L544.4,430.1L544.4,430.1L544.4,430.1L544.4,430.1L547.5,428.7Z" fill="#fad967" stroke="#000" stroke-width="0.9"/>
<path d="M572.9,379.9L564.3,377.3L564.7,385.3L570.1,385L573.3,380.6Z" fill="#fad967" stroke="#000" stroke-width="0.9"/>
<path d="M563.7,399.5L562.6,397.6L559.5,403L561.6,405.1L562,405.2L563.5,404.2L563.9,403.7Z" fill="#fad967" stroke="#000" stroke-width="0.9"/>
<path d="M542.1,398.3L538.1,393.1L535.4,395.7L535.2,399.1L537.7,401.7Z" fill="#fcfad0" stroke="#000" stroke-width="0.9"/>
<path d="M530.7,449.3L538,449.8L535,448L531,445.6Z" fill="#fad967" stroke="#000" stroke-width="0.9"/>
<path d="M511.9,452.4L515.8,451.4L515.6,449.7L512.3,447.2L509.5,447.8L510.9,451.6Z" fill="#f7ab05" stroke="#000" stroke-width="0.9"/>
<path d="M480.3,464.9L482.8,463.5L482.9,460.5L479.9,458.2L478.9,458.8Z" fill="#fcfad0" stroke="#000" stroke-width="0.9"/>
<path d="M498.6,464L498.3,462.7L498,462.4L496.5,462.5L496.9,464.5L498.1,464.7L498.2,464.7Z" fill="#f7ab05" stroke="#000" stroke-width="0.7"/>
<path d="M486.2,449.2L486,450.6L493,452.6L495.4,448.7L495,447.5L488.3,447.1Z" fill="#f7ab05" stroke="#000" stroke-width="0.9"/>
<path d="M485.7,451L480.7,452.4L480.5,457.1L486.5,456.6L486.9,455.5Z" fill="#fad967" stroke="#000" stroke-width="0.9"/>
<path d="M486.5,456.7L486.1,460.3L489.9,461.6L490.9,460.5L490.8,459.2Z" fill="#f7ab05" stroke="#000" stroke-width="0.9"/>
<path d="M499.6,442.3L501.3,439.5L497.6,436.3L494.4,438.3L498.4,442.6Z" fill="#fad967" stroke="#000" stroke-width="0.9"/>
<path d="M481.9,444.7L486.2,449.2L488.3,447.1L487.7,438.9L485.6,437.8Z" fill="#fad967" stroke="#000" stroke-width="0.9"/>
<path d="M517.4,452.9L521.4,453.7L523.7,453.2L523.9,452.7L522.2,441.8L518.9,443L515.6,449.7L515.8,451.4Z" fill="#f7ab05" stroke="#000" stroke-width="0.9"/>
<path d="M463,463.3L461,460.2L458.5,460.6L456.3,465.7L457,466L461.3,467.2Z" fill="#fcfad0" stroke="#000" stroke-width="0.9"/>
<path d="M503.8,456.5L502.6,456.6L502.6,456.6L502,458.1L502.4,461.2L504,461L504,461L504,461L504,461L504,461L504,461L504,461L504,461L504,461L504,461L504,461L504,461L504,461L504,461L504,461L504,461L504,461L504.1,461.2L505.3,460.7L505.8,457.2Z" fill="#f7ab05" stroke="#000" stroke-width="0.9"/>
<path d="M498.5,460L498.4,459.8L497.4,459.6L495.8,460.6L495.7,462.1L496.5,462.5L498,462.4Z" fill="#f7ab05" stroke="#000" stroke-width="0.8"/>
<path d="M501.2,466.7L501.2,466.9L501.9,468.9L502.7,468.8L503.4,467.5L502.5,465.8Z" fill="#f7ab05" stroke="#000" stroke-width="0.8"/>
<path d="M485.2,437.3L485.6,437.8L487.7,438.9L490.1,439.1L492.4,438.2L494.3,430.7L492,430.5L491.5,430.3Z" fill="#fad967" stroke="#000" stroke-width="0.9"/>
<path d="M524.9,462.6L525,462.5L525,462.5L525,462.5L525,462.5L523.5,459L522.5,457L522.5,457L522.5,457L522.5,457L522.5,457L522.5,457L522.5,457L522.5,457L522.5,457L523.7,453.2L521.4,453.7L519,460.3Z" fill="#f7ab05" stroke="#000" stroke-width="0.9"/>
<path d="M505.6,439.8L506.5,442.5L507.7,443.6L512.9,441.6L511.3,435.2L509.5,434.2Z" fill="#fad967" stroke="#000" stroke-width="0.9"/>
<path d="M501.9,468.9L501.2,466.9L499.7,468.7L500.8,469.8Z" fill="#f7ab05" stroke="#000" stroke-width="0.8"/>
<path d="M492.4,438.2L494.4,438.3L497.6,436.3L499.4,432L497,431L494.3,430.7Z" fill="#fad967" stroke="#000" stroke-width="0.9"/>
<path d="M511.4,459.2L506,457.2L505.8,457.2L505.3,460.7L506.9,461.4L511.6,459.5Z" fill="#f7ab05" stroke="#000" stroke-width="0.9"/>
<path d="M505.8,451.3L504.7,449.5L503.4,449.3L502,452.4L502.6,456.6L503.8,456.5Z" fill="#f7ab05" stroke="#000" stroke-width="0.9"/>
<path d="M498.8,453.4L496.1,448.9L495.4,448.7L493,452.6L492.9,455.1L493.2,455.7L495.9,456.2L497.1,455.9L498.8,453.7Z" fill="#f7ab05" stroke="#000" stroke-width="0.9"/>
<path d="M477.9,433.8L474.5,434.3L469,440.3L471.7,444.4L475.9,442.4L478.1,434Z" fill="#fad967" stroke="#000" stroke-width="0.9"/>
<path d="M495,447.5L495,447.5L495.4,448.7L496.1,448.9L502.6,448.8L502,444.3L499.6,442.3L498.4,442.6Z" fill="#f7ab05" stroke="#000" stroke-width="0.9"/>
<path d="M493.8,462.5L493.2,465L495,465L495,465L495.5,462.2Z" fill="#f7ab05" stroke="#000" stroke-width="0.8"/>
<path d="M456.7,450.6L461.3,444.8L453.3,439.3L453.2,439.3L453.2,441.3L455,441L455,441L455,441L455,441L455,441L455,441L455,441L455,441L455,441L455,441L455,441L455,441L455,441L455,441L455,441L455,441L455,441L455.5,444L455.5,444L455.5,444L455.5,444L455.5,444L455.5,444L455.5,444L455.5,444L455.5,444L455.5,444L455.5,444L455.5,444L455.5,444L455.5,444L455.5,444L455.5,444L455.5,444L453.2,444.5L453.2,451.1Z" fill="#fcfad0" stroke="#000" stroke-width="0.9"/>
<path d="M482.9,460.5L485.7,460.6L486.1,460.3L486.5,456.7L486.5,456.6L480.5,457.1L479.9,458.2Z" fill="#fad967" stroke="#000" stroke-width="0.9"/>
<path d="M494.4,438.3L492.4,438.2L490.1,439.1L495,447.5L498.4,442.6Z" fill="#f7ab05" stroke="#000" stroke-width="0.9"/>
<path d="M480.3,464.9L479.5,466.7L480.9,468.6L483.7,468L485.8,465.2L485.6,464.9L482.8,463.5Z" fill="#fad967" stroke="#000" stroke-width="0.9"/>
<path d="M503.4,467.5L502.7,468.8L503.9,470.3L506.5,468.9L506.6,468.3L506.2,468Z" fill="#f7ab05" stroke="#000" stroke-width="0.8"/>
<path d="M509.5,447.8L507.6,447L504.7,449.5L505.8,451.3L506.7,452L510.9,451.6Z" fill="#fad967" stroke="#000" stroke-width="0.9"/>
<path d="M506.7,452L507.7,454.1L510.7,454.9L511.9,452.4L510.9,451.6Z" fill="#fad967" stroke="#000" stroke-width="0.9"/>
<path d="M517.9,460.9L519,460.3L521.4,453.7L517.4,452.9L513.4,459.5Z" fill="#f7ab05" stroke="#000" stroke-width="0.9"/>
<path d="M502,458.1L499,459.1L498.4,459.8L498.5,460L500.7,461.4L502.4,461.2Z" fill="#fa6405" stroke="#000" stroke-width="0.8"/>
<path d="M486.6,427.9L482,427L477,424.5L477,424.5L477.9,433.8L478.1,434L482.8,435.4Z" fill="#fad967" stroke="#000" stroke-width="0.9"/>
<path d="M507.7,454.1L506,457.2L511.4,459.2L510.7,454.9Z" fill="#f7ab05" stroke="#000" stroke-width="0.9"/>
<path d="M485.2,437.3L482.8,435.4L478.1,434L475.9,442.4L479.7,445.7L481.9,444.7L485.6,437.8Z" fill="#f7ab05" stroke="#000" stroke-width="0.9"/>
<path d="M479.7,445.7L478,450.2L480.7,452.4L485.7,451L486,450.6L486.2,449.2L481.9,444.7Z" fill="#fad967" stroke="#000" stroke-width="0.9"/>
<path d="M496.9,464.5L496.5,462.5L495.7,462.1L495.5,462.2L495,465L495.5,465.3Z" fill="#fa6405" stroke="#000" stroke-width="0.7"/>
<path d="M506.7,452L505.8,451.3L503.8,456.5L505.8,457.2L506,457.2L507.7,454.1Z" fill="#f7ab05" stroke="#000" stroke-width="0.9"/>
<path d="M512.1,459.9L511.6,459.5L506.9,461.4L506.6,463.9L508.5,465.1L512.1,460Z" fill="#f7ab05" stroke="#000" stroke-width="0.9"/>
<path d="M506.2,468L506.6,468.3L508.7,466.7L508.5,465.1L506.6,463.9L504.5,464.3L504.5,464.9Z" fill="#f7ab05" stroke="#000" stroke-width="0.9"/>
<path d="M474.5,434.3L477.9,433.8L477,424.5L472,421L471,420L471,420L471,420L471,420L471,420L471,420L471,420L471,420L471,420L471,420L471,420L471,420L467.8,419.3L470,422.5L470,422.5L470,422.5L470,422.5L470,422.5L470,422.5L470,422.5L470,422.5L470,422.5L470,422.5L470,422.5L470,422.5L468,426.5L468,426.5L466,430L466,430L466,430L466,430L466,430L466,430L464.8,430.8Z" fill="#fcfad0" stroke="#000" stroke-width="0.9"/>
<path d="M506.6,463.9L506.9,461.4L505.3,460.7L504.1,461.2L504.5,464.3Z" fill="#f7ab05" stroke="#000" stroke-width="0.9"/>
<path d="M498.6,464L498.2,464.7L499.4,466.1L499.5,466.1L500.7,463.9Z" fill="#f7ab05" stroke="#000" stroke-width="0.7"/>
<path d="M464.4,455.1L466.4,454.5L466.4,448L462.4,444.4L461.3,444.8L456.7,450.6Z" fill="#fad967" stroke="#000" stroke-width="0.9"/>
<path d="M491.5,430.3L487,428L486.6,427.9L482.8,435.4L485.2,437.3Z" fill="#fad967" stroke="#000" stroke-width="0.9"/>
<path d="M474.5,434.3L464.8,430.8L462,432.5L462,432.5L461.7,432.7L464.8,439.3L469,440.3Z" fill="#fad967" stroke="#000" stroke-width="0.9"/>
<path d="M498.6,456.8L497.1,455.9L495.9,456.2L497.4,459.6L498.4,459.8L499,459.1Z" fill="#fa6405" stroke="#000" stroke-width="0.9"/>
<path d="M513.1,463.2L511,467.5L515.7,469.4L517.8,467.8Z" fill="#fad967" stroke="#000" stroke-width="0.9"/>
<path d="M475.9,442.4L471.7,444.4L471.6,444.8L474.9,450.6L478,450.2L479.7,445.7Z" fill="#fad967" stroke="#000" stroke-width="0.9"/>
<path d="M500.6,462L500.5,461.5L500.5,461.5L500.5,461.5L500.5,461.5L500.5,461.5L500.5,461.5L500.5,461.5L500.5,461.5L500.5,461.5L500.5,461.5L500.5,461.5L500.5,461.5L500.5,461.5L500.5,461.5L500.5,461.5L500.5,461.5L500.5,461.5L500.5,461.5L500.7,461.4L498.5,460L498,462.4L498.3,462.7Z" fill="#f7ab05" stroke="#000" stroke-width="0.8"/>
<path d="M522.2,441.8L523.9,452.7L524,452.5L524,452.5L524,452.5L526,449L526,449L526,449L526,449L526,449L526,449L526,449L526,449L526,449L526,449L526,449L526,449L530.7,449.3L531,445.6L524,441.5L523.1,440.7Z" fill="#fad967" stroke="#000" stroke-width="0.9"/>
<path d="M509.9,471.1L507.3,470.9L506.7,472.7L510,474L511.3,472.9Z" fill="#f7ab05" stroke="#000" stroke-width="0.9"/>
<path d="M502.2,439L505.6,439.8L509.5,434.2L507,433L502.6,433Z" fill="#fad967" stroke="#000" stroke-width="0.9"/>
<path d="M515.6,449.7L518.9,443L513.3,441.9L512.3,447.2Z" fill="#fad967" stroke="#000" stroke-width="0.9"/>
<path d="M470.3,456L466.4,454.5L464.4,455.1L461,460.2L463,463.3L466.2,464.4L471.2,457.4Z" fill="#fad967" stroke="#000" stroke-width="0.9"/>
<path d="M502,452.4L503.4,449.3L502.6,448.8L496.1,448.9L498.8,453.4Z" fill="#f7ab05" stroke="#000" stroke-width="0.9"/>
<path d="M458.5,460.6L453.2,457.6L453.2,464.3L456.3,465.7Z" fill="#fad967" stroke="#000" stroke-width="0.9"/>
<path d="M512.3,447.2L513.3,441.9L512.9,441.6L507.7,443.6L507.6,447L509.5,447.8Z" fill="#fad967" stroke="#000" stroke-width="0.9"/>
<path d="M511,467.5L511,467.5L509.9,471.1L511.3,472.9L515,470L515.7,469.4Z" fill="#f7ab05" stroke="#000" stroke-width="0.9"/>
<path d="M453.3,439.3L460,433.7L457.5,435L457.5,435L457.5,435L457.5,435L457.5,435L457.5,435L457.5,435L457.5,435L457.5,435L457.5,435L457.5,435L457.5,435L453.2,432.1L453.2,439.3ZM453.2,415.6L453.2,415.9L454.6,415.9Z" fill="#fcfad0" stroke="#000" stroke-width="0.9"/>
<path d="M510.7,454.9L511.4,459.2L511.6,459.5L512.1,459.9L513.4,459.5L517.4,452.9L515.8,451.4L511.9,452.4Z" fill="#f7ab05" stroke="#000" stroke-width="0.9"/>
<path d="M469,440.3L464.8,439.3L462.4,444.4L466.4,448L471.6,444.8L471.7,444.4Z" fill="#fad967" stroke="#000" stroke-width="0.9"/>
<path d="M493,452.6L486,450.6L485.7,451L486.9,455.5L492.9,455.1Z" fill="#f7ab05" stroke="#000" stroke-width="0.9"/>
<path d="M497.6,436.3L501.3,439.5L502.2,439L502.6,433L502,433L499.4,432Z" fill="#fad967" stroke="#000" stroke-width="0.9"/>
<path d="M512.9,441.6L513.3,441.9L518.9,443L522.2,441.8L523.1,440.7L521,439L517,436L512,435.5L511.3,435.2Z" fill="#fad967" stroke="#000" stroke-width="0.9"/>
<path d="M502.2,439L501.3,439.5L499.6,442.3L502,444.3L506.5,442.5L505.6,439.8Z" fill="#fad967" stroke="#000" stroke-width="0.9"/>
<path d="M458.5,460.6L461,460.2L464.4,455.1L456.7,450.6L453.2,451.1L453.2,457.6Z" fill="#fad967" stroke="#000" stroke-width="0.9"/>
<path d="M474.1,469.9L476,471L480.1,473.4L480.9,468.6L479.5,466.7L475.5,466Z" fill="#fcfad0" stroke="#000" stroke-width="0.9"/>
<path d="M507.3,470.9L506.5,468.9L503.9,470.3L503.5,471.2L505,472L506.7,472.7Z" fill="#fad967" stroke="#000" stroke-width="0.9"/>
<path d="M502.5,465.8L503.4,467.5L506.2,468L504.5,464.9L504.5,465L504.5,465L504.5,465L504.5,465L504.5,465L504.5,465L504.5,465L504.5,465L504.5,465L504.5,465L504.5,465L504.5,465L504.5,465L504.5,465L504.5,465L502.5,465.7Z" fill="#f7ab05" stroke="#000" stroke-width="0.8"/>
<path d="M507.6,447L507.7,443.6L506.5,442.5L502,444.3L502.6,448.8L503.4,449.3L504.7,449.5Z" fill="#f7ab05" stroke="#000" stroke-width="0.9"/>
<path d="M495.8,460.6L493.9,459.3L494,460L494,460L494,460L494,460L494,460L494,460L494,460L494,460L494,460L494,460L494,460L494,460L494,460L494,460L494,460L494,460L494,460L491.2,460.5L493.8,462.5L495.5,462.2L495.7,462.1Z" fill="#f7ab05" stroke="#000" stroke-width="0.8"/>
<path d="M475.5,466L473.8,463.7L468,467.4L467.9,468.2L472.5,469L474.1,469.9Z" fill="#fcfad0" stroke="#000" stroke-width="0.9"/>
<path d="M466.4,448L466.4,454.5L470.3,456L474.9,450.6L471.6,444.8Z" fill="#fad967" stroke="#000" stroke-width="0.9"/>
<path d="M499.4,466.1L499.3,466.3L499.3,468.3L499.7,468.7L501.2,466.9L501.2,466.7L499.5,466.1Z" fill="#f7ab05" stroke="#000" stroke-width="0.7"/>
<path d="M506.6,468.3L506.5,468.9L507.3,470.9L509.9,471.1L511,467.5L508.7,466.7Z" fill="#f7ab05" stroke="#000" stroke-width="0.9"/>
<path d="M473.6,459.6L473.8,463.7L475.5,466L479.5,466.7L480.3,464.9L478.9,458.8Z" fill="#fad967" stroke="#000" stroke-width="0.9"/>
<path d="M508.5,465.1L508.7,466.7L511,467.5L511,467.5L513.1,463.2L512.1,460Z" fill="#f7ab05" stroke="#000" stroke-width="0.9"/>
<path d="M498.8,453.7L497.1,455.9L498.6,456.8L501.5,456.3Z" fill="#f7ab05" stroke="#000" stroke-width="0.9"/>
<path d="M500.7,463.9L499.5,466.1L501.2,466.7L502.5,465.8L502.5,465.7L501.5,466L501.5,466L501.5,466L501.5,466L501.5,466L501.5,466L501.5,466L501.5,466L501.5,466L501.5,466L501.5,466L501.5,466L501.5,466L501.5,466L501.5,466L501.5,466L501.5,466L501.5,466L501,463.8Z" fill="#f7ab05" stroke="#000" stroke-width="0.8"/>
<path d="M503.9,470.3L502.7,468.8L501.9,468.9L500.8,469.8L501,470L503.5,471.2Z" fill="#f7ab05" stroke="#000" stroke-width="0.8"/>
<path d="M498.3,462.7L498.6,464L500.7,463.9L501,463.8L500.6,462Z" fill="#f7ab05" stroke="#000" stroke-width="0.8"/>
<path d="M471.2,457.4L466.2,464.4L468,467.4L473.8,463.7L473.6,459.6Z" fill="#fad967" stroke="#000" stroke-width="0.9"/>
<path d="M486.1,460.3L485.7,460.6L485.6,464.9L485.8,465.2L487.4,465.4L489.9,462L489.9,461.6Z" fill="#fad967" stroke="#000" stroke-width="0.9"/>
<path d="M480.9,468.6L480.1,473.4L481,474L486,470L486,470L483.7,468Z" fill="#fad967" stroke="#000" stroke-width="0.9"/>
<path d="M453.3,439.3L461.3,444.8L462.4,444.4L464.8,439.3L461.7,432.7L460,433.7Z" fill="#fcfad0" stroke="#000" stroke-width="0.9"/>
<path d="M519,460.3L517.9,460.9L518.3,467.3L520,466L524.9,462.6Z" fill="#f7ab05" stroke="#000" stroke-width="0.9"/>
<path d="M499.3,466.3L497.9,466.9L498,467L499.3,468.3Z" fill="#f7ab05" stroke="#000" stroke-width="0.7"/>
<path d="M489.9,461.6L489.9,462L492.1,465L493.2,465L493.8,462.5L491.2,460.5L491,460.5L491,460.5L491,460.5L491,460.5L491,460.5L491,460.5L491,460.5L491,460.5L491,460.5L491,460.5L491,460.5L491,460.5L491,460.5L491,460.5L491,460.5L491,460.5L491,460.5L490.9,460.5Z" fill="#f7ab05" stroke="#000" stroke-width="0.8"/>
<path d="M502.6,456.6L502,452.4L498.8,453.4L498.8,453.7L501.5,456.3L502.6,456.6Z" fill="#f7ab05" stroke="#000" stroke-width="0.9"/>
<path d="M490.1,439.1L487.7,438.9L488.3,447.1L495,447.5L495,447.5Z" fill="#f7ab05" stroke="#000" stroke-width="0.9"/>
<path d="M487.4,465.4L488.9,467.1L490,466L492,465L492.1,465L489.9,462Z" fill="#f7ab05" stroke="#000" stroke-width="0.8"/>
<path d="M493.2,455.7L492.9,455.1L486.9,455.5L486.5,456.6L486.5,456.7L490.8,459.2L490.5,456.5L490.5,456.5L490.5,456.5L490.5,456.5L490.5,456.5L490.5,456.5L490.5,456.5L490.5,456.5L490.5,456.5L490.5,456.5L490.5,456.5L490.5,456.5L490.5,456.5L490.5,456.5L490.5,456.5L490.5,456.5L490.5,456.5L490.5,456.5L490.5,456.5L490.5,456.5L492.9,456.8Z" fill="#f7ab05" stroke="#000" stroke-width="0.9"/>
<path d="M499.3,466.3L499.4,466.1L498.2,464.7L498.1,464.7L497.3,466.5L497.9,466.9Z" fill="#f7ab05" stroke="#000" stroke-width="0.7"/>
<path d="M482.8,463.5L485.6,464.9L485.7,460.6L482.9,460.5Z" fill="#fad967" stroke="#000" stroke-width="0.9"/>
<path d="M495.8,460.6L497.4,459.6L495.9,456.2L493.2,455.7L492.9,456.8L493.5,457L493.5,457L493.5,457L493.5,457L493.5,457L493.5,457L493.5,457L493.5,457L493.5,457L493.5,457L493.5,457L493.5,457L493.5,457L493.5,457L493.9,459.3Z" fill="#f7ab05" stroke="#000" stroke-width="0.8"/>
<path d="M468,467.4L466.2,464.4L463,463.3L461.3,467.2L462.5,467.5L467,468L467.9,468.2Z" fill="#fcfad0" stroke="#000" stroke-width="0.9"/>
<path d="M487.4,465.4L485.8,465.2L483.7,468L486,470L488.9,467.1Z" fill="#fad967" stroke="#000" stroke-width="0.9"/>
<path d="M502.6,456.6L501.5,456.3L498.6,456.8L499,459.1L502,458.1Z" fill="#f7ab05" stroke="#000" stroke-width="0.9"/>
<path d="M496.9,464.5L495.5,465.3L497.3,466.5L498.1,464.7Z" fill="#f7ab05" stroke="#000" stroke-width="0.7"/>
<path d="M479.9,458.2L480.5,457.1L480.7,452.4L478,450.2L474.9,450.6L470.3,456L471.2,457.4L473.6,459.6L478.9,458.8Z" fill="#fad967" stroke="#000" stroke-width="0.9"/>
<path d="M513.1,463.2L517.8,467.8L518.3,467.3L517.9,460.9L513.4,459.5L512.1,459.9L512.1,460Z" fill="#f7ab05" stroke="#000" stroke-width="0.9"/>
<path d="M322,181V388 M420.75,201V315.3 M322,315.3H453.2 M453.2,315.3V413.5 M453.2,352.3H540" stroke="#000" stroke-width="1" fill="none" clip-path="url(#land)"/>
<path d="M322,181L324,180L326,178L327,174L329,169L331,166L334,162.5L336,157L337.5,152.5L341,147.5L345,146L350,146L356,146L361,145L358,141L352,139L354,135L362,134L364,139L366,143L372.5,142.5L378,144L385,145L390,146L395,144L399,139L402,137L405,133L407,139L409,147.5L404,150L402.5,154L399,158L397.5,164L403,165L407.5,166L408,171L403,170L398,170L394,177.5L400,185L405,189L410,191L416,197L420.8,201L426,203L432.5,204L437,207L440,210L444,214L447,213L450,211L453,207L455,202.5L458,195L459,187.5L460,172.5L460,152.5L462,143L465,135L467.5,130L470,132L472.5,134L473,141L474,147.5L477,153L480,157.5L482,162L484,167.5L487.5,174L492,170L497,172L500,180L501,195L506,205L508,213L510.7,215L513,224.2L518.4,230.4L522,234.5L526.1,238L533,242.6L541.4,245L544.5,251.9L548.4,259.5L553.7,265.7L559.9,271.8L562.9,279.5L566,285.7L570.6,291.8L575.2,298L580,303L584,306.5L587.5,310L588,318L589,325L590,335L591,340L591,350L588,360L585,367.5L582.5,380L579,388L576,395L571,401L567.5,405L564,411L562.5,415L560,425L557.5,432L555,440L552.5,446L550,456L545,459L540,460L532,461L525,462.5L520,466L515,470L510,474L505,472L501,470L498,467L495,465L492,465L490,466L486,470L481,474L476,471L472.5,469L467,468L462.5,467.5L457,466L452.5,464L448,461L443.5,457.2L439.6,452L438.3,444.2L434.4,436.4L430.5,433.7L425.3,433.7L421.4,434.4L424,432.4L427.9,431.1L427.2,427.2L425.9,423.3L424,418.1L421.8,413.2L420.7,414.2L420,418.1L417.4,424.6L412.2,427.2L409,427.9L413.5,423.3L414.8,415.5L417.4,412.9L419.4,407.6L418.7,402.4L418,393L416.1,401.1L414.8,403.7L412.2,408.9L405.7,412.2L401.8,415.5L399.2,419.4L397.9,425.9L395.2,424.6L391.3,420.7L388.7,414.2L384.8,406.3L379.6,402.4L378.3,397.2L373,392L367.8,390.7L367,387.5L361,389L356,387L352.5,386L349,383.5L345,382.5L338,384L332.5,385L327,386.5L322,387.5L316,387L310,389L302,391L295,392.5L287,395L280,397.5L274,400L270,402.5L266,408L262.5,412.5L255,413L247.5,414L240,412L232.5,411L224,413.5L217.5,415L213,417.5L209,420L203.6,425.1L196.5,427.8L187.7,426.9L180.6,424.2L175.3,418L169.2,414.5L168.3,410L174.5,404.8L175.3,396L176.2,387.1L173.6,378.3L169.2,367.7L166.5,353.6L163,341.2L157.7,330.6L152,322L149.7,320L146,312.5L148,306L149,302.5L150,296L151,290L153,282L154,275L156,270L157.5,266L161,266L165,265L171,261L177.5,257.5L183,253L187.5,250L194,250L200,249L206,246L212.5,242.5L222.5,241L228,239.5L232.5,237.5L237,232L241,226L244,219L247.5,212.5L251,206.5L255,201L259,197L262.5,195L266,190L270,186L275,181L280,176L285,171L290,167.5L295,166L300,166L304,169L308,173L312.5,177.5L317,180Z" fill="none" stroke="#000" stroke-width="1.1"/>
<path d="M484.6,483.5L486.6,482.8L487.6,485.5L487.2,489L485.2,489.6L484.2,486.5Z" fill="#fcfad0" stroke="#000" stroke-width="1.2"/>
<path d="M528.5,483L530.5,484L531.5,487.5L534,490L535,493.5L532.5,494.3L530,492L528.3,489L527.3,486Z" fill="#fad967" stroke="#000" stroke-width="2.2"/>
<path d="M405,435.7L410.9,433.7L417.4,434.4L421.4,435.7L417.4,437.2L412.2,438.5L406.3,439.2Z" fill="#fad967" stroke="#000" stroke-width="1.2"/>
<path d="M332.5,140L334,136L338,135L344,134.5L349,135.5L349.5,138.5L346,141L343,144L339.5,144.5L336,143L333.5,143Z" fill="#fcfad0" stroke="#000" stroke-width="1.2"/>
<path d="M402.5,172L405.5,171.5L407.5,173.5L406.5,176.5L403,176.5Z" fill="#fcfad0" stroke="#000" stroke-width="1.2"/>
<path d="M432,198.2L436,196.4L438.6,198L437,200.5L433.6,200.8Z" fill="#fad967" stroke="#000" stroke-width="1.2"/>
<path d="M588.5,301L590.3,302L591.8,308L591,313L589.6,309Z" fill="#f7ab05" stroke="#000" stroke-width="1.2"/>
<path d="M511.8,503.6L522.2,508.1L522.7,498.8L521.4,499.2L514.5,500.6L511.3,501.4Z" fill="#fad967" stroke="#000" stroke-width="0.9"/>
<path d="M519.5,521.4L516,522.2L513.9,525L516.1,530.7L518.7,530L524.2,528.5L527,527.5L528.1,526.6Z" fill="#f7ab05" stroke="#000" stroke-width="0.9"/>
<path d="M525,510.6L529.7,520.2L530.5,519L531.8,515.8L532.5,512L533.2,507.5L533.3,506.6Z" fill="#fad967" stroke="#000" stroke-width="0.9"/>
<path d="M511.2,510.6L504.6,518.2L513.1,518.8L514.1,512.8Z" fill="#fcfad0" stroke="#000" stroke-width="0.9"/>
<path d="M510.6,508.6L511.8,503.6L511.3,501.4L511,501.5L507.6,502L502.5,499.5L501.6,498.9L495.5,505.2L495.9,506.1L497.3,509.5Z" fill="#fcfad0" stroke="#000" stroke-width="0.9"/>
<path d="M525,510.6L523.4,510.3L520.4,513L519.5,521.4L528.1,526.6L529.7,525.4L529,521.3L529.7,520.2Z" fill="#fad967" stroke="#000" stroke-width="0.9"/>
<path d="M513.1,518.8L516,522.2L519.5,521.4L520.4,513L514.1,512.8Z" fill="#fad967" stroke="#000" stroke-width="0.9"/>
<path d="M533.3,505.7L533.6,502L533.2,497.8L531,496.3L528.3,497.1L527.1,497.5Z" fill="#fad967" stroke="#000" stroke-width="0.9"/>
<path d="M501.6,498.9L497.9,496.4L495,492.3L493.1,493L493.1,497.8L494.3,502L495.5,505.2Z" fill="#fad967" stroke="#000" stroke-width="0.9"/>
<path d="M522.2,508.1L523.4,510.3L525,510.6L533.3,506.6L533.3,505.7L527.1,497.5L522.7,498.8Z" fill="#fad967" stroke="#000" stroke-width="0.9"/>
<path d="M513.9,525L516,522.2L513.1,518.8L504.6,518.2L502.3,519.4L503.5,521.3L505.5,525L506.3,526.2Z" fill="#f7ab05" stroke="#000" stroke-width="0.9"/>
<path d="M513.9,525L506.3,526.2L507.6,528.2L509.5,530L511.8,531.3L515,531L516.1,530.7Z" fill="#f7ab05" stroke="#000" stroke-width="0.9"/>
<path d="M510.6,508.6L497.3,509.5L497.5,510L499.3,514.4L501.5,518L502.3,519.4L504.6,518.2L511.2,510.6Z" fill="#fcfad0" stroke="#000" stroke-width="0.9"/>
<path d="M520.4,513L523.4,510.3L522.2,508.1L511.8,503.6L510.6,508.6L511.2,510.6L514.1,512.8Z" fill="#fad967" stroke="#000" stroke-width="0.9"/>
<path d="M493.1,493L495,492.3L497.9,496.4L502.5,499.5L507.6,502L511,501.5L514.5,500.6L521.4,499.2L528.3,497.1L531,496.3L533.2,497.8L533.6,502L533.2,507.5L532.5,512L531.8,515.8L530.5,519L529,521.3L529.7,525.4L527,527.5L524.2,528.5L518.7,530L515,531L511.8,531.3L509.5,530L507.6,528.2L505.5,525L503.5,521.3L501.5,518L499.3,514.4L497.5,510L495.9,506.1L494.3,502L493.1,497.8Z" fill="none" stroke="#000" stroke-width="1.1"/>
<rect x="337.7" y="187.7" width="1.6" height="1.6" fill="#000"/>
<rect x="340.2" y="196.7" width="1.6" height="1.6" fill="#000"/>
<rect x="341.7" y="198.7" width="1.6" height="1.6" fill="#000"/>
<rect x="344.2" y="202.2" width="1.6" height="1.6" fill="#000"/>
<rect x="351.7" y="199.7" width="1.6" height="1.6" fill="#000"/>
<rect x="353.2" y="201.2" width="1.6" height="1.6" fill="#000"/>
<rect x="340.2" y="208.7" width="1.6" height="1.6" fill="#000"/>
<rect x="377.7" y="237.2" width="1.6" height="1.6" fill="#000"/>
<rect x="365.7" y="291.2" width="1.6" height="1.6" fill="#000"/>
<rect x="373.7" y="285.7" width="1.6" height="1.6" fill="#000"/>
<rect x="374.2" y="287.7" width="1.6" height="1.6" fill="#000"/>
<rect x="378.2" y="300.7" width="1.6" height="1.6" fill="#000"/>
<rect x="384.2" y="352.2" width="1.6" height="1.6" fill="#000"/>
<rect x="407.2" y="370.2" width="1.6" height="1.6" fill="#000"/>
<rect x="345.5" y="281.2" width="1.6" height="1.6" fill="#000"/>
<rect x="363.2" y="272.2" width="1.6" height="1.6" fill="#000"/>
<rect x="367.7" y="272.7" width="1.6" height="1.6" fill="#000"/>
<rect x="385.7" y="276.7" width="1.6" height="1.6" fill="#000"/>
<rect x="387.7" y="275.2" width="1.6" height="1.6" fill="#000"/>
<rect x="399.7" y="169.7" width="1.6" height="1.6" fill="#000"/>
<rect x="400.2" y="192.2" width="1.6" height="1.6" fill="#000"/>
<rect x="457.9" y="388" width="1.6" height="1.6" fill="#000"/>
<rect x="366.7" y="148.7" width="1.6" height="1.6" fill="#000"/>
<path d="M258.7,196.1h2.5v1h-2.5zM259.5,195.4h2.5v2.5h-2.5zM259.7,192.1h1v1h-1zM260.9,191.6h1v1.5h-1zM261.9,199.5h2.5v1.5h-2.5zM259.4,197.1h1.5v2h-1.5zM264,194.4h1v2.5h-1zM265.9,197.4h1v1h-1zM259.1,195.5h1v1h-1zM264.5,200.3h1v1.5h-1zM265.4,194.9h2.5v2.5h-2.5zM257.3,197.7h1.5v1.5h-1.5zM261.9,198.1h2v1h-2zM265.2,198.6h1v1h-1zM263.6,194.4h1v2.5h-1zM263,198.4h1.5v1h-1.5zM261.7,199.2h1v2.5h-1zM264.2,197.1h2.5v1h-2.5zM262.3,194.3h2v1.5h-2zM263.9,193.9h1v1h-1zM261.5,200.8h1v1h-1zM263.1,194.7h2v1h-2zM268.7,184.2h1v1h-1zM267.3,186.8h1v2.5h-1zM262.8,186.3h2.5v1.5h-2.5zM263,186.6h1v1.5h-1zM272,191.4h1v1h-1zM264.1,184.4h2.5v2h-2.5zM269.8,185.9h2v1h-2zM268.8,189.2h2.5v1h-2.5zM267.6,192.4h1.5v2h-1.5zM268,183.7h1.5v2h-1.5zM271.1,185h1.5v1.5h-1.5zM266.5,189.9h1v1h-1zM269.4,187.2h2v2.5h-2zM266.8,189.9h2v2.5h-2zM266.7,183.2h1v1.5h-1zM271.9,187.2h1v1h-1zM264,191.8h1v2.5h-1zM270.3,183.7h1.5v1.5h-1.5zM263.8,190.1h2.5v2.5h-2.5zM267,190.1h1v1h-1zM264.8,184.6h1.5v2.5h-1.5zM265.9,184h1.5v2.5h-1.5zM269.7,184.7h1v2.5h-1zM268.4,188.7h2v1h-2zM272.9,188.8h2v1h-2zM269.5,188h2v1.5h-2zM271.5,185.1h1.5v1h-1.5zM277.2,184.9h1.5v1h-1.5zM271.6,180.6h1v2h-1zM279.2,180.8h1v2h-1zM274.3,181.2h1v2.5h-1zM270.1,181h1v2h-1zM275.6,186.8h1v1h-1zM277.7,180.9h1.5v1h-1.5zM278.5,182.1h1v2h-1zM275.6,178.3h1.5v1.5h-1.5zM273.7,184.3h2v2h-2zM276.8,185.3h1.5v2.5h-1.5zM278.5,179.9h1.5v1h-1.5zM276.1,182.2h2v2.5h-2zM274,177.1h2.5v2.5h-2.5zM270.7,182.5h2.5v2.5h-2.5zM272.7,186.2h2.5v1.5h-2.5zM276.5,186.2h2v1h-2zM268.5,184.7h2v2.5h-2zM278.9,181.7h1.5v2h-1.5zM268.9,185.5h2v1h-2zM275,184.8h1v1.5h-1zM278.7,184.8h2v1h-2zM272.3,178.8h1v2h-1zM272.4,177.9h2.5v1.5h-2.5zM271.3,181.7h1v1.5h-1zM286,179.1h1.5v2.5h-1.5zM281.6,176.3h2.5v1h-2.5zM276.9,175.3h1v1h-1zM278.3,173.4h1v1.5h-1zM285.5,176.9h1.5v1h-1.5zM283.6,172.8h1v1h-1zM278,171.2h1.5v1h-1.5zM276.2,179.4h1v2.5h-1zM278.2,178.3h2.5v2.5h-2.5zM282.8,177h2.5v1.5h-2.5zM276.9,174.1h2.5v2h-2.5zM283.8,173.4h1v1h-1zM282.7,173.6h1v2.5h-1zM279.5,170.7h2.5v2h-2.5zM285,179.1h1v1.5h-1zM281.8,177.8h2v1h-2zM282.6,177.6h1v2.5h-1zM286.7,174.2h2.5v1.5h-2.5zM279.7,175.4h2.5v1h-2.5zM281.6,171.5h1.5v1.5h-1.5zM281.1,170.6h2v2h-2zM285.4,176.3h1.5v2.5h-1.5zM289.1,165.6h2.5v1.5h-2.5zM286.2,169.9h1v1.5h-1zM282.6,168.1h1v2.5h-1zM288.7,170.7h1v1h-1zM287.4,168h1v2h-1zM283.1,167.4h2v1h-2zM286,170.7h2.5v1.5h-2.5zM287.6,166.5h1.5v1.5h-1.5zM290.8,167.8h2.5v1h-2.5zM291,168.6h1v1h-1zM288,174h1v1.5h-1zM285.5,169h1v2h-1zM289.1,167.5h2v1h-2zM291.9,169.2h2v1h-2zM283.8,169.2h1v1h-1zM282.9,169.5h1v1h-1zM285.4,174.3h1v2h-1zM286.3,171.9h1v1h-1zM296.4,165.6h1.5v1h-1.5zM292.8,166.8h2v2.5h-2zM294.7,166.3h2v1h-2zM292.5,168.6h1v2h-1zM292.8,167.2h2.5v1h-2.5zM291.2,164.2h1v1h-1zM290,166h1.5v2h-1.5zM290.9,164.1h2v1h-2zM294.6,164.9h1.5v1h-1.5zM291.6,165.1h1.5v2h-1.5zM255,205h2v1.5h-2zM256.4,200.9h2v2h-2zM257.4,206.5h1v1h-1zM257.7,203.3h1v1.5h-1zM255.7,205.7h1v1h-1zM253.5,204.4h2v2.5h-2zM260.8,204h1.5v1.5h-1.5zM256.7,199.2h2.5v1h-2.5zM311.9,182.9h2v1.5h-2zM316.2,179.4h1v2.5h-1zM313.6,180.3h2.5v2.5h-2.5zM314.5,182.1h1v1h-1zM314.3,182.1h1v2h-1zM315.3,180.2h1v1h-1zM313,179.7h2v1.5h-2zM314.9,180.5h1v1.5h-1zM311.4,179.7h1v1h-1zM311.5,176.8h1v2.5h-1zM310.1,179.1h1v1h-1zM310.8,179.3h1.5v2.5h-1.5zM328.7,164.6h1v2.5h-1zM332.4,166.9h1.5v2.5h-1.5zM331.1,163.7h1.5v1.5h-1.5zM330.6,166h2.5v1h-2.5zM330.3,166.9h1.5v1h-1.5zM331.9,163.5h2.5v2h-2.5zM328.4,164.8h2v1h-2zM334.6,154.7h1v2.5h-1zM335.2,157.2h1v2h-1zM336.9,153.6h1v2h-1zM336.8,158.2h2.5v1.5h-2.5zM337.6,155h2.5v1h-2.5zM335.2,158h1v2.5h-1zM335.2,153.6h1v1.5h-1zM333.7,157.8h1.5v1.5h-1.5zM341.9,150.9h1v1h-1zM338.2,150.5h2v2.5h-2zM342.4,149.1h2v1h-2zM338.4,147.3h2.5v1.5h-2.5zM338,150h2v2.5h-2zM338.8,150.6h1.5v1h-1.5zM339.5,149.4h2v2.5h-2zM338.4,151.4h1v1h-1zM334.4,136.4h1v2h-1zM336.3,138h1.5v2h-1.5zM338.2,139.4h1v2.5h-1zM332.5,137.3h2.5v2.5h-2.5zM334.1,140h2v1h-2zM339.3,139.9h1.5v2.5h-1.5zM338.7,139.8h2v2.5h-2zM334.3,137h2v2.5h-2zM353.5,138.3h2v1.5h-2zM354.2,139.6h2.5v1.5h-2.5zM359.4,138.8h2.5v1.5h-2.5zM355.4,134.6h1v1h-1zM355.2,134.1h2v1.5h-2zM355.6,139.9h1v1h-1zM352,137.2h1v1h-1zM354.6,140.1h1.5v2h-1.5zM355.2,137.9h1v1.5h-1zM351.2,138.4h1.5v1.5h-1.5zM359.8,138.1h2.5v1h-2.5zM355.3,137.7h2.5v2h-2.5zM362.4,144.6h2v1h-2zM363.8,141.4h1.5v1.5h-1.5zM359.2,142.4h2.5v2h-2.5zM361.7,143.7h2.5v1h-2.5zM359.8,142.6h1v2.5h-1zM359.7,142.4h2v1h-2zM398.5,142.1h1v1h-1zM397.7,139.7h1.5v2.5h-1.5zM401.7,140.2h1v1h-1zM398.8,138h2.5v2.5h-2.5zM397.2,144h1v2h-1zM399.1,143.9h1v2h-1zM399.3,137.5h1.5v1h-1.5zM398.1,138.7h1.5v2h-1.5zM399.4,143h1v1.5h-1zM396.9,138h1v2.5h-1zM406.1,136.1h1v2h-1zM404.2,139.7h1.5v1h-1.5zM403.5,135.2h2.5v2.5h-2.5zM406,137.7h2.5v1h-2.5zM403,138.8h1v1.5h-1zM405.1,132.2h1v2.5h-1zM403.7,134.2h1.5v1h-1.5zM405.2,136.1h2v2h-2zM405.9,136.7h1v1h-1zM405.3,137.9h1.5v1h-1.5zM405.9,147.7h1v1h-1zM409.2,145.6h1v2h-1zM406.9,149.9h1.5v2.5h-1.5zM405.6,147.9h1.5v2h-1.5zM409.3,147.3h1v2.5h-1zM409.5,145.5h2.5v1.5h-2.5zM408.8,147.2h1.5v1h-1.5zM404.7,145.8h1.5v2.5h-1.5zM400.2,159.6h2.5v1h-2.5zM402.1,156.2h2v1h-2zM398.9,158h1.5v2.5h-1.5zM401.3,160.1h2.5v1.5h-2.5zM401.9,158.7h2.5v1h-2.5zM398.9,158.9h2v2h-2zM401.8,157.5h2.5v2.5h-2.5zM398.7,159.4h2v1h-2zM404.7,165.5h1v1h-1zM405.4,167.5h1v1.5h-1zM405.5,170.3h1.5v1h-1.5zM403,166.3h1v1.5h-1zM406,166.4h2.5v2h-2.5zM402.3,168.9h1.5v1h-1.5zM405.2,167.7h1v2.5h-1zM407.2,169.3h1v1h-1zM406.3,188.6h2.5v1h-2.5zM407.6,188.3h1.5v2.5h-1.5zM406.2,189.1h1.5v1h-1.5zM405.4,187.3h2v1h-2zM406.4,189.7h2v2h-2zM404.7,188.7h1v1h-1zM405.3,191.9h1.5v1.5h-1.5zM313.1,183.2h1v1.5h-1zM313.2,183.6h1v1h-1zM314.1,184.5h1.5v1h-1.5zM312.9,182.8h1.5v2h-1.5zM350.7,139.5h1v2h-1zM347.8,140.7h2v2.5h-2zM349.1,141.4h1v2h-1zM348.3,141.2h1.5v1h-1.5zM466.2,120.1h1v1h-1zM467.7,126.2h2.5v1h-2.5zM471.5,121.8h1v2.5h-1zM466.1,119.8h2.5v1h-2.5zM465.5,123.7h1v1.5h-1zM467.9,118.5h2.5v1h-2.5zM466.5,117.1h1v1.5h-1zM469.7,125.3h1v1.5h-1zM468.4,118.4h2v2.5h-2zM471,122.4h2v2h-2zM467.4,119.7h1v1.5h-1zM466.5,126.3h2.5v1h-2.5zM470.6,115.4h1.5v2h-1.5zM469,114.7h2.5v1.5h-2.5zM469.1,114.1h1.5v2.5h-1.5zM469.6,115.5h2v2h-2zM468.9,111.4h2.5v1h-2.5zM466.8,111h1v1h-1zM473.4,117.1h1v1h-1zM471.5,117.1h2.5v1h-2.5zM470.7,115.8h2.5v1h-2.5zM474.8,117.3h1.5v2.5h-1.5zM474.7,113.5h1v1.5h-1zM480.8,117.6h1v1h-1zM478.7,116.7h1v1h-1zM481.2,117.9h1v1h-1zM464.9,148.1h1.5v2.5h-1.5zM463.2,146.8h1.5v1h-1.5zM463.8,148h2v1h-2zM463.4,148.1h2v1.5h-2zM463.6,148.2h1.5v1h-1.5zM475.1,156.1h1.5v1h-1.5zM476,155.6h1v1h-1zM478.4,155.3h1v1h-1zM475.1,156.6h1v2.5h-1zM475.7,156.7h1v1.5h-1zM437.7,201.4h1v1h-1zM436.2,200h1v2.5h-1zM438.1,197.8h2.5v1.5h-2.5zM434.4,198.1h1.5v2.5h-1.5zM433.4,198h2v2h-2zM434.9,196.8h1v2h-1zM437,196.7h2v1h-2zM437.9,203.9h1v2.5h-1zM438,203h2v1.5h-2zM439.3,201.6h1.5v2.5h-1.5zM438.6,202.4h2.5v1.5h-2.5zM502.6,188.5h1v1h-1zM504.8,190.4h1.5v2h-1.5zM503.8,189.1h1.5v1h-1.5zM503.9,188.7h1v2h-1zM503.6,190.1h2v2h-2zM508.9,211.2h2v2.5h-2zM508.7,213.4h1v1h-1zM507.1,211.8h1.5v1h-1.5zM506.5,212.4h2.5v1h-2.5zM507.3,211.4h1v2.5h-1zM508,212.7h1v1h-1zM511.8,223.4h2.5v2h-2.5zM514,224.8h1v1.5h-1zM514.9,223.7h1v1.5h-1zM512.8,224.6h1v2h-1zM511.7,223.5h1.5v2h-1.5zM538.4,247.6h1v1h-1zM539.7,249.5h1.5v1.5h-1.5zM541.7,246.8h2.5v2.5h-2.5zM543.4,247.9h2v1.5h-2zM542.2,248.1h2.5v1.5h-2.5zM539,246.3h2v1h-2zM542.8,246.9h1v2h-1zM547.8,253.1h2.5v1h-2.5zM547.1,253.1h2.5v2h-2.5zM546,254.8h2.5v1.5h-2.5zM547.1,253.3h2v2.5h-2zM545.9,253.7h1v2.5h-1zM549.7,262.6h2v1.5h-2zM549.7,261.7h1v1h-1zM549.6,262.2h1v1.5h-1zM547.7,261.3h1v1h-1zM547.8,262.6h2v2.5h-2zM551.9,268.1h1v1.5h-1zM553.4,263.7h1v2.5h-1zM551.9,264.7h1.5v1.5h-1.5zM554.1,264.6h2.5v2.5h-2.5zM550.3,267.1h1v1h-1zM553.4,264h1v1h-1zM557.6,271.7h1v1h-1zM558.8,270.8h2.5v1h-2.5zM558.5,272.6h1.5v1h-1.5zM557.7,272.1h2.5v1h-2.5zM556.3,272.8h1.5v2.5h-1.5zM565.9,283.6h1.5v1h-1.5zM566,282.6h2v1h-2zM563.2,284.8h2v2.5h-2zM566.3,283.5h2.5v1h-2.5zM564.3,283.8h1v1h-1zM589.8,306.5h1v1h-1zM588.9,307.7h1.5v2h-1.5zM590.8,306.3h1.5v2.5h-1.5zM589.9,305.7h2.5v2h-2.5zM587.4,305.4h1v2.5h-1zM590.6,306.9h1v2.5h-1zM588.6,326.9h1.5v1.5h-1.5zM590.7,329.5h1v1.5h-1zM587.8,327.2h1v1h-1zM590.2,328.2h2.5v1h-2.5zM589.8,327.2h1v1h-1zM588.9,327.1h1v2.5h-1zM590.7,327.3h1v1.5h-1zM590,325.9h1v2h-1zM589.1,328.1h1v2h-1zM588.5,326.5h1v1h-1zM590.6,326.7h2.5v1h-2.5zM589.5,328.4h1v2h-1zM588.7,329.9h1v1h-1zM588.8,329.8h2.5v1h-2.5zM591.1,327.9h1v2.5h-1zM589.8,328.3h2.5v1h-2.5zM591.5,337h2v2h-2zM588.6,337.7h1v2.5h-1zM589.7,338.1h2.5v1h-2.5zM589.6,338.8h1.5v2h-1.5zM591.4,336.4h1.5v1h-1.5zM591.3,339.4h1v2h-1zM590.9,336.1h2v1h-2zM591.6,338.5h1.5v1h-1.5zM591.8,339.1h1v1.5h-1zM589.2,336.7h1.5v1.5h-1.5zM589.6,319.1h1v1.5h-1zM587.7,319.3h1v1h-1zM588.4,318.8h2.5v1h-2.5zM587.8,319h1v1h-1zM588.5,318.9h2v2.5h-2zM588.9,319.7h2.5v1h-2.5zM171.6,260.7h2v2.5h-2zM170.6,259.4h1v1h-1zM171.1,259.8h1v2h-1zM173.7,261.4h1v1h-1zM172.4,260.9h1v1.5h-1zM174.5,260.8h1v2h-1zM186,254.3h1v1.5h-1zM182.8,254.8h2v1h-2zM185.2,254.6h1.5v1h-1.5zM182.3,256.6h1v1h-1zM180.6,255.3h1v2.5h-1zM182.4,251.9h2.5v1h-2.5zM193,251.6h1.5v2h-1.5zM192.8,248.2h1v1.5h-1zM196.6,247.7h1v1h-1zM196.8,252.4h1v1h-1zM193.1,250.6h2v2.5h-2zM161.4,266.1h1v1.5h-1zM161.1,266.8h1v2.5h-1zM160.9,266.3h1v2h-1zM158.3,265.5h2v1h-2zM149.3,307.3h1v2.5h-1zM146.3,306.7h1v2h-1zM147,305.4h1v1h-1zM148.4,305.7h1v2h-1zM147.1,308.4h2v1h-2zM146.5,303.7h2.5v1h-2.5zM148.9,305.7h2.5v1h-2.5zM148.9,304.1h1.5v1h-1.5zM146.8,304.2h1v2.5h-1zM150.8,305.6h1.5v1.5h-1.5zM148.1,310.7h1v1h-1zM147,311.4h2v1.5h-2zM148,313.5h2.5v1.5h-2.5zM148.4,310.7h1.5v1h-1.5zM145.4,312.6h1v1h-1zM145.4,314.8h2.5v2.5h-2.5zM148.3,313.9h1v2h-1zM145.1,313h1.5v2.5h-1.5zM149.9,313.3h1v1h-1zM152,316.5h2.5v2.5h-2.5zM149.8,316.9h1v1h-1zM149.6,318.7h2.5v1h-2.5zM150.4,316.7h1v2h-1zM151.7,317.1h1v2h-1zM152.7,318.5h2.5v2.5h-2.5zM172.5,248.8h2v1.5h-2zM172.4,251.2h1v1h-1zM172.6,249.8h1v2h-1zM154.8,334h2v1h-2zM154.9,334.6h2.5v1.5h-2.5zM155.9,333.6h2v1h-2zM155,346.8h2v1h-2zM154,344.7h1.5v1h-1.5zM153,345.1h1.5v2.5h-1.5zM246.5,414.3h2v1.5h-2zM246,413.3h1v2.5h-1zM245.9,413.8h1v2h-1zM245.2,414.4h2v2h-2zM261.7,411.5h1v1h-1zM262.2,413.4h1v1h-1zM261.3,413.9h2v1h-2zM262.5,412.3h1v1h-1zM254.3,415.3h2v2h-2zM254.7,414.4h1v1h-1zM252.4,415.2h1v2h-1zM376.2,394.5h2v1h-2zM374.2,395h2.5v1h-2.5zM375.1,394.5h1v2h-1zM374.8,397.9h1v2h-1zM373.8,394.7h1v2.5h-1zM393.7,424.4h2.5v2.5h-2.5zM391.7,420.5h1v1h-1zM395,422.8h1v2.5h-1zM394.8,421.9h1v1.5h-1zM391.9,423h1v1h-1zM395.3,422.2h2.5v1h-2.5zM391.7,422.2h1.5v2.5h-1.5zM397.8,424.2h1v2h-1zM399.7,423.9h1.5v2.5h-1.5zM398.9,424.6h2v2h-2zM397.2,424.2h1.5v1h-1.5zM397.6,425.6h1.5v2h-1.5zM382.9,403.4h1v2h-1zM383.9,404.5h2.5v1h-2.5zM384.9,404.8h2.5v2h-2.5zM416.4,429.5h2.5v1h-2.5zM415.1,430.6h1.5v1h-1.5zM415,432.5h2v1h-2zM416.9,431.3h1.5v2h-1.5zM416.8,430.3h2v2.5h-2zM420.4,432.2h1v2h-1zM420.3,432.6h1v2.5h-1zM420.9,432.2h2.5v2.5h-2.5zM421.6,430.9h1v1h-1zM420.9,432.8h1v2.5h-1zM426,423h2v2.5h-2zM424.7,423.5h1.5v1h-1.5zM428.3,425.5h1.5v2h-1.5zM426.5,425.3h2v1h-2zM425.6,426.4h1v1h-1zM426.5,426.5h1.5v1h-1.5zM426.6,426.4h2v2.5h-2zM426.9,424.3h1v1h-1zM425.5,423.7h2v2h-2zM426.8,426.2h1v1h-1zM427.7,426.1h2v2h-2zM425.3,423.9h1v2h-1zM427.8,424.1h1v1h-1zM426.4,426.4h1v1h-1zM563.5,408.6h2.5v1.5h-2.5zM561.9,411.7h1v1h-1zM561.2,408.5h1v2h-1zM562.9,410.3h1.5v2.5h-1.5zM565,411.2h1.5v2h-1.5zM566.2,409.7h2v1h-2zM564.2,409.8h1.5v1h-1.5zM563.2,406.9h2.5v2h-2.5zM565.3,408.2h2v1h-2zM561.4,408.1h2v1.5h-2zM563,407.9h2v1h-2zM564.4,408.9h1.5v1h-1.5zM564.8,411.4h1v1.5h-1zM563.9,411.2h1v1.5h-1zM565.7,410.2h2v1h-2zM564.2,410.8h2v2.5h-2zM564.8,407.1h1.5v2.5h-1.5zM561.5,409.9h1v1.5h-1zM561.3,407.7h1.5v1h-1.5zM566.1,408.2h2.5v2.5h-2.5zM561.7,408.2h1v2.5h-1zM561.1,411.5h1v1h-1zM563.7,412.3h1v2h-1zM564.8,412.6h1.5v1.5h-1.5zM563.9,410.5h1v1h-1zM564.9,407.2h2.5v2h-2.5zM564,413h2v1h-2zM561.4,411.6h2v1h-2zM562.5,411.9h2.5v2.5h-2.5zM562.6,410.2h1v1h-1zM561.5,408.8h1v2.5h-1zM560.7,409.8h1v2h-1zM561.5,410.4h1v1.5h-1zM564.2,410.6h2v1h-2zM561.9,416h1.5v1h-1.5zM562.8,417.2h2.5v1.5h-2.5zM563.3,415.6h1v2h-1zM562.5,415.2h2.5v1h-2.5zM561.5,413.8h1v2h-1zM563.5,414.6h1v1h-1zM559.9,416.9h2.5v1h-2.5zM560.5,417.1h1v1h-1zM559.7,414.4h1v1.5h-1zM562.2,415.5h1v1.5h-1zM563.3,415.6h1v1h-1zM560.4,417.1h2v2h-2zM561.8,414.6h2v1h-2zM560.5,414.3h2v2.5h-2zM564.9,405.5h1v1h-1zM565.5,403h2v2.5h-2zM565.1,405.8h1.5v2h-1.5zM565.9,403.7h2v2.5h-2zM568.3,405.3h2v1.5h-2zM565.8,404.1h1.5v2h-1.5zM567.5,406h1v2h-1zM567.4,406h1v2h-1zM566,406.1h1v2h-1zM564.8,404.5h1v2h-1zM573.4,397.9h1.5v1h-1.5zM573.3,397.5h2v1.5h-2zM572.8,398.5h1v1h-1zM571.3,399.2h2.5v1h-2.5zM570.1,399.7h2v1.5h-2zM560.4,421.9h2.5v1.5h-2.5zM559.6,422.1h2.5v2.5h-2.5zM558.4,420.6h1.5v2.5h-1.5zM558.4,421.1h1v2.5h-1zM502.9,471.2h2.5v2.5h-2.5zM501.2,474.1h1.5v2.5h-1.5zM503.8,471.4h2v2h-2zM501.9,474.6h1v1h-1zM505.1,469.9h2v1.5h-2zM500.8,471.3h1.5v2.5h-1.5zM505.4,473.5h1v1h-1zM500.7,473.6h2v1h-2zM504.5,473.9h2v2h-2zM503.4,474.5h1.5v1h-1.5zM511,474.2h2.5v1h-2.5zM508.7,474.4h1v1h-1zM511,473.3h2.5v1h-2.5zM511.5,473.5h2v2.5h-2zM508.5,474.5h2.5v1h-2.5zM498.7,466.2h1v2.5h-1zM496.4,468.3h2.5v2h-2.5zM497.7,465.4h1v2.5h-1zM496.8,466.5h1v2h-1zM499.2,467.4h2.5v2h-2.5zM497.7,467.3h2.5v1h-2.5zM496.4,464.8h2.5v2.5h-2.5zM497.2,467.2h1v2h-1zM498.6,464.7h1.5v1.5h-1.5zM497.3,468.5h1v2.5h-1zM497.9,468.5h1v2h-1zM499,466.5h1v1h-1zM498.4,466.8h1.5v2h-1.5zM497.2,468.8h2.5v1h-2.5zM522.6,527.7h1v2h-1zM520.6,530.1h1.5v1h-1.5zM521.7,530.6h1v2.5h-1zM524.5,528.2h2.5v1h-2.5zM524.1,527.6h1.5v2.5h-1.5zM521,528.4h1v1h-1zM520.9,530.4h2v1h-2zM523.9,528.9h2.5v2h-2.5zM524.3,531.4h1v2h-1zM523.4,529.9h1v2h-1zM522.5,529.7h2v1h-2zM523.8,531.7h1v2h-1zM520.4,528.7h1v2h-1zM521.5,528.9h2.5v1h-2.5zM521.2,527.2h2.5v1h-2.5zM520.5,529.2h2.5v1.5h-2.5zM524.1,531.9h1v2.5h-1zM518.8,529.6h2v2h-2zM519.7,528.3h1v2h-1zM524.8,529.3h2.5v1h-2.5zM524.9,530.6h1.5v2h-1.5zM520.1,528.4h2v2.5h-2zM528.8,525.2h2.5v1h-2.5zM529.7,525h1.5v2h-1.5zM527.6,525.7h1v1h-1zM528.5,525.6h1v1.5h-1zM526.7,526.5h1v2.5h-1zM527.2,524.7h1.5v1h-1.5zM529.6,525.3h1v1h-1zM529,524.5h1v2.5h-1zM511.7,534h2.5v1h-2.5zM513.3,532.1h1v1h-1zM514.2,533.4h2v2h-2zM511.2,533.4h1v1.5h-1zM530,486.8h2v1h-2zM530.4,486.6h1v1h-1zM531.5,487.4h1.5v2h-1.5zM518.9,476.5h2.5v1.5h-2.5zM519.5,475.9h2v1h-2zM524,479.6h1.5v1h-1.5zM524.5,478.1h2.5v1h-2.5zM176.6,389.4h1v1.5h-1zM176.3,389.3h2.5v2.5h-2.5zM174.5,391.1h1.5v2.5h-1.5zM177,389.4h2.5v1.5h-2.5zM175.8,388.2h1v2.5h-1zM176.8,392.4h2v2h-2zM174.4,388.6h2v1h-2zM174.9,390.4h1.5v2.5h-1.5zM175.5,390.9h2.5v2.5h-2.5zM174.6,392.1h2.5v1.5h-2.5zM174.7,388.1h1v1.5h-1zM178.2,389.2h2.5v2.5h-2.5zM175.1,389.8h1.5v1h-1.5zM177.2,391.5h2v2.5h-2zM174.4,389.4h1.5v1h-1.5zM175.2,390.8h1v1.5h-1zM173.6,390.6h1v1h-1zM176.4,389.6h1v1h-1zM174.8,395.7h2.5v1h-2.5zM174.1,398.2h1v2.5h-1zM175,397.6h2.5v2h-2.5zM174.1,396.2h2.5v1h-2.5zM174.2,398.4h1v2.5h-1zM174.4,398.8h1.5v1.5h-1.5zM174,397.1h2.5v1h-2.5zM169.3,413h1v1.5h-1zM167.2,412.1h2v1h-2zM169.1,411h2v1.5h-2zM170.7,412.9h1.5v1h-1.5z" fill="#000"/>
<clipPath id="c_perth"><rect x="42.2888" y="356.797" width="106.667" height="136.406"/></clipPath>
<rect x="42.2888" y="356.797" width="106.667" height="136.406" fill="#fff"/>
<g clip-path="url(#c_perth)">
<path d="M68.1,364.7L69.3,372L73,379.4L76.7,386.8L80.4,394.2L84.1,401.5L87.8,409.4L91.4,418.7L94.4,424.9L95.1,428.6L93.4,435.9L91.4,443.3L90,449.5L88.5,455.6L89,463L89,472.8L88.5,480.2L87.8,485.1L86,490L84,493.2L149,493.2L149,356.8L67.1,356.8Z" fill="#fcfad0"/>
<path d="M94.5,431.3L94.3,432.3L96.8,433.4L97.5,433L97.4,432.5L96.2,431.3Z" fill="#f7ab05" stroke="#000" stroke-width="0.9"/>
<path d="M98.6,427.3L98.6,427.5L99.5,430L100.7,430L102,427.7L101.4,426.8Z" fill="#f7ab05" stroke="#000" stroke-width="0.9"/>
<path d="M123.4,407.7L124.7,406.5L124.6,406.5L124.6,406.5L124.6,406.5L124.6,406.5L124.6,406.5L124.6,406.5L124.6,406.5L124.6,406.5L124.6,406.5L124.6,406.5L124.6,406.5L124.6,406.5L124.6,406.5L124.6,406.5L124.6,406.4L124.6,406.4L124.6,406.4L123.9,397.1L123.9,397.1L123.4,388.7L114.1,389.7L118.2,397.7L119.7,397.8L119.7,397.8L119.7,397.8L119.7,397.8L119.7,397.8L119.7,397.8L119.7,397.8L119.7,397.8L119.7,397.8L119.7,397.8L119.7,397.8L119.7,397.8L119.7,397.8L121,402.8L121.1,403.3Z" fill="#fcfad0" stroke="#000" stroke-width="0.9"/>
<path d="M105.4,409.3L103.8,412.6L103.7,412.6L103.7,412.6L103.7,412.6L103.7,412.6L103.7,412.6L103.7,412.6L103.7,412.6L103.7,412.6L103.7,412.6L103.7,412.6L103.7,412.6L96.4,412.6L96.4,412.6L96.4,412.6L96.4,412.6L96.4,412.6L96.4,412.6L96.3,412.6L96.3,412.6L96.3,412.6L96.3,412.6L96.3,412.6L96.3,412.6L96.3,412.6L96.3,412.6L96.3,412.6L96.3,412.6L96.3,412.6L96.3,412.6L96.3,412.6L96.3,412.6L96.3,412.6L96.3,412.6L96.3,412.6L96.3,412.6L96.3,412.6L99.3,409.4L99.3,409.4L102.4,406.5L95.1,407L95.1,407L88.1,406.5L93.4,407.4L93.4,407.4L93.4,407.4L93.4,407.4L93.4,407.4L93.4,407.4L93.4,407.4L93.4,407.4L93.4,407.4L93.4,407.4L93.4,407.4L93.4,407.4L93.4,407.4L94.9,413.8L94.9,413.8L95.5,416.9L96.5,417L96.3,413.8L96.3,413.8L96.3,413.8L96.3,413.8L96.3,413.8L96.3,413.8L96.3,413.8L96.3,413.8L96.3,413.8L96.3,413.8L96.3,413.8L96.3,413.8L96.4,413.8L96.4,413.8L96.4,413.8L96.4,413.8L96.4,413.8L104.2,413.5ZM78.2,389.8L80.2,393.9L78.5,389.9ZM91.6,416.4L90.2,413.3L90.2,413.3L87.7,406.5L84.1,401.6L87.8,409.4L90.5,416.3Z" fill="#fad967" stroke="#000" stroke-width="0.9"/>
<path d="M113.5,372.2L98,369.9L98.1,372L98.8,386.3L98.8,386.3L98.8,386.3L102.5,386.8L102.5,386.8L102.5,386.8L102.5,386.8L102.5,386.8L102.5,386.8L102.5,386.8L102.5,386.8L102.5,386.8L102.5,386.8L102.5,386.8L102.5,386.8L102.5,386.8L103.7,391.7L107.2,391.7L111.8,388.9ZM68.2,365.5L69.2,371.2L68.4,365.6ZM78.5,389.9L76.7,385.6L69.6,372.5L73,379.4L76.7,386.8L78.2,389.8Z" fill="#fcfad0" stroke="#000" stroke-width="0.9"/>
<path d="M94.9,437.5L96.8,433.4L94.3,432.3L93.4,435.9L93.1,437Z" fill="#fad967" stroke="#000" stroke-width="0.9"/>
<path d="M97.2,424.5L97.4,423.9L97.3,422.7L96.9,422.7L96.8,422.7L96.8,422.7L96.8,422.7L96.8,422.7L96.8,422.7L96.8,422.7L96.8,422.7L96.8,422.7L96.8,422.7L96.8,422.7L96.8,422.7L96.8,422.7L96.8,422.7L96.8,422.7L96.8,422.7L96.8,422.2L93.3,422.6L94.4,424.9L94.4,425Z" fill="#fad967" stroke="#000" stroke-width="0.9"/>
<path d="M97.4,432.5L97.5,433L99.5,433.5L99.2,430.3L97.9,430.5Z" fill="#fad967" stroke="#000" stroke-width="0.9"/>
<path d="M116.1,371.2L113.5,372.2L111.8,388.9L114.1,389.7L123.4,388.7L123.4,388L123.4,388L123.4,388L123.4,388L123.4,388L123.4,388L123.4,388L123.4,388L123.4,388L123.4,388L123.4,388L123.4,388L123.4,388L123.4,388L123.4,388L123.4,388L130.2,387.2L116.3,371.3Z" fill="#fcfad0" stroke="#000" stroke-width="0.9"/>
<path d="M102.2,422.9L97.3,422.7L97.4,423.9L101.8,425L102.2,424.5Z" fill="#f7ab05" stroke="#000" stroke-width="0.9"/>
<path d="M96.2,431.3L97.4,432.5L97.9,430.5L97,429.9Z" fill="#fad967" stroke="#000" stroke-width="0.9"/>
<path d="M131.3,366.5L149,378.8L149,356.8L131.6,356.8Z" fill="#fcfad0" stroke="#000" stroke-width="0.9"/>
<path d="M113.5,372.2L116.1,371.2L117,356.8L97.7,356.8L98,369.9ZM68.4,365.6L67.1,356.8L67.1,356.8L67.1,356.8L67.1,356.8L68.1,364.7L68.2,365.5Z" fill="#fcfad0" stroke="#000" stroke-width="0.9"/>
<path d="M104.4,448.9L102.5,449L102.7,449.3L104.4,449.3ZM94.9,437.5L96.3,439.6L96.3,439.6L96.3,439.6L96.3,439.6L96.3,439.6L96.3,439.6L96.3,439.6L96.3,439.6L96.4,439.6L96.4,439.6L96.4,439.6L103.7,437.9L98.8,436.4L98.8,436.4L98.8,436.4L98.8,436.4L98.8,436.4L98.8,436.4L98.8,436.4L98.8,436.4L98.8,436.4L98.8,436.4L98.8,436.4L98.8,436.4L98.8,436.4L98.8,436.4L98.8,436.4L98.8,436.4L98.8,436.4L99,435.8Z" fill="#f7ab05" stroke="#000" stroke-width="0.9"/>
<path d="M122.1,468.7L122.1,468.1L122.1,468.4ZM122.9,470.8L126.7,467L122.8,470.4ZM131,493.2L140.5,493.2L139.4,478.9L139.4,478.9L139.4,478.9L139.4,478.9L139.4,478.9L139.4,478.9L139.4,478.9L139.4,478.9L139.4,478.9L139.4,478.9L139.4,478.9L139.4,478.9L139.4,478.9L139.4,478.9L139.4,478.9L139.4,478.9L139.4,478.9L148.6,477.7L138.1,477.7L127.1,480.9L127.1,480.9L126.6,481.1ZM135.5,468.4L135.7,469.1L138.1,477.3L136.5,468.6Z" fill="#fad967" stroke="#000" stroke-width="0.9"/>
<path d="M102.2,424.5L105.7,425.5L109.5,422.5L102.8,422.9L102.7,422.9L102.2,422.9Z" fill="#f7ab05" stroke="#000" stroke-width="0.9"/>
<path d="M95.8,427.8L97.8,426.4L97.2,424.9L94.8,426.8L95,427.7Z" fill="#fad967" stroke="#000" stroke-width="0.9"/>
<path d="M149,437.5L149,413.1L146.5,412.3L135.5,418.3L135.7,418.7L140.6,423.6L140.6,423.6L140.6,423.6L140.6,423.6L143.1,428.6L143.1,428.6L143.1,428.6L143.1,428.6L143.1,428.6L143.1,428.6L143.1,428.6L143.1,428.6L143.1,428.6L143.1,428.6L143.1,428.6L143.1,428.6L143.1,428.6L143.1,428.6L143.1,428.6L143.8,434.7L143.8,434.7L144,437.6ZM129.1,432L141.8,428.9L129.5,431.5L129,431.7ZM133.6,419.3L135.3,418.8L134.1,419.1Z" fill="#fcfad0" stroke="#000" stroke-width="0.9"/>
<path d="M114.1,389.7L111.8,388.9L107.2,391.7L108.6,391.7L108.7,391.7L108.7,391.7L108.7,391.7L108.7,391.7L108.7,391.7L108.7,391.7L108.7,391.7L108.7,391.7L108.7,391.7L108.7,391.7L108.7,391.7L108.7,391.7L108.7,391.7L108.7,391.7L108.7,391.7L108.9,396.6L108.9,396.6L108.9,397.1L108.9,397.1L108.9,397.1L114.8,397.3L114.8,397.3L118.2,397.7ZM123.4,407.7L121.1,403.3L122.2,407.7L123.3,407.8ZM108.2,406.7L108.6,404L108.8,398.9L108.7,402L108.7,402L108.7,402L108.7,402L108.7,402L106.7,406.6Z" fill="#fcfad0" stroke="#000" stroke-width="0.9"/>
<path d="M129,431.7L117.1,434.5L128.3,432.2L129.1,432ZM113.5,436.7L113.5,435.2L113.5,435.2L113.5,435.2L113.5,435.2L113.5,435.2L113.5,435.2L113.5,435.2L113.5,435.2L113.5,435.2L113.6,435.2L113.6,435.2L113.6,435.2L113.6,435.2L113.6,435.2L113.6,435.2L116,434.7L114.9,427.2L114.8,427.3L114.8,427.3L114.8,427.4L114.8,427.4L111.3,429.7L110.1,434.6L110.5,435.9Z" fill="#fcfad0" stroke="#000" stroke-width="0.9"/>
<path d="M149,381.8L149,378.8L131.3,366.5L116.3,371.3L130.2,387.2L134.5,386.8L134.5,386.8L134.5,386.8L134.5,386.8L134.5,386.8L134.5,386.8L134.5,386.8L134.5,386.8L134.5,386.8L134.5,386.8L134.5,386.8L134.5,386.8L134.5,386.8L134.5,386.8L134.5,386.8L134.5,386.8L134.5,386.8L134.6,388.4L144.3,385Z" fill="#fcfad0" stroke="#000" stroke-width="0.9"/>
<path d="M96.8,429.4L96.7,429.4L94.9,429.7L94.5,431.3L96.2,431.3L97,429.9Z" fill="#fcfad0" stroke="#000" stroke-width="0.9"/>
<path d="M106.4,477.4L106.4,477.8L107.4,477.2L114.8,472.8L114.8,472.8L114.8,472.8L114.8,472.8L114.8,472.8L114.8,472.8L114.8,472.8L114.8,472.8L114.8,472.8L114.8,472.8L114.8,472.8L114.8,472.8L114.8,472.8L114.8,472.8L114.8,472.8L114.8,472.8L114.8,472.8L114.8,472.8L114.8,472.8L114.8,472.8L114.8,472.8L116,483.7L116.5,477.7L116.5,477.7L116.5,477.7L116.5,477.7L116.5,477.7L116.5,477.7L116.5,477.7L116.5,477.7L120.9,472.8L114.8,471.8L114.8,471.8L112.6,471.3ZM98.8,485L98.8,485.1L100.1,488.8L100.1,488.8L101.1,492.4L100.2,483.6ZM126.6,481.1L116,483.9L113.7,493.2L131,493.2ZM122.8,470.4L122.2,470.9L122.2,470.9L122.2,470.9L122.2,470.9L122.2,470.9L122.2,470.9L122.2,470.9L122.2,470.9L122.2,470.9L122.2,470.9L122.2,470.9L122.2,470.9L122.2,470.9L122.2,470.9L122.2,470.9L122.2,470.9L122.2,470.8L122.1,470.8L122.1,470.8L122.1,470.8L122.1,470.8L122.1,470.8L122.1,470.8L122.1,470.8L122.1,468.7L122.1,468.4L121,472.7L122.9,470.8ZM101.2,493L99.4,493.2L101.2,493.2Z" fill="#fcfad0" stroke="#000" stroke-width="0.9"/>
<path d="M102.2,424.5L101.8,425L101.4,426.8L102,427.7L104,428.5L106,426.8L105,426.1L104.9,426.1L104.9,426.1L104.9,426.1L104.9,426.1L104.9,426.1L104.9,426.1L104.9,426.1L104.9,426.1L104.9,426.1L104.9,426.1L104.9,426.1L104.9,426.1L104.9,426.1L104.9,426.1L104.9,426.1L104.9,426.1L104.9,426.1L104.9,426.1L104.9,426.1L104.9,426.1L105.7,425.5Z" fill="#fad967" stroke="#000" stroke-width="0.9"/>
<path d="M99.5,433.5L97.5,433L96.8,433.4L94.9,437.5L94.9,437.5L99,435.8L99.6,433.6Z" fill="#f7ab05" stroke="#000" stroke-width="0.9"/>
<path d="M100.7,430L99.5,430L99.2,430.3L99.5,433.5L99.6,433.6L100,432.2L100,432.2L100,432.2L100,432.2L100,432.2L100,432.2L100,432.2L100,432.2L100,432.2L100,432.2L100,432.2L100,432.2L100,432.2L100,432.2L100,432.2L100,432.2L102.8,432.7Z" fill="#fad967" stroke="#000" stroke-width="0.9"/>
<path d="M104.2,413.5L109.4,413.3L107.4,411.4L107.4,411.4L107.4,411.4L107.4,411.4L107.4,411.4L107.4,411.4L107.4,411.4L107.4,411.4L107.4,411.4L107.4,411.4L107.4,411.4L108.2,406.7L106.7,406.6L106.2,407.7L106.2,407.7L105.4,409.3ZM126.1,420.5L120.9,421.2L118.2,423.1L118.5,423.1L118.5,423.1L118.5,423.1L118.5,423.1L118.5,423.1L118.5,423.1L118.5,423.1L118.5,423.1L118.5,423.1L118.5,423.1L118.5,423.1L118.5,423.2L118.5,423.2L118.5,423.2L118.5,423.2L118.5,423.2L118.5,423.2L118.5,423.2L118.5,423.2L118.5,423.2L118.5,423.2L118.5,423.2L116.8,425.1L120.9,423.1L120.9,423.1L120.9,423.1L126.4,421.5ZM110.1,418.7L109.9,422.1L111.1,421.2L111.1,421.2L111.1,421.2L111.1,421.2L111.1,421.2L111.1,421.2L111.1,421.2L111.1,421.2L111.1,421.2L111.1,421.2L111.1,421.2L113.5,421.8L113.5,416.3L110.1,414.1L110.1,414.1L110.1,414.1L109.9,413.9L110.1,418.7Z" fill="#fad967" stroke="#000" stroke-width="0.9"/>
<path d="M100.7,430L102.8,432.7L104.4,433L104.6,432.8L104,428.5L102,427.7Z" fill="#fad967" stroke="#000" stroke-width="0.9"/>
<path d="M104.6,432.8L110.6,429.5L106,426.8L104,428.5Z" fill="#fad967" stroke="#000" stroke-width="0.9"/>
<path d="M96.8,422.2L96.5,417L95.5,416.9L96.4,421.2L96.4,421.2L96.4,421.2L96.4,421.2L96.4,421.2L96.4,421.2L96.4,421.2L96.4,421.2L96.4,421.2L96.4,421.2L96.4,421.2L96.4,421.2L96.4,421.2L96.4,421.2L96.4,421.2L96.4,421.2L96.4,421.2L96.4,421.2L96.4,421.2L96.4,421.2L96.4,421.2L96.4,421.2L96.4,421.2L96.4,421.2L96.3,421.2L92.7,418.7L92.7,418.7L92.7,418.7L92.7,418.7L92.7,418.7L92.7,418.7L92.7,418.7L91.6,416.4L90.5,416.3L91.4,418.7L93.3,422.6Z" fill="#f7ab05" stroke="#000" stroke-width="0.9"/>
<path d="M93.1,437L91.8,442L94.4,441.3L94.4,441.3L94.4,441.3L94.4,441.3L94.4,441.3L94.4,441.3L94.4,441.3L94.4,441.3L94.4,441.3L94.4,441.3L94.4,441.3L94.4,441.3L94.4,441.3L94.4,441.3L94.4,441.3L94.4,441.3L94.4,441.3L94.4,441.3L94.4,441.3L94.4,443.2L96.3,439.6L94.9,437.5L94.9,437.5ZM92.4,451.7L92.9,449.5L92.9,449.4L92.9,449.4L92.9,449.4L92.9,449.4L92.9,449.4L92.9,449.4L92.9,449.4L92.9,449.4L92.9,449.4L92.9,449.4L92.9,449.4L92.9,449.4L92.9,449.4L102.7,449.3L102.5,449L93.4,449.2L93.4,449.2L93.4,449.2L93.4,449.2L93.4,449.2L93.4,449.2L93.4,449.2L93.4,449.2L93.4,449.2L93.4,449.2L93.4,449.2L93.4,449.2L93.4,449.2L93.4,449.2L93.4,449.2L93.4,449.2L93.4,449.2L93.4,449.2L93.4,449.2L93.5,448.6L91,449.5L91,449.5L91,449.5L91,449.5L91,449.5L90.9,449.5L90.9,449.5L90.9,449.5L90.9,449.5L90.9,449.5L90.9,449.5L90.9,449.5L90.9,449.5L90.9,449.5L90.9,449.5L90.9,449.5L90.9,449.5L90.9,449.5L90.9,449.5L90.9,449.5L90.9,449.5L91.3,443.9L90,449.5L89.4,452Z" fill="#f7ab05" stroke="#000" stroke-width="0.9"/>
<path d="M116.1,371.2L116.3,371.3L131.3,366.5L131.6,356.8L117,356.8Z" fill="#fad967" stroke="#000" stroke-width="0.9"/>
<path d="M112.6,471.3L108.6,470.4L108.6,470.4L108.6,470.4L108.6,470.4L108.6,470.4L108.6,470.4L108.6,470.4L108.6,470.4L108.6,470.4L108.6,470.4L108.6,470.4L108.6,470.4L108.6,470.3L108.6,470.3L108.6,470.3L109.1,461.7L109,458.9L108.7,460.5L108.7,460.5L108.7,460.5L108.7,460.5L108.7,460.5L108.7,460.5L108.7,460.5L108.7,460.5L108.7,460.5L108.7,460.5L108.7,460.5L108.7,460.5L108.7,460.5L108.6,460.5L100,461.3L100,461.3L91.4,461.8L91.4,461.8L91.4,461.8L91.4,461.8L91.4,461.8L91.4,461.8L91.4,461.8L91.4,461.8L91.4,461.8L91.4,461.8L91.4,461.8L91.4,461.8L91.4,461.8L91.4,461.8L91.4,461.7L91.4,461.7L91.4,461.7L91.4,461.7L91.4,455.6L91.4,455.6L91.4,455.6L92.4,451.7L89.4,452L88.5,455.6L89,463L89,463L107.4,462L107.4,462L107.4,462L107.4,462L107.4,462L107.4,462L107.4,462L107.4,462L107.4,462L107.4,462L107.4,462L107.4,462L107.4,462L107.4,462L107.4,462L108.7,467.9L108.7,467.9L108.7,467.9L108.7,467.9L108.7,467.9L108.7,467.9L108.7,467.9L108.7,467.9L108.7,467.9L108.7,467.9L108.7,467.9L108.7,467.9L108.7,467.9L108.7,467.9L108.7,467.9L108.7,467.9L108.7,467.9L108.7,467.9L108.6,467.9L89,468.4L89,468.4L89,472.8L88.5,480.2L87.8,485.1L87.8,485.1L89.6,485.5L89,480.2L89,480.2L89,480.2L89.7,469.4L89.7,469.4L89.7,469.4L89.7,469.4L89.7,469.4L89.7,469.4L89.7,469.4L89.7,469.3L89.7,469.3L89.7,469.3L89.7,469.3L89.7,469.3L89.7,469.3L89.7,469.3L89.7,469.3L89.7,469.3L107.4,469.1L107.4,469.1L107.4,469.1L107.4,469.1L107.4,469.1L107.4,469.1L107.4,469.1L107.4,469.1L107.4,469.1L107.4,469.1L107.4,469.1L107.4,469.1L107.4,469.1L107.4,469.1L107.4,469.1L107.4,469.1L107.4,469.1L107.4,469.1L106.9,474L106.9,474L106.4,477.4ZM100.2,483.6L100,481.4L100,481.4L100,481.4L100,481.4L100,481.4L100,481.4L100,481.4L100,481.4L100,481.4L100,481.4L100,481.4L100,481.4L100,481.4L103.5,479.4L98.8,480.2L98.8,485Z" fill="#fad967" stroke="#000" stroke-width="0.9"/>
<path d="M144.3,385L134.6,388.4L135.2,396.6L135.2,396.6L135.7,405.2L135.7,405.2L135.7,405.2L135.7,405.2L135.7,405.2L135.7,405.2L135.7,405.2L135.7,405.2L135.7,405.2L135.7,405.2L135.7,405.2L135.7,405.2L135.7,405.2L135.7,405.2L135.7,405.2L135.7,405.2L130.6,405.9L142.6,407.5Z" fill="#fcfad0" stroke="#000" stroke-width="0.9"/>
<path d="M110.5,435.9L112.4,442.1L112.4,442.1L112.4,442.1L112.4,442.1L112.4,442.1L112.4,442.1L112.4,442.1L112.4,442.1L112.4,442.1L112.4,442.1L112.4,442.1L112.3,442.1L112.3,442.1L112.3,442.1L112.3,442.1L112.3,442.1L112.3,442.1L112.3,442.1L112.3,442.1L112.3,442.1L108.7,442.1L109.5,446.4L109.9,443.3L109.9,443.3L109.9,443.3L109.9,443.3L109.9,443.3L109.9,443.3L109.9,443.3L109.9,443.3L109.9,443.3L109.9,443.3L109.9,443.3L109.9,443.3L109.9,443.3L109.9,443.3L109.9,443.3L109.9,443.3L113.5,443.3L113.5,436.7ZM129,442.3L128.3,442.3L128.3,442.3L114.2,443.3L128.3,443.3L128.5,443.3ZM104.4,449.3L109.1,449.2L109.2,448.8L104.4,448.9Z" fill="#fad967" stroke="#000" stroke-width="0.9"/>
<path d="M96.8,429.4L98.6,427.5L98.6,427.3L97.8,426.4L95.8,427.8L96.7,429.4Z" fill="#fad967" stroke="#000" stroke-width="0.9"/>
<path d="M97.2,424.9L97.2,424.5L94.4,425L94.8,426.8Z" fill="#f7ab05" stroke="#000" stroke-width="0.9"/>
<path d="M144,437.6L144.3,440.4L149,439.6L149,439.6L149,439.6L149,437.5ZM128.5,443.3L137.9,441.5L129,442.3ZM136.5,468.6L136.2,466.7L136.2,466.7L135.7,455.6L135.7,455.6L135.7,455.6L135.7,455.6L135.7,455.6L135.7,455.6L135.7,455.6L135.7,455.6L135.7,455.6L135.7,455.6L135.7,455.6L135.7,455.6L135.7,455.6L135.7,455.6L135.7,455.6L135.7,455.6L135.7,455.6L149,454.4L149,454.4L149,453.2L141.1,453.7L133.2,454.4L133.2,454.4L133.2,454.4L133.2,454.4L133.2,454.4L133.2,454.4L133.2,454.4L133.2,454.4L133.2,454.4L133.2,454.4L133.2,454.4L133.2,454.4L130.8,450.8L133.2,458L134.5,460.5L134.5,460.5L134.5,460.5L134.5,460.5L134.5,460.5L134.5,460.5L134.5,460.5L134.5,460.5L134.5,460.5L134.5,460.5L134.5,460.5L134.5,460.5L134.5,460.5L134.5,460.5L134.5,460.5L133.5,461.3L135.5,468.4Z" fill="#fcfad0" stroke="#000" stroke-width="0.9"/>
<path d="M97.9,430.5L99.2,430.3L99.5,430L98.6,427.5L96.8,429.4L97,429.9Z" fill="#f7ab05" stroke="#000" stroke-width="0.9"/>
<path d="M104.6,432.8L104.4,433L109.9,434L109.9,434L109.9,434L109.9,434L109.9,434L109.9,434L109.9,434L109.9,434L109.9,434L109.9,434L109.9,434L109.9,434L110.1,434.6L111.3,429.7L111.1,429.8L111.1,429.8L111.1,429.8L111.1,429.8L111.1,429.8L111.1,429.8L111.1,429.8L111.1,429.8L111.1,429.8L111.1,429.8L111.1,429.8L111.1,429.8L110.6,429.5Z" fill="#fad967" stroke="#000" stroke-width="0.9"/>
<path d="M146.5,412.3L149,413.1L149,381.8L144.3,385L142.6,407.5Z" fill="#fcfad0" stroke="#000" stroke-width="0.9"/>
<path d="M95.8,427.8L95,427.7L95.1,428.6L94.9,429.7L96.7,429.4Z" fill="#f7ab05" stroke="#000" stroke-width="0.9"/>
<path d="M146.5,412.3L142.6,407.5L130.6,405.9L130.3,406L130.3,406L124.7,406.5L123.4,407.7L123.3,407.8L130.8,408.9L130.8,408.9L130.8,408.9L130.8,408.9L130.8,408.9L130.8,408.9L130.8,408.9L130.8,408.9L130.8,408.9L130.8,408.9L130.8,408.9L135.5,418.3ZM134.1,419.1L128.3,420.2L128.3,420.2L126.1,420.5L126.4,421.5L133.6,419.3Z" fill="#fcfad0" stroke="#000" stroke-width="0.9"/>
<path d="M97.4,423.9L97.2,424.5L97.2,424.9L97.8,426.4L98.6,427.3L101.4,426.8L101.8,425Z" fill="#fcfad0" stroke="#000" stroke-width="0.9"/>
<path d="M67.1,356.8L69.3,372L76.7,385.6L98.8,386.3L98.1,372L97.6,356.8Z" fill="#fad967" stroke="#000" stroke-width="1"/>
<path d="M103,391.7L103.7,391.7L102.5,386.8L98.8,386.3L76.7,385.6L80.4,394.2L84.1,401.5L87.8,406.4L95.1,406.9L102.5,406.4L103,399.1Z" fill="#f7ab05" stroke="#000" stroke-width="1"/>
<path d="M106.2,407.7L108.6,402L108.9,396.6L108.6,391.7L103,391.7L103,399.1L102.5,406.4L99.3,409.4L96.4,412.6L103.7,412.6Z" fill="#fa6405" stroke="#000" stroke-width="1"/>
<path d="M90.2,413.3L92.7,418.7L96.4,421.2L94.9,413.8L93.4,407.4L87.8,406.4Z" fill="#f20000" stroke="#000" stroke-width="1"/>
<path d="M108.6,404L107.4,411.4L109.4,413.3L109.9,413.3L109.9,413.8L110.1,414.1L113.6,416.3L118,411.9L122.2,407.7L120.9,402.8L119.7,397.8L114.8,397.4L108.9,397.1Z" fill="#f7ab05" stroke="#000" stroke-width="1"/>
<path d="M124.6,406.4L130.3,406L135.7,405.2L135.2,396.6L134.5,386.8L123.4,388L123.9,397.1Z" fill="#fad967" stroke="#000" stroke-width="1"/>
<path d="M113.6,416.3L113.6,421.8L118.1,423.1L120.9,421.2L128.3,420.2L135.7,418.7L133.2,413.8L130.8,408.9L122.2,407.7L118,411.9Z" fill="#f7ab05" stroke="#000" stroke-width="1"/>
<path d="M109.5,422.4L109.9,422.2L110.1,418.7L109.9,413.3L96.4,413.8L96.9,422.7L102.7,422.9Z" fill="#f7ab05" stroke="#000" stroke-width="1"/>
<path d="M120.9,423.2L116.7,425.2L114.9,427.2L116,434.7L129.5,431.5L143.1,428.6L140.6,423.6L135.7,418.7Z" fill="#fad967" stroke="#000" stroke-width="1"/>
<path d="M113.6,443.3L128.3,442.3L138.3,441.4L138.6,441.3L144.3,440.4L143.8,434.7L143.1,428.6L128.3,432.3L113.6,435.2Z" fill="#f7ab05" stroke="#000" stroke-width="1"/>
<path d="M113.6,443.3L111.6,443.8L114.8,450.7L119,456.8L123.1,462.6L128.3,460.8L133.2,458.1L130.8,450.7L128.3,443.3Z" fill="#f7ab05" stroke="#000" stroke-width="1"/>
<path d="M130.8,450.7L133.2,454.4L141.1,453.6L149,453.1L149,439.6L138.6,441.3L128.3,443.3Z" fill="#fad967" stroke="#000" stroke-width="1"/>
<path d="M109.1,452.9L109.1,449.2L92.9,449.5L91.4,455.6L91.4,461.7L100,461.3L108.6,460.5L109,458.8L108.6,453.1Z" fill="#fa6405" stroke="#000" stroke-width="1"/>
<path d="M89,463L89,468.4L108.6,467.9L107.4,462Z" fill="#f7ab05" stroke="#000" stroke-width="1"/>
<path d="M106.4,477.8L106.9,474L107.4,469.1L89.7,469.4L89,480.2L89.6,485.6L92.7,486.3L93.4,488.5L91.9,483.9L98.8,485.1L98.8,480.2L103.6,479.4Z" fill="#f7ab05" stroke="#000" stroke-width="1"/>
<path d="M120.9,472.8L122.2,467.9L122.2,463L123.1,462.6L119,456.8L114.8,450.7L109.1,453.1L109.1,452.9L108.6,453.1L109.1,461.7L108.6,470.3L114.8,471.8Z" fill="#fad967" stroke="#000" stroke-width="1"/>
<path d="M138.1,477.7L135.7,469.1L133.5,461.3L127.1,466.7L120.9,472.8L116.5,477.7L116,483.9L127.1,480.9Z" fill="#fcfad0" stroke="#000" stroke-width="1"/>
<path d="M135.7,455.6L136.2,466.7L138.1,477.7L149,477.7L149,454.4Z" fill="#f7ab05" stroke="#000" stroke-width="1"/>
<path d="M113.7,493.2L114.8,488.8L116,483.9L114.8,472.8L107.4,477.2L100,481.4L101.2,492.6L101.3,493L101.2,493L101.2,493.2Z" fill="#fad967" stroke="#000" stroke-width="1"/>
<path d="M92.7,486.3L87.8,485.1L86,490L84,493.2L95,493.2L93.4,488.5L93.4,488.5Z" fill="#f20000" stroke="#000" stroke-width="1"/>
<path d="M101.3,493L100,488.8L98.8,485.1L91.9,483.9L93.4,488.5L95,493.2L99.2,493.2Z" fill="#fa6405" stroke="#000" stroke-width="1"/>
<path d="M149,493.2L149,477.7L139.4,478.9L140.6,493.2Z" fill="#f7ab05" stroke="#000" stroke-width="1"/>
<path d="M105,426.1L111.1,429.8L114.8,427.3L118.5,423.2L111.1,421.2Z" fill="#fad967" stroke="#000" stroke-width="1"/>
<path d="M103.7,437.9L96.4,439.6L94.4,443.3L94.4,448.2L93.5,448.5L93.4,449.2L109.2,448.7L109.5,446.5L108.6,442.1Z" fill="#f7ab05" stroke="#000" stroke-width="1"/>
<path d="M91.8,442L91.4,443.3L91.3,443.8L91,449.5L94.4,448.2L94.4,441.3Z" fill="#fa6405" stroke="#000" stroke-width="1"/>
<path d="M108.6,442.1L112.3,442.1L109.9,434L100,432.3L98.8,436.4L103.7,437.9Z" fill="#fad967" stroke="#000" stroke-width="1"/>
<path d="M127.1,466.7L134.5,460.5L133.2,458.1L128.3,460.8L122.2,463L122.2,470.8Z" fill="#fad967" stroke="#000" stroke-width="1"/>
<path d="M109.9,443.3L109.1,449.2L109.1,453.1L114.8,450.7L111.6,443.8L113.6,443.3Z" fill="#f7ab05" stroke="#000" stroke-width="1"/>
<path d="M68.1,364.7L69.3,372L73,379.4L76.7,386.8L80.4,394.2L84.1,401.5L87.8,409.4L91.4,418.7L94.4,424.9L95.1,428.6L93.4,435.9L91.4,443.3L90,449.5L88.5,455.6L89,463L89,472.8L88.5,480.2L87.8,485.1L86,490L84,493.2L149,493.2L149,356.8L67.1,356.8Z" fill="none" stroke="#000" stroke-width="1.1"/>
<path d="M95.4,427.8h1v1h-1zM93.4,428.1h1v2h-1zM93.1,429h2v2h-2zM96.9,428.9h2.5v1h-2.5zM97.8,429.2h1v1.5h-1zM95,429.1h1v1.5h-1zM97.4,428.6h1v1h-1zM94.1,429.4h1v1h-1zM96,427.7h2v2.5h-2zM95.6,430h1v1.5h-1zM97.8,428.8h2v2h-2zM93.7,426.8h2.5v1h-2.5zM95.3,427.5h1.5v2h-1.5zM94.5,431.7h2v1h-2zM97.1,430.9h2.5v1h-2.5zM95.5,430.9h1v2h-1zM97.2,429.2h2v2h-2zM96.7,430h1.5v1h-1.5zM95.6,427.4h1v1h-1zM93.3,427.2h1v1h-1zM95.3,427.4h1.5v1h-1.5zM96.2,430.4h1v1h-1zM97.2,428.8h2v1h-2zM93.7,428.6h1v1h-1zM94.9,430.9h2.5v1.5h-2.5zM94.5,430.3h1v1h-1zM95.2,426.9h1v2h-1zM95.5,429.1h1v1.5h-1zM93.4,430.5h2.5v1h-2.5zM92.5,429.1h1v2h-1zM99.4,426.4h1v1.5h-1zM97.9,426.5h2.5v2h-2.5zM99,425.1h1.5v2.5h-1.5zM99.4,427h2.5v2.5h-2.5zM101,426.5h1v2h-1zM101,426.1h1v2h-1zM100.2,426.5h1v1h-1zM98.8,426.7h1v2h-1zM89.7,456.1h1.5v1.5h-1.5zM89.7,457.1h1.5v1h-1.5zM89.4,457.1h1v1.5h-1zM89.5,457.5h1v2h-1zM88.2,456.8h2v2.5h-2zM89.5,456.9h2.5v1h-2.5zM88.7,455.8h2v1h-2zM89.7,457.1h1v1h-1zM91.1,443.8h2v2.5h-2zM90.1,443.8h2.5v1h-2.5zM91.2,442.7h1v2h-1zM90.1,442.8h1.5v1h-1.5zM91,442.8h1v1.5h-1zM90.3,443.3h1.5v1h-1.5zM83.6,429.2h1v2.5h-1zM83.2,428.6h1v1.5h-1zM83.7,429.1h1v1h-1zM82.6,430.2h2v1h-2zM123.3,414.7h2v1h-2zM123.6,415.9h1v2.5h-1zM123.5,414.2h2.5v1h-2.5zM123.5,414h2.5v2h-2.5zM123.7,415.2h1v1h-1zM144,467.4h2v2h-2zM142.6,467.4h1v2h-1zM143.5,467.6h2v1.5h-2zM89.8,438h2v2.5h-2zM90.1,438.7h2v2h-2zM89.7,438.8h2v2.5h-2zM89.8,438.9h1v2h-1zM99.5,486.5h2.5v1h-2.5zM100,486.6h1v1h-1zM99.2,486h2.5v2h-2.5z" fill="#000"/>
</g>
<rect x="42.5" y="357.5" width="107" height="136" fill="none" stroke="#000" stroke-width="1"/>
<clipPath id="c_adel"><rect x="303.602" y="455.23" width="94.6237" height="114.04"/></clipPath>
<rect x="303.602" y="455.23" width="94.6237" height="114.04" fill="#fff"/>
<g clip-path="url(#c_adel)">
<path d="M303.6,533.1L304.3,523.3L306.1,515.9L308.5,508.6L311,498.7L312.2,493.8L315.9,486.4L318.3,477.8L319.6,472.9L321.5,469.2L324,474.2L325.7,477.8L328.7,483.5L331.9,488.9L335.6,495L339.2,501.2L342.2,504.9L344.2,508.6L343.7,515.9L342.9,523.3L342.2,529.5L341.7,535.6L341.2,540.5L340.5,545.4L336.3,547.9L331.9,550.3L328.2,554L324.5,557.7L321.5,562.6L322.5,565.1L324.5,566.3L334.3,565.6L340.5,564.1L346.6,564.1L349.1,560.9L351.5,558L358.9,559.2L366.3,560.4L368.7,565.1L370.4,569.3L398.2,569.3L398.2,455.2L303.6,455.2Z" fill="#fad967"/>
<path d="M345.2,515.5L345.4,515.4L345.8,511.6L343.9,511.7L343.7,515.4Z" fill="#fad967" stroke="#000" stroke-width="0.9"/>
<path d="M349.8,524.6L352.1,523L350.6,520.1L350.1,520.2L347.3,521.8L347.1,522.1Z" fill="#fad967" stroke="#000" stroke-width="0.9"/>
<path d="M360.1,509L353.2,512.6L353,517.4L354.3,517.8L354.5,517.2L354.5,517.2L356.4,511L356.4,511L356.4,511L356.4,511L356.4,511L356.4,511L356.4,511L356.4,511L356.4,511L356.4,511L360.6,509.2Z" fill="#fad967" stroke="#000" stroke-width="0.9"/>
<path d="M360.6,460.8L341.5,463.3L347.4,482.7L347.8,482.7L347.8,482.7L347.8,482.7L347.8,482.7L347.8,482.7L347.9,482.7L347.9,482.7L347.9,482.7L347.9,482.7L347.9,482.7L347.9,482.7L347.9,482.7L347.9,482.7L347.9,482.8L347.9,482.8L347.9,482.8L347.9,482.8L347.9,482.8L347.9,482.8L347.9,482.8L347.6,483.6L348.1,485.2L356.6,483.5L358.4,478.6L360.1,472.9L360.1,472.9L360.1,472.9L360.1,472.9L360.1,472.9L360.1,472.9L360.1,472.9L360.1,472.9L360.1,472.9L360.1,472.9L360.1,472.9L360.1,472.9L360.1,472.9L360.1,472.9L361.5,472.9Z" fill="#fad967" stroke="#000" stroke-width="0.9"/>
<path d="M349.4,528.2L348.7,528.8L350,533L354,532.7L354,530.7L353.4,527.6Z" fill="#fad967" stroke="#000" stroke-width="0.9"/>
<path d="M353.4,527.6L352.7,523.3L352.7,523.3L352.7,523.3L352.7,523.3L352.7,523.3L352.8,523.1L352.1,523L349.8,524.6L349.4,528.2Z" fill="#fad967" stroke="#000" stroke-width="0.9"/>
<path d="M348.3,536.8L349.1,542L354,538L354,532.7L350,533ZM350,547.9L350.3,547.9L349.9,547.1ZM377.3,552.8L376.6,549.4L375.6,551.6L375.6,551.6L373.7,555.2Z" fill="#fad967" stroke="#000" stroke-width="0.9"/>
<path d="M355.8,504.7L355.8,505.2L360.1,509L360.6,509.2L365,507.3L361.8,504.9L361.8,504.9L358.9,502.4L358.9,502.4L358.9,502.4L358.9,502.4L358.9,502.4L358.9,502.4L358.9,502.4L358.9,502.4L358.9,502.4L358.9,502.4L358.9,502.4L358.9,502.4L358.9,502.4L358.9,502.4L358.9,502.4L358.9,502.4L358.9,502.4L358.9,502.4L358.9,502.4L358.9,502.4L366.2,497.5L360.1,495.1L360,495.1ZM376.3,501.2L375.2,495.6L374.9,496.3L376.2,501.3Z" fill="#fad967" stroke="#000" stroke-width="0.9"/>
<path d="M345.4,515.4L345.2,515.5L345.4,517.2L347,518.4L347.1,518.3L347.4,515.7L347.1,515.4Z" fill="#f7ab05" stroke="#000" stroke-width="0.9"/>
<path d="M347,518.4L346.6,519.8L347.3,521.8L350.1,520.2L348,518.2L347.1,518.3Z" fill="#fad967" stroke="#000" stroke-width="0.9"/>
<path d="M348.6,512.3L349.6,512.2L350.2,511.7L350.2,509.3L346.2,507L345.8,511.6Z" fill="#fad967" stroke="#000" stroke-width="0.9"/>
<path d="M345.2,523.2L346.8,528.5L348.7,528.8L349.4,528.2L349.8,524.6L347.1,522.1Z" fill="#f7ab05" stroke="#000" stroke-width="0.9"/>
<path d="M376.2,501.3L377.2,505.3L376.3,501.2ZM371.2,520.8L378.3,520.8L370,519.6L370,519.6L370,519.6L370,519.6L370,519.6L369.9,519.6L369.9,519.6L369.9,519.6L369.9,519.6L369.9,519.6L369.9,519.6L369.9,519.6L369.9,519.6L369.9,519.6L369.2,515.2L369.2,515.2L368.7,511.2L368.3,515.4L368.3,515.4L367.5,519.6Z" fill="#fad967" stroke="#000" stroke-width="0.9"/>
<path d="M346.1,506.8L347.8,504.2L347.2,500.5L345.4,500.7L340,501.7L340,501.7L340,501.7L340,501.7L340,501.7L340,501.7L340,501.7L340,501.7L340,501.7L340,501.7L340,501.7L340,501.7L340,501.7L335.8,495.4L339.2,501.2L342.2,504.9L343.1,506.6Z" fill="#f7ab05" stroke="#000" stroke-width="0.9"/>
<path d="M353.5,505.8L347.8,504.2L346.1,506.8L346.2,507L350.2,509.3Z" fill="#fcfad0" stroke="#000" stroke-width="0.9"/>
<path d="M348,518.2L350.1,520.2L350.6,520.1L351.7,518.5L348.7,517.5Z" fill="#fad967" stroke="#000" stroke-width="0.9"/>
<path d="M330,467.6L326.2,467L324.1,474.3L325.7,477.8L328.7,483.5L331.6,488.4L328.7,483L328.7,483L328.7,483L328.7,483L328.7,483L328.7,483L328.7,483L328.7,483L328.7,483L328.7,483L328.7,483L328.7,483L328.7,483L328.7,483L328.7,483L328.7,483L328.7,483L328.7,483L328.7,483L328.7,483L328.7,483L328.7,483L337.8,482.9Z" fill="#fad967" stroke="#000" stroke-width="0.9"/>
<path d="M350.2,511.7L353.2,512.6L360.1,509L355.8,505.2L353.5,505.8L350.2,509.3Z" fill="#fad967" stroke="#000" stroke-width="0.9"/>
<path d="M351.4,498.9L350.3,491.8L350.6,495.8L350.6,495.8L350.5,497.7ZM355.8,504.7L360,495.1L356,497.5L356,497.5L352,499.7ZM348.1,485.2L347.1,485.8L346.6,487.6L351.5,485.9L356.4,484L356.6,483.5Z" fill="#fad967" stroke="#000" stroke-width="0.9"/>
<path d="M346.2,507L346.1,506.8L343.1,506.6L344.2,508.6L343.9,511.7L345.8,511.6L345.8,511.6Z" fill="#fcfad0" stroke="#000" stroke-width="0.9"/>
<path d="M348.3,536.8L350,533L348.7,528.8L346.8,528.5L342.2,529.9L341.9,532.9Z" fill="#f7ab05" stroke="#000" stroke-width="0.9"/>
<path d="M349.8,514.4L351.6,516.6L352.9,517.4L353,517.4L353.2,512.6L350.2,511.7L349.6,512.2Z" fill="#fad967" stroke="#000" stroke-width="0.9"/>
<path d="M360.6,460.8L361.5,472.9L367.5,472.9L367.5,472.9L367.5,472.9L367.5,472.9L367.5,472.9L367.5,472.9L367.5,472.9L367.5,472.9L367.5,472.9L367.5,472.9L367.5,472.9L367.5,472.9L367.5,472.9L367.5,472.9L367.5,472.9L368.1,475.4L387.1,468.5L387.1,455.2L363.3,455.2Z" fill="#fad967" stroke="#000" stroke-width="0.9"/>
<path d="M326.2,467L330,467.6L341.2,463.2L339.7,455.2L313.4,455.2Z" fill="#fad967" stroke="#000" stroke-width="0.9"/>
<path d="M345.4,517.2L343.8,519L346.6,519.8L347,518.4Z" fill="#fad967" stroke="#000" stroke-width="0.9"/>
<path d="M353,517.4L352.9,517.4L351.7,518.5L350.6,520.1L352.1,523L352.8,523.1L354.3,517.8Z" fill="#fad967" stroke="#000" stroke-width="0.9"/>
<path d="M347.8,504.2L353.5,505.8L355.8,505.2L355.8,504.7L352,499.7L351.5,500L351.5,500L351.5,500L351.5,500L351.5,500L351.5,500L351.5,500L351.5,500L351.5,500L351.5,500L351.5,500L351.5,500L351.5,500L351.5,500L351.5,500L351.5,500L351.5,500L351.5,500L351.5,500L351.5,500L351.5,500L351.4,498.9L350.5,497.7L350.3,500L350.3,500L350.3,500L350.3,500L350.3,500L350.3,500L350.3,500L350.3,500L350.3,500L350.3,500L350.3,500L350.3,500L350.3,500L350.3,500L350.3,500L347.2,500.5Z" fill="#f7ab05" stroke="#000" stroke-width="0.9"/>
<path d="M347.1,518.3L348,518.2L348.7,517.5L348.8,516.4L348.5,516L347.4,515.7Z" fill="#f7ab05" stroke="#000" stroke-width="0.9"/>
<path d="M303.6,492.5L303.6,533.1L304.3,523.3L306.1,515.9L308.5,508.6L311,498.7L312.2,493.8L312.7,492.9Z" fill="#fad967" stroke="#000" stroke-width="0.9"/>
<path d="M348.6,512.3L345.8,511.6L345.8,511.6L345.4,515.4L347.1,515.4Z" fill="#fcfad0" stroke="#000" stroke-width="0.9"/>
<path d="M368.1,475.4L368.8,477.8L374.9,481.5L381,481L387.1,480.3L387.1,468.5ZM373.7,488.4L376.5,490.6L377.3,488.9Z" fill="#fad967" stroke="#000" stroke-width="0.9"/>
<path d="M347.4,515.7L348.5,516L349.8,514.4L349.6,512.2L348.6,512.3L347.1,515.4Z" fill="#f7ab05" stroke="#000" stroke-width="0.9"/>
<path d="M343.8,519L345.4,517.2L345.2,515.5L343.7,515.4L343.7,515.9L343.3,519.1Z" fill="#fad967" stroke="#000" stroke-width="0.9"/>
<path d="M341.5,463.3L341.2,463.2L330,467.6L337.8,482.9L347.4,482.7ZM348.1,485.2L347.6,483.6L347.1,485.8Z" fill="#fad967" stroke="#000" stroke-width="0.9"/>
<path d="M345.2,523.2L347.1,522.1L347.3,521.8L346.6,519.8L343.8,519L343.3,519.1L343,522.9Z" fill="#fcfad0" stroke="#000" stroke-width="0.9"/>
<path d="M348.7,517.5L351.7,518.5L352.9,517.4L351.6,516.6L348.8,516.4Z" fill="#fad967" stroke="#000" stroke-width="0.9"/>
<path d="M348.8,516.4L351.6,516.6L349.8,514.4L348.5,516Z" fill="#f7ab05" stroke="#000" stroke-width="0.9"/>
<path d="M315.4,487.5L315.9,486.4L318.3,477.8L319.6,472.9L321.5,469.2L324,474.2L324.1,474.3L326.2,467L313.4,455.2L311.7,455.2L311.7,465.6L311.7,465.6L311.7,465.6L311.7,465.6L311.7,465.6L311.7,465.6L311.7,465.6L311.7,465.6L311.7,465.6L311.7,465.6L311.7,465.6L311.7,465.6L311.7,465.6L311.7,465.6L311.7,465.6L311.7,465.6L311.7,465.6L309.8,465.6Z" fill="#fad967" stroke="#000" stroke-width="0.9"/>
<path d="M346.8,528.5L345.2,523.2L343,522.9L342.9,523.3L342.2,529.5L342.2,529.9Z" fill="#fad967" stroke="#000" stroke-width="0.9"/>
<path d="M349.9,547.1L347.8,543L347.8,543L347.8,543L347.8,543L347.8,543L347.8,543L347.8,543L347.8,543L347.8,543L347.8,543L347.8,543L347.8,543L347.8,543L347.8,543L347.8,543L349.1,542L348.3,536.8L341.9,532.9L341.7,535.6L341.2,540.5L340.5,545.4L336.3,547.9L332.1,550.2L340.5,546.4L340.5,546.4L340.5,546.4L340.5,546.4L340.5,546.4L340.5,546.4L340.5,546.4L340.5,546.4L340.5,546.4L340.5,546.4L340.5,546.4L340.5,546.4L340.5,546.4L340.5,546.4L340.5,546.4L340.5,546.4L340.5,546.4L340.5,546.4L341.7,550.3L347.8,547.9L347.8,547.9L347.8,547.9L347.8,547.9L347.8,547.9L350,547.9ZM340.4,564.1L340.4,564.1L340.4,564.1L340.4,557.9L339.3,564.1L339.3,564.1L339.3,564.1L339.3,564.1L339.3,564.1L339.3,564.1L339.3,564.1L339.3,564.1L339.3,564.1L339.2,564.1L339.2,564.1L339.2,564.1L334.7,565.5L340.4,564.1ZM324.4,566.3L321.6,562.7L322.5,565.1Z" fill="#fad967" stroke="#000" stroke-width="0.9"/>
<path d="M341.2,463.2L341.5,463.3L360.6,460.8L363.3,455.2L339.7,455.2Z" fill="#fad967" stroke="#000" stroke-width="0.9"/>
<path d="M312.7,492.9L315.4,487.5L309.8,465.6L303.6,465.6L303.6,492.5Z" fill="#fad967" stroke="#000" stroke-width="0.9"/>
<path d="M311.7,465.6L311.7,455.2L303.6,455.2L303.6,465.6Z" fill="#f7ab05" stroke="#000" stroke-width="1"/>
<path d="M369.2,515.2L370,519.6L378.6,520.9L385.9,523.3L393.3,525.8L398.2,522.8L398.2,455.2L387.2,455.2L387.2,480.3L381,481L374.9,481.5L377.3,488.9L376.5,490.7L377.3,491.4L375.2,495.6L376.1,500L377.3,506.1L373.2,508.6L368.7,511Z" fill="#fcfad0" stroke="#000" stroke-width="1"/>
<path d="M373.6,488.4L377.3,488.9L374.9,481.5L368.7,477.8L367.5,472.9L360.1,472.9L358.4,478.6L356.4,484L351.5,486L346.6,487.7L350.3,491.4L351.5,500L356,497.5L360.1,495L366.3,497.5L370,492.8Z" fill="#fa6405" stroke="#000" stroke-width="1"/>
<path d="M335.6,495L340,501.7L345.4,500.7L350.3,500L350.5,495.8L350.3,491.4L346.6,487.7L347.8,482.8L328.7,483L331.9,488.9Z" fill="#f7ab05" stroke="#000" stroke-width="1"/>
<path d="M374.9,496.3L377.3,491.4L373.6,488.4L370,492.8L366.3,497.5L362.6,500L358.9,502.4L361.9,504.9L365,507.3L368.7,511L373.2,508.6L377.3,506.1L376.1,501.2Z" fill="#f7ab05" stroke="#000" stroke-width="1"/>
<path d="M365,507.3L356.4,511L354.5,517.2L352.8,523.3L354,530.7L360.9,525.3L367.5,519.6L368.2,515.4L368.7,511Z" fill="#fad967" stroke="#000" stroke-width="1"/>
<path d="M371.7,527L371.2,520.9L367.5,519.6L360.9,525.3L354,530.7L354,538.1L359.4,534.9L365,531.9L372.4,533.1Z" fill="#f7ab05" stroke="#000" stroke-width="1"/>
<path d="M372.4,533.1L374.9,540.5L377.3,547.9L376.6,549.4L377.3,552.8L383.5,550.3L390.9,541.7L389.6,535.6L398.2,535.6L398.2,522.8L393.3,525.8L385.9,523.3L378.6,520.9L371.2,520.9L371.7,527Z" fill="#f7ab05" stroke="#000" stroke-width="1"/>
<path d="M374.9,540.5L372.4,533.1L365,531.9L359.4,534.9L354,538.1L347.8,543L350.3,547.9L351.5,558L358.9,559.2L366.3,560.4L373.6,555.3L375.6,551.6L377.3,547.9Z" fill="#fa6405" stroke="#000" stroke-width="1"/>
<path d="M339.2,564.1L340.5,557.7L341.7,550.3L340.5,546.4L331.9,550.3L328.2,554L324.5,557.7L321.5,562.6L324.5,566.3L334.3,565.6Z" fill="#f7ab05" stroke="#000" stroke-width="1"/>
<path d="M341.7,550.3L340.5,557.7L340.5,564.1L346.6,564.1L349.1,560.9L351.5,558L350.3,547.9L347.8,547.9Z" fill="#fad967" stroke="#000" stroke-width="1"/>
<path d="M390.9,541.7L383.5,550.3L377.3,552.8L373.6,555.3L366.3,560.4L368.7,565.1L370.4,569.3L398.2,569.3L398.2,535.6L389.6,535.6ZM380.3,560.9L384,559.7L387.4,561.7L387.7,566.3L385.4,569L381,568.5L379.5,565.1Z" fill="#fad967" stroke="#000" stroke-width="1"/>
<path d="M379.5,565.1L381,568.5L385.4,569L387.7,566.3L387.4,561.7L384,559.7L380.3,560.9Z" fill="#dfdfe0" stroke="#000" stroke-width="1"/>
<path d="M303.6,533.1L304.3,523.3L306.1,515.9L308.5,508.6L311,498.7L312.2,493.8L315.9,486.4L318.3,477.8L319.6,472.9L321.5,469.2L324,474.2L325.7,477.8L328.7,483.5L331.9,488.9L335.6,495L339.2,501.2L342.2,504.9L344.2,508.6L343.7,515.9L342.9,523.3L342.2,529.5L341.7,535.6L341.2,540.5L340.5,545.4L336.3,547.9L331.9,550.3L328.2,554L324.5,557.7L321.5,562.6L322.5,565.1L324.5,566.3L334.3,565.6L340.5,564.1L346.6,564.1L349.1,560.9L351.5,558L358.9,559.2L366.3,560.4L368.7,565.1L370.4,569.3L398.2,569.3L398.2,455.2L303.6,455.2Z" fill="none" stroke="#000" stroke-width="1.1"/>
<path d="M346.9,511.2h1.5v2.5h-1.5zM345.2,510.1h2v2h-2zM345.3,508.7h2.5v1.5h-2.5zM345.3,510.5h2.5v1h-2.5zM344.7,510.2h1v1h-1zM345.9,510.3h1v1.5h-1zM343.9,510.1h2.5v1h-2.5zM345.7,511.6h1v2h-1zM347.4,509.4h2v1h-2zM344.2,510.5h1v1.5h-1zM346.5,508.2h2v2h-2zM346.9,511.2h1v1h-1zM344.3,509.9h1v1h-1zM344.3,509.5h1v2.5h-1zM345.9,508.4h2v1h-2zM345.8,510h2v1h-2zM348.2,517.2h1v2h-1zM349.6,517.9h2v2.5h-2zM346.6,517.4h1v1.5h-1zM348.8,517h1v2h-1zM350.4,518.7h1.5v2h-1.5zM349.8,520.4h2.5v1h-2.5zM349.8,519.7h2.5v1h-2.5zM346,518.4h1v1h-1zM348,517.9h1v1.5h-1zM347.4,520.6h2.5v1h-2.5zM345.9,517.4h1.5v2h-1.5zM349.2,519.6h1.5v1.5h-1.5zM349.8,516.9h1.5v1.5h-1.5zM349.4,516.4h2.5v1.5h-2.5zM348.4,520.4h2.5v2h-2.5zM345.9,519.8h2v1.5h-2zM347.1,521.2h2.5v1.5h-2.5zM350.1,517.3h1.5v1h-1.5zM346.4,516h2.5v1.5h-2.5zM350.5,517.5h1v2.5h-1zM347.8,520.4h1v1.5h-1zM347.8,520.6h1v1.5h-1zM345.5,519.6h1.5v1h-1.5zM348.8,520.1h2v1.5h-2zM346.2,517.8h2v1h-2zM348.5,515.8h1v2h-1zM345,518.6h1.5v2h-1.5zM349.2,516.5h2v1h-2zM348,517.2h1.5v1h-1.5zM350,517.8h2.5v1.5h-2.5zM345.9,525.7h2v1h-2zM345.6,525h1.5v1h-1.5zM344.8,524.9h1v1.5h-1zM347.2,526.5h1.5v1h-1.5zM345,524.7h1v1h-1zM344.6,525.8h1.5v1.5h-1.5zM344.9,525h1.5v2h-1.5zM344.9,525.3h1.5v1.5h-1.5zM347.1,526.6h1v1h-1zM344.8,525h2v1h-2zM341.2,512.2h1.5v2h-1.5zM341.6,512.4h1v2.5h-1zM341.6,512.9h1.5v2h-1.5zM342.2,512.1h2v1h-2zM341.6,512.7h1.5v2.5h-1.5zM341.7,511.5h1.5v1.5h-1.5zM379.4,558.4h2.5v1h-2.5zM380,559.2h1.5v2h-1.5zM379.6,559.5h1v2h-1zM379.8,559.9h1.5v1h-1.5z" fill="#000"/>
</g>
<rect x="304.5" y="455.5" width="95" height="114" fill="none" stroke="#000" stroke-width="1"/>
<clipPath id="c_bris"><rect x="588.272" y="169.255" width="125.1" height="112.074"/></clipPath>
<rect x="588.272" y="169.255" width="125.1" height="112.074" fill="#fff"/>
<g clip-path="url(#c_bris)">
<path d="M678.2,258.2L675.8,253.3L674.5,247.2L673.3,241L669.6,233.6L667.2,226.3L663.5,221.4L661.5,217.7L659.8,214L661.5,209.1L663.5,204.2L662.5,196.8L661.5,189.4L661,179.6L661.4,169.3L588.3,169.3L588.3,281.3L680.4,281.3L680.7,275.4L678.2,268.1ZM672.3,235.6L673.8,236.1L675.5,231.2L676.3,225.5L674.3,224.6L672.3,225.5L673.1,230ZM674.3,212.8L674.5,208.6L672.3,208.1L670.4,209.1L670.9,216L672.8,216.4Z" fill="#f7ab05"/>
<path d="M622.2,232L624.8,227.9L625.1,225.8L621.7,226.3L621.7,226.3L621.7,226.3L621.7,226.3L621.7,226.3L621.7,226.3L621.7,226.3L621.7,226.3L621.7,226.3L621.7,226.3L621.7,226.3L621.7,226.3L621.7,226.3L619.7,222.6L619.7,222.6L618,218.9L618,218.9L615.2,212.4L614,212.9L606.2,223.6L605.9,228.2L607.6,229.5L620,231.6L620.5,231.2L620.5,231.2L620.5,231.2L620.5,231.2L620.5,231.2L620.5,231.2L620.5,231.2L620.5,231.2L620.5,231.2L620.5,231.2L620.5,231.2L620.5,231.2L620.5,231.2L620.5,231.2L620.5,231.2L620.5,231.2L620.5,231.2L620.5,231.2L621.1,231.8Z" fill="#f7ab05" stroke="#000" stroke-width="0.9"/>
<path d="M667.3,230.3L665.7,230.7L665.9,232.1L667.3,232ZM664.6,223.2L666.9,226L664.7,223Z" fill="#f7ab05" stroke="#000" stroke-width="0.9"/>
<path d="M617.7,248.3L619.8,250.8L629.8,249L633.4,240.5L622.3,232.5L622.2,232.9L625.4,236.1L625.4,236.1L625.4,236.1L625.4,236.1L625.4,236.1L625.4,236.1L625.4,236.1L626.6,241L626.6,241L626.6,241L626.6,241L626.6,241L626.6,241L626.6,241L626.6,241L626.6,241L626.6,241L626.6,241L626.6,241L626.6,241L626.6,241L626.6,241L626.6,241L626.6,241L626.6,241L626.6,241L626.6,241L620,240.6Z" fill="#f7ab05" stroke="#000" stroke-width="0.9"/>
<path d="M610.1,246.7L604.6,248.3L604,249.6L604,249.6L602.1,253.3L606.5,257.7L610.7,261.9L610.7,261.9L610.7,261.9L610.7,261.9L610.7,261.9L610.7,261.9L610.7,261.9L610.7,261.9L610.7,261.9L610.7,261.9L610.7,261.9L610.7,261.9L610.7,261.9L608.9,266.1L608.9,266.1L607.1,270.2L610.6,264.4L610.6,264.4L610.6,264.4L610.6,264.4L610.6,264.4L610.6,264.4L610.6,264.4L610.6,264.4L610.6,264.4L610.6,264.4L610.6,264.4L610.6,264.4L610.6,264.4L610.6,264.4L610.6,264.4L615.6,266.1L615.6,266.1L619.4,267.6L619.8,250.8L617.7,248.3Z" fill="#f7ab05" stroke="#000" stroke-width="0.9"/>
<path d="M642.5,169.3L625.7,169.3L622.9,178L624.9,181.5L640.2,177.4Z" fill="#f7ab05" stroke="#000" stroke-width="0.9"/>
<path d="M658.4,228L658.9,227.9L658.5,223.8L653.6,223.3L653.6,223.3L651.6,223ZM664.7,223L663.5,221.4L661.5,217.7L659.8,214L659.1,218.9L658.6,223.8L663.5,221.8L663.5,221.8L663.5,221.8L663.5,221.8L663.5,221.8L663.5,221.8L663.5,221.8L663.5,221.8L663.5,221.8L663.5,221.8L663.5,221.8L663.5,221.8L663.5,221.8L663.5,221.8L664.6,223.2Z" fill="#f7ab05" stroke="#000" stroke-width="0.9"/>
<path d="M591.4,195.3L601.9,200.2L605.1,198.2L606.4,191.5L596.2,188.2Z" fill="#f7ab05" stroke="#000" stroke-width="0.9"/>
<path d="M668.3,232.8L666.6,236.1L668.5,236.1L670.2,234.7L669.6,233.6L669.2,232.4Z" fill="#f7ab05" stroke="#000" stroke-width="0.9"/>
<path d="M624.9,181.5L622.9,178L613.4,175.6L615.6,189.2L616.2,189.5L622.6,188.6Z" fill="#f7ab05" stroke="#000" stroke-width="0.9"/>
<path d="M650.3,232.4L650.4,229.7L648.2,221.4L645.3,221.4L641.1,224.3L639.9,228.8L648.4,234.6Z" fill="#f7ab05" stroke="#000" stroke-width="0.9"/>
<path d="M678.2,262.2L678.2,258.2L675.8,253.3L673.5,257.9L676.3,261.5Z" fill="#f7ab05" stroke="#000" stroke-width="0.9"/>
<path d="M632.9,202.9L630.2,201.3L625.8,204.9L626.6,208.6L627.9,214L627.9,214L628.6,219.4L628.6,219.4L628.6,220L628.7,220L638.7,212.2Z" fill="#f7ab05" stroke="#000" stroke-width="0.9"/>
<path d="M641.6,187.1L640.2,177.4L624.9,181.5L622.6,188.6L630.5,195.6Z" fill="#f7ab05" stroke="#000" stroke-width="0.9"/>
<path d="M634.8,239.9L633.4,240.5L629.8,249L637.4,253.9L640.4,251.9L641.7,248.2L640.8,243.8Z" fill="#f7ab05" stroke="#000" stroke-width="0.9"/>
<path d="M646.9,207.3L647,206.6L647.5,202L632.9,202.9L638.7,212.2L639.5,212.5Z" fill="#f7ab05" stroke="#000" stroke-width="0.9"/>
<path d="M658.4,228L658.4,228L651.6,223L648.7,222.6L648.7,222.6L648.7,222.6L648.7,222.6L648.7,222.6L648.7,222.6L648.7,222.6L648.7,222.6L648.7,222.6L648.7,222.6L648.7,222.6L648.7,222.6L648.7,222.6L648.4,221.3L648.2,221.4L650.4,229.7Z" fill="#fad967" stroke="#000" stroke-width="0.9"/>
<path d="M659,234.7L655.4,233.6L655,233.7L655.1,237.1L659.7,236.6Z" fill="#f7ab05" stroke="#000" stroke-width="0.9"/>
<path d="M611.8,174L612.5,169.3L588.3,169.3L588.3,170.7L595.8,177.7L604.1,178.2Z" fill="#f7ab05" stroke="#000" stroke-width="0.9"/>
<path d="M641.6,187.1L630.5,195.6L630.2,201.3L632.9,202.9L647.5,202L647.5,201.7L645.8,196.8L645.8,196.8L645.8,196.8L645,191.9L645,191.9L645,191.9L645,191.9L645,191.9L645,191.9L645,191.9L645,191.9L645,191.9L645,191.9L645,191.9L646.6,190.5Z" fill="#f7ab05" stroke="#000" stroke-width="0.9"/>
<path d="M667.3,232L668.3,232.8L669.2,232.4L668.4,230L668.4,230L667.3,230.3Z" fill="#f7ab05" stroke="#000" stroke-width="0.9"/>
<path d="M673.6,229.3L673,229.5L673.1,230L672.6,233.7L674.2,235.1L675.5,231.2L675.7,230.1Z" fill="#f7ab05" stroke="#000" stroke-width="0.9"/>
<path d="M665.9,232.1L665.3,232.7L666.5,236.1L666.6,236.1L668.3,232.8L667.3,232Z" fill="#fa6405" stroke="#000" stroke-width="0.9"/>
<path d="M675.1,226.8L673.6,229.3L675.7,230.1L676.1,226.6Z" fill="#f7ab05" stroke="#000" stroke-width="0.9"/>
<path d="M622.9,178L625.7,169.3L612.5,169.3L611.8,174L613.4,175.6Z" fill="#fad967" stroke="#000" stroke-width="0.9"/>
<path d="M637.4,253.9L629.8,249L619.8,250.8L619.4,267.6L620.5,268L620.5,268L620.5,268L620.5,268L620.5,268L620.5,268L620.5,268L620.5,268L620.5,268L620.5,268.1L622.5,274.7L622.5,274.7L623.5,281.3L623.5,281.3L623.5,281.3L624.7,281.3L623.6,274.7L621.7,268.1L621.7,268.1L621.7,268.1L621.7,268.1L621.7,268.1L621.7,268.1L621.7,268.1L621.7,268L621.7,268L621.7,268L621.7,268L621.7,268L621.7,268L621.7,268L621.7,268L629.1,264.4L636.4,260.7L636.4,260.7L636.4,260.7L636.4,260.7L636.4,260.7L636.4,260.7L637.5,260.7Z" fill="#f7ab05" stroke="#000" stroke-width="0.9"/>
<path d="M640.8,243.8L641.7,248.2L652,244L647.3,238.2L647.2,238.3Z" fill="#f7ab05" stroke="#000" stroke-width="0.9"/>
<path d="M588.3,196.6L588.3,208L597.9,209.8L601.2,207.9L601.9,200.2L591.4,195.3Z" fill="#f7ab05" stroke="#000" stroke-width="0.9"/>
<path d="M606.2,223.6L598.6,217.8L588.3,221.8L588.3,227.5L588.3,227.5L588.3,227.5L588.3,227.5L588.3,227.5L594.7,229.9L594.7,229.9L594.7,229.9L594.7,229.9L594.7,229.9L594.7,229.9L594.7,229.9L596.7,232.5L605.9,228.2Z" fill="#f7ab05" stroke="#000" stroke-width="0.9"/>
<path d="M652,244L652.1,244L652.2,244L653.6,237.3L653.6,237.3L653.6,237.3L653.6,237.3L653.6,237.3L653.6,237.3L653.6,237.3L653.6,237.3L653.6,237.3L653.6,237.3L653.6,237.3L653.6,237.3L653.6,237.3L653.6,237.3L655.1,237.1L655,233.7L650.3,232.4L648.4,234.6L647.3,238.2Z" fill="#f7ab05" stroke="#000" stroke-width="0.9"/>
<path d="M655,233.7L655.4,233.6L658.4,228L650.4,229.7L650.3,232.4Z" fill="#fad967" stroke="#000" stroke-width="0.9"/>
<path d="M646.6,190.5L649.2,188.4L649.2,188.4L653.6,185.7L653.6,185.7L653.6,185.7L653.6,185.7L653.6,185.7L653.6,185.7L653.6,185.7L661,185.7L661,185.7L661,185.7L661,185.7L661,185.7L661,185.7L661,185.7L661,185.7L661,185.7L661,185.7L661,185.7L661,185.7L661,185.7L661,185.7L661,185.7L661,185.7L661.5,189.2L661,179.6L661.4,169.3L642.5,169.3L640.2,177.4L641.6,187.1Z" fill="#f7ab05" stroke="#000" stroke-width="0.9"/>
<path d="M622.6,188.6L616.2,189.5L615,203L617.5,207.8L619.7,206.1L619.7,206.1L625.4,202.9L625.4,202.9L625.4,202.9L625.4,202.9L625.4,202.9L625.4,202.9L625.4,202.9L625.4,202.9L625.4,202.9L625.4,202.9L625.4,202.9L625.4,202.9L625.4,202.9L625.4,202.9L625.4,202.9L625.4,202.9L625.4,202.9L625.4,202.9L625.4,202.9L625.4,202.9L625.8,204.9L630.2,201.3L630.5,195.6Z" fill="#f7ab05" stroke="#000" stroke-width="0.9"/>
<path d="M610.1,246.7L607.6,229.5L605.9,228.2L596.7,232.5L597.9,234.1L597.9,234.1L600.8,238.6L605.7,245.9L605.7,245.9L605.7,245.9L605.7,245.9L605.7,245.9L605.7,245.9L605.7,245.9L605.7,245.9L605.7,245.9L605.7,245.9L605.7,245.9L604.6,248.3Z" fill="#f7ab05" stroke="#000" stroke-width="0.9"/>
<path d="M647.3,238.2L648.4,234.6L639.9,228.8L637.4,231.7L637.6,235.5L647.2,238.3Z" fill="#f7ab05" stroke="#000" stroke-width="0.9"/>
<path d="M676.3,261.5L662.1,263.9L662.3,264.4L663.5,268.1L663.5,268.1L663.5,268.1L663.5,268.1L663.5,268.1L663.5,268.1L663.5,268.1L663.5,268.1L663.5,268.1L662.3,270.5L670.8,268L670.8,268L670.9,268L670.9,268L670.9,268L670.9,268L678.2,269.3L678.2,269.3L678.2,269.3L678.2,269.3L678.2,269.3L678.2,269.3L678.2,269.3L678.2,269.3L678.2,269.3L678.2,269.3L678.2,269.3L680.6,275.1L678.2,268.1L678.2,262.2ZM656.8,281.3L656.8,281.3L656.8,281.3L656.8,281.3L656.8,281.3L658.4,278.2L656.3,281.3L656.8,281.3Z" fill="#f7ab05" stroke="#000" stroke-width="0.9"/>
<path d="M637.6,235.5L634.8,239.9L640.8,243.8L647.2,238.3Z" fill="#f7ab05" stroke="#000" stroke-width="0.9"/>
<path d="M597.9,209.8L598.6,217.8L606.2,223.6L614,212.9L601.2,207.9Z" fill="#f7ab05" stroke="#000" stroke-width="0.9"/>
<path d="M652,244L641.7,248.2L640.4,251.9L649,253.7L649.9,250.8L652.1,244Z" fill="#f7ab05" stroke="#000" stroke-width="0.9"/>
<path d="M609.2,189.3L615.6,189.2L613.4,175.6L611.8,174L604.1,178.2Z" fill="#f7ab05" stroke="#000" stroke-width="0.9"/>
<path d="M588.3,208L588.3,221.8L598.6,217.8L597.9,209.8Z" fill="#f7ab05" stroke="#000" stroke-width="0.9"/>
<path d="M639.5,212.5L638.7,212.2L628.7,220L641.1,224.3L645.3,221.4Z" fill="#fad967" stroke="#000" stroke-width="0.9"/>
<path d="M595.8,177.7L588.3,170.7L588.3,196.6L591.4,195.3L596.2,188.2Z" fill="#f7ab05" stroke="#000" stroke-width="0.9"/>
<path d="M663.3,232.2L665.3,232.7L665.9,232.1L665.7,230.7L663.5,231.2L663.5,231.2L663.5,231.2L663.5,231.2L663.5,231.2L663.5,231.2L663.5,231.2L663.5,231.2L663.5,231.2L663.3,231.1Z" fill="#f7ab05" stroke="#000" stroke-width="0.9"/>
<path d="M639.5,212.5L645.3,221.4L648.2,221.4L648.4,221.3L647.2,216.9L647.2,216.9L646.3,211.5L646.3,211.5L646.3,211.5L646.3,211.5L646.9,207.3Z" fill="#f7ab05" stroke="#000" stroke-width="0.9"/>
<path d="M616.2,189.5L615.6,189.2L609.2,189.3L606.4,191.5L605.1,198.2L615,203Z" fill="#f7ab05" stroke="#000" stroke-width="0.9"/>
<path d="M607.6,229.5L610.1,246.7L617.7,248.3L620,240.6L619.7,240.5L619.7,240.5L613.1,239.8L613.1,239.8L613.1,239.8L613.1,239.8L613.1,239.8L613.1,239.8L613.1,239.8L613.1,239.8L613.1,239.8L613.1,239.8L613.1,239.8L613.1,239.8L613.1,239.8L613.1,239.8L613.1,239.8L613.1,239.8L613.1,239.8L613.1,239.8L613.1,239.8L613.1,239.8L613.1,239.8L613.1,239.8L613.1,239.8L616.8,235.4L616.8,235.4L620,231.6ZM622.3,232.5L622.2,232L621.1,231.8L622.2,232.9Z" fill="#f7ab05" stroke="#000" stroke-width="0.9"/>
<path d="M672.6,233.7L672.3,235.6L673.8,236.1L674.2,235.1ZM668.5,236.1L669.6,236.1L669.6,236.1L669.6,236.1L669.6,236.1L669.6,236.1L669.6,236.1L669.6,236.1L669.6,236.1L669.6,236.1L669.6,236.1L673.3,240.9L670.2,234.7Z" fill="#f7ab05" stroke="#000" stroke-width="0.9"/>
<path d="M637.4,231.7L624.8,227.9L622.2,232L622.3,232.5L633.4,240.5L634.8,239.9L637.6,235.5Z" fill="#f7ab05" stroke="#000" stroke-width="0.9"/>
<path d="M658.4,228L658.4,228L655.4,233.6L659,234.7L660.2,233.1L659.6,229.1L659,228.8L659,228.7L659,228.7L659,228.7L659,228.7L659,228.7L659,228.7L659,228.7L659,228.7L659,228.7L659,228.7L658.9,227.9Z" fill="#fad967" stroke="#000" stroke-width="0.9"/>
<path d="M672.3,208.1L670.4,209.1L670.9,216L672.8,216.4L674.3,212.8L674.5,208.6Z" fill="#f7ab05" stroke="#000" stroke-width="0.9"/>
<path d="M662.6,232.9L660.2,233.1L659,234.7L659.7,236.6L663.5,236.1L663.5,236.1L664,236.1Z" fill="#f7ab05" stroke="#000" stroke-width="0.9"/>
<path d="M660.2,233.1L662.6,232.9L663.3,232.2L663.3,231.1L659.6,229.1Z" fill="#fad967" stroke="#000" stroke-width="0.9"/>
<path d="M640.4,251.9L637.4,253.9L637.5,260.7L642.6,260.7L642.6,260.7L642.6,260.7L642.6,260.7L642.6,260.7L642.6,260.7L642.6,260.7L642.6,260.7L642.6,260.7L642.6,260.7L642.6,260.7L642.6,260.7L642.6,260.7L642.6,260.7L642.6,260.7L642.6,260.7L642.6,260.7L642.6,260.7L642.6,260.7L642.6,260.7L642.6,260.7L642.6,260.7L639.6,266.5L642.6,261.9L642.6,261.9L642.6,261.9L642.6,261.9L642.6,261.9L642.6,261.9L642.6,261.9L642.6,261.9L642.6,261.9L642.6,261.9L651.7,261.2L651.7,261.2L657.5,260.9L657.5,260L654.9,260.2L654.9,260.2L646.3,260.7L646.3,260.7L646.3,260.7L646.3,260.7L646.3,260.7L646.3,260.7L646.3,260.7L646.3,260.7L646.3,260.7L646.3,260.7L646.3,260.7L646.3,260.7L646.3,260.7L646.3,260.7L646.3,260.7L646.3,260.7L646.3,260.7L646.3,260.7L646.3,260.7L646.3,260.7L646.3,260.7L648.2,255.8L649,253.7ZM638.5,277.6L639.3,281.3L639.3,281.3L639.3,281.3L639.3,281.3L639.7,281.3Z" fill="#f7ab05" stroke="#000" stroke-width="0.9"/>
<path d="M657.5,260.9L661,260.7L661,260.7L661,260.7L661,260.7L661,260.7L661,260.7L661,260.7L661,260.7L661,260.7L661,260.7L661,260.7L661,260.7L661,260.7L661,260.7L662.1,263.9L676.3,261.5L673.5,257.9L673.3,258.2L673.3,258.2L673.3,258.2L673.3,258.2L673.3,258.2L673.3,258.2L673.3,258.2L673.3,258.2L673.3,258.2L673.3,258.2L673.3,258.2L663.5,259.5L663.5,259.5L657.5,260Z" fill="#f7ab05" stroke="#000" stroke-width="0.9"/>
<path d="M675.1,226.8L676.1,226.6L676.3,225.5L674.3,224.6L673.2,225.1Z" fill="#fad967" stroke="#000" stroke-width="0.9"/>
<path d="M641.1,224.3L628.7,220L628.6,220L629.1,225L629.1,225L629.1,225L629.1,225.1L629.1,225.1L629.1,225.1L629.1,225.1L629.1,225.1L629.1,225.1L629.1,225.1L629.1,225.1L629.1,225.1L629.1,225.1L629.1,225.1L629.1,225.1L629.1,225.1L625.4,225.8L625.4,225.8L625.1,225.8L624.8,227.9L637.4,231.7L639.9,228.8Z" fill="#f7ab05" stroke="#000" stroke-width="0.9"/>
<path d="M615,203L605.1,198.2L601.9,200.2L601.2,207.9L614,212.9L615.2,212.4L614.3,210.3L614.3,210.3L614.3,210.3L614.3,210.3L614.3,210.3L614.3,210.3L614.3,210.3L614.3,210.3L614.3,210.3L614.3,210.3L614.3,210.3L614.3,210.3L614.3,210.3L614.3,210.3L617.5,207.8Z" fill="#f7ab05" stroke="#000" stroke-width="0.9"/>
<path d="M606.4,191.5L609.2,189.3L604.1,178.2L595.8,177.7L596.2,188.2Z" fill="#f7ab05" stroke="#000" stroke-width="0.9"/>
<path d="M673.6,229.3L675.1,226.8L673.2,225.1L672.3,225.5L673,229.5Z" fill="#f7ab05" stroke="#000" stroke-width="0.9"/>
<path d="M665.3,232.7L663.3,232.2L662.6,232.9L664,236.1L666.5,236.1Z" fill="#f7ab05" stroke="#000" stroke-width="0.9"/>
<path d="M658.6,223.8L659.1,218.9L659.8,214L661.5,209.1L663.5,204.2L662.5,196.8L661.5,189.4L661,185.7L653.6,185.7L649.2,188.4L645,191.9L645.8,196.8L647.5,201.7L647,206.6L646.3,211.5L647.3,216.9L648.7,222.6L653.6,223.3Z" fill="#fa6405" stroke="#000" stroke-width="1"/>
<path d="M614.3,210.3L618,218.9L619.7,222.6L621.7,226.3L625.4,225.8L629.1,225L628.6,219.4L627.8,214L626.6,208.6L625.4,202.9L619.7,206.1Z" fill="#fa6405" stroke="#000" stroke-width="1"/>
<path d="M620.5,231.2L616.8,235.4L613.1,239.8L619.7,240.5L626.6,241L625.4,236.1Z" fill="#fa6405" stroke="#000" stroke-width="1"/>
<path d="M663.5,259.5L673.3,258.2L675.8,253.3L674.5,247.2L673.3,241L669.6,236.1L663.5,236.1L653.6,237.3L652.2,244L650,250.9L648.2,255.8L646.3,260.7L654.9,260.2Z" fill="#fa6405" stroke="#000" stroke-width="1"/>
<path d="M588.3,255.3L602,253.3L604,249.6L605.7,245.9L600.8,238.6L597.9,234.1L594.7,230L588.3,227.5Z" fill="#fcfad0" stroke="#000" stroke-width="1"/>
<path d="M588.3,255.3L588.3,281.3L602.2,281.3L604,275.9L607,270.5L608.9,266.1L610.6,261.9L606.5,257.7L602,253.3Z" fill="#fad967" stroke="#000" stroke-width="1"/>
<path d="M604,275.9L602.2,281.3L623.5,281.3L622.4,274.7L620.5,268.1L615.6,266.1L610.6,264.4L607,270.5Z" fill="#fad967" stroke="#000" stroke-width="1"/>
<path d="M636.4,260.7L629.1,264.4L621.7,268.1L623.7,274.7L624.7,281.3L639.3,281.3L638.4,277.2L636.4,273L639.4,266.8L642.6,260.7Z" fill="#fcfad0" stroke="#000" stroke-width="1"/>
<path d="M663.5,268.1L662.3,264.4L661,260.7L651.7,261.2L642.6,261.9L639.4,266.8L636.4,273L638.4,277.2L639.7,281.3L656.3,281.3L658.6,277.9L661,273L662.3,270.5Z" fill="#fad967" stroke="#000" stroke-width="1"/>
<path d="M662.3,270.5L658.6,277.9L656.8,281.3L680.4,281.3L680.7,275.4L678.2,269.3L670.9,268.1ZM678.2,269.3L679.2,273L678.2,275.9L670.9,275.4L669.6,268.5Z" fill="#fad967" stroke="#000" stroke-width="1"/>
<path d="M678.2,275.9L679.2,273L678.2,269.3L669.6,268.5L670.9,275.4Z" fill="#fcfad0" stroke="#000" stroke-width="1"/>
<path d="M663.5,221.9L658.6,223.8L659.1,228.7L663.5,231.2L668.4,230L667.2,226.3Z" fill="#fad967" stroke="#000" stroke-width="1"/>
<path d="M645.8,196.8L651.2,194.3L656.1,196.3L661.5,194.3" fill="none" stroke="#000" stroke-width="1"/>
<path d="M647,206.6L652.4,204.2L657.3,206.1L663,203.7" fill="none" stroke="#000" stroke-width="1"/>
<path d="M646.8,213.5L652.4,215.2L656.6,213L660,214.5" fill="none" stroke="#000" stroke-width="1"/>
<path d="M654.1,185.7L653.2,194.3" fill="none" stroke="#000" stroke-width="1"/>
<path d="M664,236.1L665.4,248.4L664,259.5" fill="none" stroke="#000" stroke-width="1"/>
<path d="M678.2,258.2L675.8,253.3L674.5,247.2L673.3,241L669.6,233.6L667.2,226.3L663.5,221.4L661.5,217.7L659.8,214L661.5,209.1L663.5,204.2L662.5,196.8L661.5,189.4L661,179.6L661.4,169.3L588.3,169.3L588.3,281.3L680.4,281.3L680.7,275.4L678.2,268.1ZM672.3,235.6L673.8,236.1L675.5,231.2L676.3,225.5L674.3,224.6L672.3,225.5L673.1,230ZM674.3,212.8L674.5,208.6L672.3,208.1L670.4,209.1L670.9,216L672.8,216.4Z" fill="none" stroke="#000" stroke-width="1.1"/>
<path d="M669.1,233.4h1v1h-1zM671.1,232.3h1.5v2h-1.5zM670.2,234.7h2v1h-2zM669.9,231.5h2.5v1.5h-2.5zM668.1,234.3h1v1h-1zM669.7,233.9h1.5v1h-1.5zM668.6,232.9h1.5v2.5h-1.5zM670,235.1h2v1.5h-2zM669.3,231.1h2v2h-2zM668.1,233.2h1v1h-1zM668.6,233.4h1.5v2h-1.5zM669.7,233.5h1.5v2.5h-1.5zM670.7,232.3h1.5v1h-1.5zM669.1,231.2h2v1.5h-2zM670.4,234.3h1.5v1.5h-1.5zM669,234.6h1v2.5h-1zM671.6,232.6h1v2.5h-1zM670.4,234.8h2.5v1.5h-2.5zM669.3,234.2h1v2.5h-1zM669.1,231.8h1v1h-1zM668.2,232.2h1v2h-1zM670,232.1h2v2h-2zM671.9,238.7h1.5v1h-1.5zM671.1,240.8h2v2.5h-2zM673.2,239.1h1.5v1h-1.5zM671.8,238.6h1.5v1h-1.5zM670.9,239.5h1v2h-1zM672.8,239.4h1.5v1.5h-1.5zM672.8,238.6h2.5v2.5h-2.5zM672.8,240.2h1.5v2.5h-1.5zM673.5,239.5h1.5v1h-1.5zM672.7,240.6h1.5v1h-1.5zM661.3,208.2h1.5v1.5h-1.5zM662,207.6h2.5v1h-2.5zM662.8,208.5h1v1h-1zM662.5,207.7h1.5v1h-1.5zM662.9,208.1h1.5v2.5h-1.5zM660.7,207.7h1v1h-1zM662.8,208.1h1.5v1.5h-1.5zM662.3,207.5h1v1h-1zM674.9,252.6h2.5v1h-2.5zM673.3,252.2h1v1h-1zM673.7,252h2.5v1h-2.5zM673.7,252.9h2.5v1h-2.5zM674.7,252h1v1h-1zM673.5,252.3h1v1.5h-1zM675.4,252.3h2.5v1h-2.5zM674.4,252.3h2v2.5h-2zM664,222.3h2.5v2.5h-2.5zM663.8,223h1v2.5h-1zM664.6,221.7h1v1h-1zM664.2,222.3h1v2.5h-1zM660.2,180.8h1v2.5h-1zM660.9,180.7h1v1h-1zM660.3,180.6h1v1.5h-1z" fill="#000"/>
</g>
<rect x="588.5" y="169.5" width="125" height="112" fill="none" stroke="#000" stroke-width="1"/>
<clipPath id="c_syd"><rect x="611.221" y="335.323" width="123.625" height="141.567"/></clipPath>
<rect x="611.221" y="335.323" width="123.625" height="141.567" fill="#fff"/>
<g clip-path="url(#c_syd)">
<path d="M667.5,472.5L668.7,467.5L671.2,461.4L673.6,455.3L677.3,449.1L681,443L684.7,438.1L688.4,433.1L693.3,428.2L698.2,423.3L699.5,414.7L700.7,406.1L701.9,401.2L703.1,396.3L704.4,388.9L705.6,381.5L709.3,377.8L713,374.2L715.4,368L717.9,361.9L720.3,358.2L722.8,354.5L725.8,349.6L728.9,344.7L730.7,340.2L732.6,335.3L611.2,335.3L611.2,476.9L666.8,476.9Z" fill="#fad967"/>
<path d="M647,420.7L643.7,419.8L644.2,420.8L647,420.8ZM647,399.4L638.7,396.5L627.9,411.7L634.3,411L634.3,411L634.3,411L634.3,411L640.5,412.2L640.5,412.2L640.5,412.2L640.5,412.2L640.5,412.2L640.5,412.2L640.5,412.2L640.5,412.2L640.5,412.2L640.5,412.2L640.5,412.2L642.9,417.9L642.9,413.5L642.9,413.5L642.9,413.5L642.9,413.5L642.9,413.5L642.9,413.5L642.9,413.5L642.9,413.5L642.9,413.5L642.9,413.5L642.9,413.5L642.9,413.5L642.9,413.5L642.9,413.5L642.9,413.5L642.9,413.5L642.9,413.5L647,413.6Z" fill="#fad967" stroke="#000" stroke-width="0.9"/>
<path d="M693.6,410L695.2,410.5L696.8,408.2L696.2,406L693.2,407.6L692.7,409.1Z" fill="#fad967" stroke="#000" stroke-width="0.9"/>
<path d="M683.3,419.4L682.3,418.4L680.8,418L676.5,421.6L682.5,424L683.6,423.2L684,421.3Z" fill="#f7ab05" stroke="#000" stroke-width="0.9"/>
<path d="M686,404.6L683.6,403.7L682.8,403.9L683.6,409L687.5,407.7L687.9,407L687.9,407Z" fill="#fad967" stroke="#000" stroke-width="0.9"/>
<path d="M684.3,414.8L684.7,414.7L686,412.9L685.8,411.8L682.7,410.2L682.2,410.4L682.5,411L682.5,411L682.5,411L682.5,411L682.5,411L682.5,411L682.5,411L682.5,411L682.5,411L681.9,412.9Z" fill="#fad967" stroke="#000" stroke-width="0.9"/>
<path d="M672.5,417.7L674.3,422L676.5,421.6L680.8,418L679.3,414.8Z" fill="#fad967" stroke="#000" stroke-width="0.9"/>
<path d="M634.4,455.6L634.3,455.3L611.2,450.7L611.2,476.9L619.3,476.9Z" fill="#fad967" stroke="#000" stroke-width="0.9"/>
<path d="M692.6,418.2L689.9,416.8L689.8,416.8L688.5,418.8L688.7,420.2L689.4,421L689.9,421.1L692.2,420.3Z" fill="#fad967" stroke="#000" stroke-width="0.9"/>
<path d="M688.7,420.2L688.5,418.8L686.4,417.5L683.3,419.4L684,421.3Z" fill="#fad967" stroke="#000" stroke-width="0.9"/>
<path d="M676.5,421.6L674.3,422L674.9,423.3L674.9,423.3L674.9,423.3L674.9,423.3L674.9,423.3L674.9,423.3L674.9,423.3L674.9,423.3L674.9,423.3L674.9,423.3L674.9,423.3L674.9,423.3L673.6,425.1L675.6,430.3L680.7,431.3L682.5,424Z" fill="#fad967" stroke="#000" stroke-width="0.9"/>
<path d="M686.5,398.4L688,402.2L691.6,403L692.8,401.9L692.4,401.2L688.4,400.7L688.4,400.7L688.4,400.7L688.4,400.7L688.4,400.7L688.4,400.7L688.4,400.7L688.4,400.7L688.4,400.7L688.4,400.7L688.4,400.7L688.4,400.7L687.1,397.8Z" fill="#fcfad0" stroke="#000" stroke-width="0.9"/>
<path d="M682.5,424L680.7,431.3L682.1,432.4L688.3,427.1L686.8,424.8L683.6,423.2Z" fill="#fad967" stroke="#000" stroke-width="0.9"/>
<path d="M689.9,412.9L691.1,412.8L691.5,412.4L690.8,410.7L688.8,411.2L688.9,412.1Z" fill="#fad967" stroke="#000" stroke-width="0.9"/>
<path d="M676.7,408.6L676.3,406.1L672,403.1L671.2,403.7L667.5,407.3L667.5,407.4L667.5,407.4L667.5,407.4L667.5,407.4L667.5,407.4L667.5,407.4L667.5,407.4L667.5,407.4L667.5,407.4L667.5,407.4L667.5,407.4L667.5,407.4L663.3,405.6L663.3,405.6L663.2,405.6L662.7,407.4L667.5,407.6L667.5,407.6L667.5,407.6L667.5,407.6L673.7,409.8L673.7,409.8L673.7,409.8L673.7,409.8L673.7,409.8L673.7,409.8L673.7,409.8L673.7,409.8L673.7,409.8L673.7,409.8L673.7,409.8L673.7,409.8L673.7,409.8L673.7,409.8L673.6,410.8ZM663.9,413.9L661.3,413.3L661.1,414.2L662.5,414.3Z" fill="#fad967" stroke="#000" stroke-width="0.9"/>
<path d="M696.2,425.4L698.2,423.3L699,418.1L696.9,418.3L694.7,421.7L695.4,424.5Z" fill="#fad967" stroke="#000" stroke-width="0.9"/>
<path d="M703.5,370.9L708.2,378.9L709.3,377.8L713,374.2L715.4,368L717.9,361.9L720.3,358.2L722.8,354.5L719.1,357L715.4,359.4L715.4,359.4L715.4,359.4L715.4,359.4L715.4,359.4L715.4,359.4L715.4,359.4L715.4,359.4L715.4,359.4L703.3,357Z" fill="#fad967" stroke="#000" stroke-width="0.9"/>
<path d="M697.4,403L701,404.8L701.9,401.2L702.8,397.6L698.2,398.5L696.9,402Z" fill="#fad967" stroke="#000" stroke-width="0.9"/>
<path d="M682.1,432.4L680.7,431.3L675.6,430.3L668.2,437.8L680.8,443.4L681,443L684.7,438.1L684.9,437.8Z" fill="#fad967" stroke="#000" stroke-width="0.9"/>
<path d="M700.1,410.2L700.7,406.1L701,404.8L697.4,403L696.2,406L696.8,408.2Z" fill="#fad967" stroke="#000" stroke-width="0.9"/>
<path d="M687.6,413.5L687.5,415.3L688.8,415.7L689.1,414.2L688,413.3Z" fill="#fad967" stroke="#000" stroke-width="0.9"/>
<path d="M705.5,381.7L699.9,390.6L703.5,394.4L704.4,388.9L705.6,381.6Z" fill="#fad967" stroke="#000" stroke-width="0.9"/>
<path d="M611.2,343.8L611.2,375.6L628.8,367.8L629.4,366.8L628.2,359.4L628.2,359.4L628.2,359.4L628.2,359.4L628.2,359.4L628.2,359.4L628.2,359.4L628.2,359.4L628.2,359.4L628.2,359.4L628.2,359.4L628.2,359.4L632.2,356.1Z" fill="#fad967" stroke="#000" stroke-width="0.9"/>
<path d="M651.5,396L656.1,396.3L655.2,393.8L655.2,393.8L655.2,393.8L655.2,393.8L655.2,393.8L655.2,393.8L655.2,393.8L655.2,393.8L655.2,393.8L655.2,393.8L655.2,393.8L655.2,393.8L655.2,393.8L655.2,393.8L655.2,393.8L655.2,393.8L660.9,390.9L660.9,390.8L665.2,389.3L663.8,386.5L656.4,385.2L647.8,384L645.4,386.5Z" fill="#fad967" stroke="#000" stroke-width="0.9"/>
<path d="M681.5,383.8L683.4,381.9L683.6,380.7L676,369.9L677.4,374.1L677.4,374.2L677.4,374.2L677.4,374.2L677.4,374.2L676.6,381.5L676.4,385.4Z" fill="#fad967" stroke="#000" stroke-width="0.9"/>
<path d="M692.8,401.9L696.9,402L698.2,398.5L696,394.3L693.2,394.7L693.3,396.3L693.3,396.3L693.3,396.3L692.8,401.2L692.8,401.2L692.8,401.2L692.8,401.2L692.8,401.2L692.8,401.2L692.8,401.2L692.8,401.2L692.8,401.2L692.8,401.2L692.8,401.2L692.8,401.2L692.8,401.2L692.8,401.2L692.8,401.2L692.8,401.2L692.8,401.2L692.4,401.2Z" fill="#fad967" stroke="#000" stroke-width="0.9"/>
<path d="M611.2,378.7L611.2,408.5L619.6,404.9L619.6,404.9L619.6,404.9L619.6,404.9L619.6,404.9L619.6,404.9L619.6,404.9L619.6,404.9L619.6,404.9L619.6,404.9L619.6,404.9L619.6,404.9L619.6,404.9L619.6,404.9L619.6,404.9L619.6,404.9L619.6,404.9L620.6,406.8L622.8,389.4Z" fill="#fad967" stroke="#000" stroke-width="0.9"/>
<path d="M645.8,465.5L667.8,471.2L668.7,467.5L669.3,466.1L664.5,454.9L654,460.2L654,460.2L654,460.2L654,460.2L654,460.2L642.5,461Z" fill="#fad967" stroke="#000" stroke-width="0.9"/>
<path d="M681.9,412.9L681.5,414L681.5,414L681.5,414L681.5,414L681.5,414L681.5,414L681.5,414L681.5,414L681.5,414L681.5,414L681.5,414L681.5,414L681.5,414L681.5,414L681.5,414L679.6,413.8L679.3,414.8L680.8,418L682.3,418.4L684.3,414.8Z" fill="#f7ab05" stroke="#000" stroke-width="0.9"/>
<path d="M703.5,370.9L703.3,357L703.1,357L703.1,357L703.1,357L703.1,357L703.1,357L703.1,357L703.1,357L703.1,357L703.1,357L703.1,357L700.6,351.8L697.2,352.7L688,369.7L691,374.2Z" fill="#fad967" stroke="#000" stroke-width="0.9"/>
<path d="M689.8,413.9L689.1,414.2L688.8,415.7L689.8,416.6L690.5,414.7Z" fill="#f7ab05" stroke="#000" stroke-width="0.9"/>
<path d="M699.9,390.6L705.5,381.7L694.7,382.8L692.3,385.7L697.2,391.8Z" fill="#fad967" stroke="#000" stroke-width="0.9"/>
<path d="M693.2,407.6L691,404.7L687.9,407L687.9,407L691.8,409.3L692.7,409.1Z" fill="#fad967" stroke="#000" stroke-width="0.9"/>
<path d="M676.4,385.4L676.1,388.9L677.7,395.2L684.3,391.5L681.5,383.8Z" fill="#fad967" stroke="#000" stroke-width="0.9"/>
<path d="M622.8,389.4L620.6,406.8L623.3,412.2L627.9,411.7L638.7,396.5L638.1,385.1L636.8,384L636.8,384L636.8,384L636.8,384L636.8,384L636.8,384L636.6,383.5Z" fill="#fad967" stroke="#000" stroke-width="0.9"/>
<path d="M673.6,410.8L673.5,412L677.5,412.3L677.3,409.1L677.3,409.1L677.3,409.1L677.3,409.1L677.3,409L677.3,409L677.3,409L677.3,409L677.3,409L677.3,409L677.3,409L677.3,409L677.3,409L677.3,409L677.3,409L677.6,409L676.7,408.6Z" fill="#fad967" stroke="#000" stroke-width="0.9"/>
<path d="M688,369.7L675.4,368.2L675.6,368.7L675.6,368.7L676,369.9L683.6,380.7L690.8,375L691,374.2Z" fill="#fad967" stroke="#000" stroke-width="0.9"/>
<path d="M690.8,410.7L691.8,409.3L687.9,407L687.5,407.7L687.8,410.2L688.8,411.2Z" fill="#fad967" stroke="#000" stroke-width="0.9"/>
<path d="M686,398.5L678.1,396.9L678.6,398.7L678.6,398.7L678.6,398.7L678.6,398.7L678.6,398.7L678.6,398.7L678.6,398.7L678.6,398.7L678.6,398.7L678.6,398.7L678.6,398.7L678.6,398.7L678.6,398.7L678.6,398.7L678.2,399L681.2,403.7L682.8,403.9L683.6,403.7Z" fill="#fad967" stroke="#000" stroke-width="0.9"/>
<path d="M689.8,416.6L689.8,416.8L689.9,416.8L692.2,415.5L692.2,414.6L691.4,414.3L690.5,414.7Z" fill="#f7ab05" stroke="#000" stroke-width="0.9"/>
<path d="M696.1,412.8L699.2,416.8L699.5,414.7L699.9,411.3L696.3,412.5Z" fill="#fad967" stroke="#000" stroke-width="0.9"/>
<path d="M692.6,412.4L693.6,410L692.7,409.1L691.8,409.3L690.8,410.7L691.5,412.4Z" fill="#fad967" stroke="#000" stroke-width="0.9"/>
<path d="M696.8,408.2L695.2,410.5L696.3,412.5L699.9,411.3L700.1,410.2Z" fill="#fad967" stroke="#000" stroke-width="0.9"/>
<path d="M689.8,413.9L690.5,414.7L691.4,414.3L691.1,412.8L689.9,412.9Z" fill="#fcfad0" stroke="#000" stroke-width="0.9"/>
<path d="M686.5,398.4L686,398.5L683.6,403.7L686,404.6L688,402.2Z" fill="#fad967" stroke="#000" stroke-width="0.9"/>
<path d="M703.5,370.9L691,374.2L690.8,375L694.7,382.8L705.5,381.7L705.6,381.6L705.6,381.5L708.2,378.9Z" fill="#fad967" stroke="#000" stroke-width="0.9"/>
<path d="M694.7,421.7L692.2,420.3L689.9,421.1L691,424.1L695.4,424.5Z" fill="#fad967" stroke="#000" stroke-width="0.9"/>
<path d="M689.9,421.1L689.4,421L686.8,424.8L688.3,427.1L688.7,427.1L691,424.1Z" fill="#fcfad0" stroke="#000" stroke-width="0.9"/>
<path d="M677.6,409L680.1,408.3L680.1,405.3L676.3,406.1L676.7,408.6Z" fill="#fad967" stroke="#000" stroke-width="0.9"/>
<path d="M677.7,395.2L678.1,396.9L686,398.5L686.5,398.4L687.1,397.8L686.4,396.3L686.4,396.3L686.4,396.3L686.4,396.3L686.4,396.3L686.4,396.3L686.4,396.3L686.4,396.3L686.4,396.3L686.4,396.3L688.1,392.6L687.9,392.3L684.3,391.5Z" fill="#fad967" stroke="#000" stroke-width="0.9"/>
<path d="M688.8,411.2L687.8,410.2L685.8,411.8L686,412.9L687.6,413.5L688,413.3L688.9,412.1Z" fill="#fcfad0" stroke="#000" stroke-width="0.9"/>
<path d="M645.1,476.9L666.8,476.9L667.5,472.5L667.8,471.2L645.8,465.5Z" fill="#fad967" stroke="#000" stroke-width="0.9"/>
<path d="M697.2,352.7L700.6,351.8L698.2,347.1L698.2,347.1L694.3,335.3L694.3,335.3L694.3,335.3L694.3,335.3L694.3,335.3L684.5,335.3L684.5,335.3L684,343.4L683.5,352Z" fill="#fad967" stroke="#000" stroke-width="0.9"/>
<path d="M681.2,403.7L680.1,405.3L680.1,408.3L681,408.1L681,408.1L681,408.1L681,408.1L681,408.1L681,408.1L681,408.1L681,408.1L681,408.1L681,408.1L681,408.1L681,408.1L681,408.1L681,408.1L681,408.1L682.2,410.4L682.7,410.2L683.6,409L682.8,403.9Z" fill="#f7ab05" stroke="#000" stroke-width="0.9"/>
<path d="M647,420.8L647.7,420.8L647,420.7ZM651.5,396L647,399.4L647,413.6L656.4,414L656.4,414L661.1,414.2L661.3,413.3L660.1,413L660.1,413L660.1,413L660.1,413L660.1,413L660.1,413L660.1,413L660.1,413L660.1,413L660.1,413L660.1,413L660.1,413L660.1,413L660.1,413L660.1,413L660.1,407.3L660.1,407.3L660.1,407.3L660.1,407.3L660.1,407.3L660.1,407.3L660.1,407.3L660.1,407.3L660.1,407.3L660.1,407.3L660.1,407.3L660.1,407.3L660.1,407.3L660.1,407.3L660.1,407.3L660.1,407.3L660.1,407.3L662.7,407.4L663.2,405.6L658.9,403.7L658.9,403.7L658.9,403.7L658.9,403.7L658.9,403.7L658.9,403.7L658.9,403.7L658.9,403.7L658.9,403.7L656.1,396.3Z" fill="#fad967" stroke="#000" stroke-width="0.9"/>
<path d="M642.5,461L636.8,461.4L636.8,461.4L636.8,461.4L636.8,461.4L636.8,461.4L636.8,461.4L636.8,461.4L636.8,461.4L636.8,461.4L636.8,461.4L636.8,461.4L636.8,461.4L636.8,461.4L636.8,461.4L634.4,455.6L619.3,476.9L645.1,476.9L645.8,465.5Z" fill="#fad967" stroke="#000" stroke-width="0.9"/>
<path d="M686.4,417.5L686.2,415.9L684.7,414.7L684.3,414.8L682.3,418.4L683.3,419.4Z" fill="#f7ab05" stroke="#000" stroke-width="0.9"/>
<path d="M695.4,424.5L691,424.1L688.7,427.1L692,429.5L693.3,428.2L696.2,425.4Z" fill="#fcfad0" stroke="#000" stroke-width="0.9"/>
<path d="M689.8,416.6L688.8,415.7L687.5,415.3L686.2,415.9L686.4,417.5L688.5,418.8L689.8,416.8Z" fill="#fad967" stroke="#000" stroke-width="0.9"/>
<path d="M684.9,437.8L688.4,433.1L692,429.5L688.7,427.1L688.3,427.1L682.1,432.4Z" fill="#fad967" stroke="#000" stroke-width="0.9"/>
<path d="M684.7,414.7L686.2,415.9L687.5,415.3L687.6,413.5L686,412.9Z" fill="#fad967" stroke="#000" stroke-width="0.9"/>
<path d="M673.5,412L673.2,414.7L673.2,414.7L673.2,414.7L673.2,414.7L673.2,414.7L673.2,414.7L673.2,414.7L673.2,414.7L673.2,414.7L673.2,414.7L673.2,414.7L673.2,414.7L673.2,414.7L673.2,414.7L673.2,414.7L673.2,414.7L669.1,414.6L671.2,414.7L671.2,414.7L671.2,414.7L671.2,414.7L671.2,414.7L671.2,414.7L671.2,414.7L671.2,414.7L671.2,414.7L671.2,414.7L671.2,414.7L671.2,414.7L672.5,417.7L679.3,414.8L679.6,413.8L677.6,413.5L677.6,413.5L677.6,413.5L677.6,413.5L677.6,413.5L677.6,413.5L677.6,413.5L677.6,413.5L677.6,413.5L677.6,413.5L677.6,413.5L677.6,413.5L677.6,413.5L677.6,413.5L677.6,413.5L677.5,412.3ZM662.5,414.3L666.1,414.4L663.9,413.9Z" fill="#fcfad0" stroke="#000" stroke-width="0.9"/>
<path d="M696,394.3L697.2,391.8L692.3,385.7L690.9,386.2L687.9,392.3L688.1,392.6L688.4,391.8L688.4,391.8L688.4,391.8L688.4,391.8L688.4,391.8L688.4,391.8L688.4,391.8L688.4,391.8L688.4,391.8L688.4,391.8L688.4,391.8L688.4,391.8L692.8,391.3L692.8,391.3L692.8,391.3L692.8,391.3L692.8,391.3L692.8,391.3L692.8,391.3L692.8,391.3L692.8,391.3L692.8,391.3L692.8,391.3L692.8,391.3L692.8,391.3L692.8,391.4L692.8,391.4L692.8,391.4L692.8,391.4L693.2,394.7Z" fill="#fad967" stroke="#000" stroke-width="0.9"/>
<path d="M690.9,386.2L692.3,385.7L694.7,382.8L690.8,375L683.6,380.7L683.4,381.9Z" fill="#fad967" stroke="#000" stroke-width="0.9"/>
<path d="M668.2,437.8L675.6,430.3L673.6,425.1L671.2,428.2L671.2,428.2L671.2,428.2L671.2,428.2L671.2,428.2L671.2,428.2L671.2,428.2L671.2,428.2L671.2,428.2L671.2,428.2L671.2,428.2L671.2,428.2L671.2,428.2L671.2,428.2L671.2,428.2L671.2,428.2L671.2,428.2L671.2,428.2L671.2,428.2L671.2,428.2L666.3,422.2L667.8,426.3L667.8,426.3L668.8,430.7L668.8,430.7L668.8,430.7L668.8,430.7L668.8,430.7L667.5,437.9Z" fill="#fad967" stroke="#000" stroke-width="0.9"/>
<path d="M676.3,406.1L680.1,405.3L681.2,403.7L678.2,399L672,403.1Z" fill="#fad967" stroke="#000" stroke-width="0.9"/>
<path d="M683.6,423.2L686.8,424.8L689.4,421L688.7,420.2L684,421.3Z" fill="#fad967" stroke="#000" stroke-width="0.9"/>
<path d="M632.2,356.1L634.3,354.5L633.1,344.7L633.1,344.7L633.1,344.7L634,335.3L611.2,335.3L611.2,343.8Z" fill="#fad967" stroke="#000" stroke-width="0.9"/>
<path d="M684.3,391.5L687.9,392.3L690.9,386.2L683.4,381.9L681.5,383.8Z" fill="#fad967" stroke="#000" stroke-width="0.9"/>
<path d="M691.6,403L688,402.2L686,404.6L687.9,407L691,404.7Z" fill="#fad967" stroke="#000" stroke-width="0.9"/>
<path d="M692.6,412.4L691.5,412.4L691.1,412.8L691.4,414.3L692.2,414.6L692.1,412.5L692.1,412.5L692.1,412.5L692.1,412.5L692.1,412.5L692.1,412.5L692.1,412.5L692.1,412.5L692.1,412.5L692.1,412.5L692.1,412.5L692.1,412.5L692.1,412.5L692.1,412.5L692.1,412.5L692.1,412.5L692.1,412.5L692.6,412.4Z" fill="#fad967" stroke="#000" stroke-width="0.9"/>
<path d="M692.6,412.4L692.6,412.4L695.3,412.2L695.3,412.2L695.3,412.2L695.3,412.2L695.3,412.2L695.3,412.2L695.3,412.2L695.3,412.2L695.3,412.2L695.3,412.2L695.3,412.2L695.3,412.2L695.3,412.2L695.3,412.2L695.3,412.2L695.6,413.3L696.1,412.8L696.3,412.5L695.2,410.5L693.6,410Z" fill="#fcfad0" stroke="#000" stroke-width="0.9"/>
<path d="M677.9,448.3L680.8,443.4L668.2,437.8L667.5,437.9L667.5,438.1L666.3,445.4L667.9,450.1Z" fill="#fad967" stroke="#000" stroke-width="0.9"/>
<path d="M688,413.3L689.1,414.2L689.8,413.9L689.9,412.9L688.9,412.1Z" fill="#fad967" stroke="#000" stroke-width="0.9"/>
<path d="M667.9,450.1L668.8,452.8L668.8,452.8L668.8,452.8L668.8,452.8L668.8,452.8L668.8,452.8L668.8,452.8L668.8,452.8L668.8,452.8L668.7,452.8L668.7,452.8L668.7,452.8L668.7,452.8L668.7,452.8L668.7,452.8L668.7,452.8L664.5,454.9L669.3,466.1L671.2,461.4L673.6,455.3L677.3,449.1L677.9,448.3Z" fill="#fad967" stroke="#000" stroke-width="0.9"/>
<path d="M638.7,396.5L647,399.4L651.5,396L645.4,386.5L642.9,388.9L642.9,388.9L642.9,388.9L642.9,388.9L642.9,388.9L642.9,388.9L642.9,388.9L642.9,388.9L642.9,388.9L642.9,388.9L642.9,388.9L642.9,388.9L642.9,388.9L642.9,388.9L642.9,388.9L642.9,388.9L638.1,385.1Z" fill="#fad967" stroke="#000" stroke-width="0.9"/>
<path d="M696.9,418.3L695.3,417.2L695.3,417.4L695.3,417.4L695.3,417.4L695.3,417.4L695.3,417.4L695.3,417.4L695.3,417.4L695.3,417.4L695.3,417.4L695.3,417.4L695.3,417.4L695.3,417.4L695.3,417.4L695.3,417.4L695.3,417.4L695.3,417.4L693.8,417.2L692.6,418.2L692.2,420.3L694.7,421.7Z" fill="#fad967" stroke="#000" stroke-width="0.9"/>
<path d="M693.8,417.2L692.3,416.9L692.3,416.9L692.3,416.9L692.3,416.9L692.3,416.9L692.3,416.9L692.3,416.9L692.3,416.9L692.3,416.9L692.3,416.9L692.3,416.9L692.3,416.9L692.3,416.9L692.3,416.9L692.3,416.9L692.2,415.5L689.9,416.8L692.6,418.2Z" fill="#fad967" stroke="#000" stroke-width="0.9"/>
<path d="M699.9,390.6L697.2,391.8L696,394.3L698.2,398.5L702.8,397.6L703.1,396.3L703.5,394.4Z" fill="#fad967" stroke="#000" stroke-width="0.9"/>
<path d="M696.2,406L697.4,403L696.9,402L692.8,401.9L691.6,403L691,404.7L693.2,407.6Z" fill="#fad967" stroke="#000" stroke-width="0.9"/>
<path d="M687.5,407.7L683.6,409L682.7,410.2L685.8,411.8L687.8,410.2Z" fill="#fad967" stroke="#000" stroke-width="0.9"/>
<path d="M696.9,418.3L699,418.1L699.2,416.8L696.1,412.8L695.6,413.3L696,414.9L696,415L696,415L696,415L696,415L696,415L696,415L695.3,417.2Z" fill="#fad967" stroke="#000" stroke-width="0.9"/>
<path d="M611.2,375.6L611.2,378.7L622.8,389.4L636.6,383.5L634.3,377.9L627,379.1L627,379.1L627,379.1L626.9,379.1L626.9,379.1L626.9,379.1L626.9,379.1L626.9,379.1L626.9,379.1L626.9,379.1L626.9,379.1L626.9,379.1L626.9,379.1L624.5,375.4L624.5,375.4L624.5,375.4L624.5,375.4L624.5,375.4L624.5,375.4L624.5,375.4L624.5,375.4L624.5,375.4L624.5,375.4L624.5,375.4L624.5,375.4L628.8,367.8Z" fill="#fad967" stroke="#000" stroke-width="0.9"/>
<path d="M697.2,352.7L683.5,352L683.5,352L683.5,352L683.5,352L683.5,352L683.5,352L683.5,352L683.5,352L683.5,352L683.5,352.1L679.1,355.7L674.9,359.4L673.7,363.1L675.4,368.2L688,369.7Z" fill="#fad967" stroke="#000" stroke-width="0.9"/>
<path d="M663.8,386.4L666.3,382.8L668.7,379.1L663.8,371.7L666.3,365.6L673.6,363.1L674.9,359.4L679.1,355.7L683.5,352L684,343.4L684.5,335.3L634,335.3L633.1,344.7L634.3,354.5L628.2,359.4L629.4,366.8L624.5,375.4L627,379.1L634.3,377.8L636.8,384L642.9,388.9L647.8,384L656.4,385.2Z" fill="#fcfad0" stroke="#000" stroke-width="1"/>
<path d="M732.6,335.3L694.3,335.3L698.2,347.1L700.7,352L703.1,357L709.3,358.2L715.4,359.4L719.1,357L722.8,354.5L725.8,349.6L728.9,344.7L730.7,340.2ZM717.4,349.6L721.6,345.9L724.5,342.2L725.8,345.9L722.3,350.8L719.1,354.5L716.7,355.7Z" fill="#f7ab05" stroke="#000" stroke-width="1"/>
<path d="M677.3,393.8L676.1,388.9L676.6,381.5L677.3,374.2L675.6,368.7L673.6,363.1L666.3,365.6L663.8,371.7L668.7,379.1L663.8,386.4L665.2,389.3L666.3,388.9L668.7,396.3L671.2,403.6L674.9,401.2L678.6,398.7Z" fill="#f7ab05" stroke="#000" stroke-width="1"/>
<path d="M658.9,403.6L663.3,405.6L667.5,407.3L671.2,403.6L668.7,396.3L666.3,388.9L660.9,390.9L655.2,393.8Z" fill="#f7ab05" stroke="#000" stroke-width="1"/>
<path d="M652.8,435.6L647.8,435.6L644.2,428.2L647.8,420.9L644.2,420.9L643.7,419.8L642.9,419.6L642.9,418L640.5,412.3L634.3,411L623.3,412.3L619.6,404.9L611.2,408.6L611.2,450.6L634.3,455.3L636.8,461.4L654,460.2L658.9,457.7L668.7,452.8L666.3,445.4L654,443Z" fill="#f7ab05" stroke="#000" stroke-width="1"/>
<path d="M656.4,423.3L666.3,422.1L671.2,428.2L674.9,423.3L671.2,414.7L666.3,414.5L666.3,414.5L666.3,414.5L656.4,414L642.9,413.5L642.9,419.6L647.8,420.9L644.2,428.2L647.8,435.6L652.8,435.6L654.5,429.5Z" fill="#f7ab05" stroke="#000" stroke-width="1"/>
<path d="M668.7,430.7L667.7,426.3L666.3,422.1L656.4,423.3L654.5,429.5L652.8,435.6L654,443L666.3,445.4L667.5,438.1Z" fill="#fcfad0" stroke="#000" stroke-width="1"/>
<path d="M667.5,407.6L660.1,407.3L660.1,413L666.3,414.5L673.2,414.7L673.6,409.8Z" fill="#fcfad0" stroke="#000" stroke-width="1"/>
<path d="M693.3,396.3L692.8,391.4L688.4,391.9L686.4,396.3L688.4,400.7L692.8,401.2Z" fill="#fcfad0" stroke="#000" stroke-width="1"/>
<path d="M682.5,411L681,408.1L677.3,409.1L677.6,413.5L681.5,414Z" fill="#fa6405" stroke="#000" stroke-width="1"/>
<path d="M695.3,417.4L696,415L695.3,412.3L692.1,412.5L692.3,416.9Z" fill="#fa6405" stroke="#000" stroke-width="1"/>
<path d="M716.7,355.7L719.1,354.5L722.3,350.8L725.8,345.9L724.5,342.2L721.6,345.9L717.4,349.6Z" fill="#fcfad0" stroke="#000" stroke-width="1"/>
<path d="M667.5,472.5L668.7,467.5L671.2,461.4L673.6,455.3L677.3,449.1L681,443L684.7,438.1L688.4,433.1L693.3,428.2L698.2,423.3L699.5,414.7L700.7,406.1L701.9,401.2L703.1,396.3L704.4,388.9L705.6,381.5L709.3,377.8L713,374.2L715.4,368L717.9,361.9L720.3,358.2L722.8,354.5L725.8,349.6L728.9,344.7L730.7,340.2L732.6,335.3L611.2,335.3L611.2,476.9L666.8,476.9Z" fill="none" stroke="#000" stroke-width="1.1"/>
<path d="M690.4,367.3h1v1h-1zM690.7,366.6h1.5v1h-1.5zM690.7,368.4h2v1h-2zM689.2,368.8h1v2.5h-1zM691.2,374.3h1v1.5h-1zM690.9,370.9h2.5v1.5h-2.5zM688.1,371.5h2.5v2h-2.5zM692.6,368.3h1.5v1h-1.5zM687,368.6h1v2h-1zM689.2,372.7h2v2h-2zM692.9,369.1h1v1.5h-1zM686.2,367.7h1v2.5h-1zM687.2,367.1h1v2h-1zM693.5,372.4h2v1h-2zM693,369.8h2v1h-2zM693.3,371.9h1v1.5h-1zM692,370.3h2.5v1.5h-2.5zM686.3,371.6h1v1h-1zM688,368.7h1v2.5h-1zM691.3,371.9h2.5v2h-2.5zM686.8,371.5h2v1h-2zM692.9,372.6h2v1.5h-2zM691.8,371.4h2v1h-2zM686.1,372.9h1v1h-1zM688.3,371.8h2.5v2.5h-2.5zM690.2,373.9h1v1.5h-1zM688.7,373.2h1.5v1h-1.5zM690.6,369.3h2v1h-2zM688.4,368.8h2v2h-2zM691.9,371.1h1v2.5h-1zM691.1,366.6h1v2.5h-1zM688.5,373.7h1v1h-1zM690.2,367.3h2v1h-2zM689.9,370.1h1v1h-1zM691,370h2v1.5h-2zM686.9,370.9h1v1.5h-1zM687.1,373.8h1v2h-1zM690,366.1h1v1.5h-1zM689.5,369.9h2v1.5h-2zM691.7,371.2h2v2.5h-2zM689.9,377.5h1.5v1h-1.5zM695.1,378.7h2.5v2h-2.5zM693.3,374.5h1.5v1.5h-1.5zM692.3,379.2h2.5v2h-2.5zM698.5,375.3h2.5v1h-2.5zM696.8,374.9h1.5v1h-1.5zM692.2,375.5h2v2h-2zM689.4,379h2.5v1h-2.5zM692.5,380.4h2v1.5h-2zM692.7,381.9h1.5v1h-1.5zM697.5,379.5h1.5v1h-1.5zM696,380.5h1v1h-1zM695.9,381.1h1v1.5h-1zM691.3,377.2h2v1h-2zM694.4,379.1h1v1h-1zM697.4,373.8h2v2h-2zM691.7,375h2.5v2.5h-2.5zM697.2,376.6h1.5v1.5h-1.5zM693.9,374.3h2v1h-2zM693.1,378.8h1.5v2.5h-1.5zM696.5,381.8h2.5v2h-2.5zM693.7,377.3h1.5v1.5h-1.5zM691.2,381.2h2.5v1h-2.5zM697.1,380.5h1v1h-1zM692.4,373.4h1v1.5h-1zM691,377.3h1v1h-1zM697,375.8h1v1h-1zM696,381.9h2.5v1h-2.5zM691.6,378.4h1.5v2.5h-1.5zM692.2,375.9h1v1h-1zM695.2,379.1h1v1.5h-1zM692,373.5h1.5v1h-1.5zM696.8,377.6h2v2h-2zM696.7,376.8h1v2.5h-1zM696.9,377.7h1.5v1h-1.5zM695.3,373.5h1v1.5h-1zM693.7,381.6h1v2h-1zM695.7,379.8h1.5v2h-1.5zM694.6,382h2.5v2.5h-2.5zM691.8,376.3h2v1.5h-2zM694.7,377.6h2v2.5h-2zM691,375.1h1v1.5h-1zM697.7,377.5h1.5v2h-1.5zM696.3,373.7h1.5v2.5h-1.5zM694.1,377.4h2v1.5h-2zM693.6,378h2v2.5h-2zM695.6,382.7h1v1h-1zM692.7,381.9h1v2.5h-1zM689.6,377.4h1v1h-1zM695.6,376.6h2v1h-2zM702.7,388h1.5v2h-1.5zM699.1,386.1h1.5v2h-1.5zM700.8,386.5h1v1h-1zM702.1,387.5h1v1h-1zM703.2,385.9h1v1.5h-1zM700.7,386.3h1v2.5h-1zM697.8,384.4h1v1h-1zM702.4,385.3h1v1h-1zM701.8,382.7h1v1.5h-1zM698.3,385.4h2v1h-2zM698,385.6h1.5v2.5h-1.5zM701.2,383.2h2.5v2.5h-2.5zM702.8,383.7h1v1.5h-1zM699.8,383.3h1v1h-1zM700.3,383h2.5v1h-2.5zM697.8,383.9h2v1.5h-2zM700.1,383.8h1v1h-1zM699,383.6h2.5v2.5h-2.5zM699.3,388.1h1v1.5h-1zM699.9,385.4h2v2.5h-2zM699.2,384.6h2.5v1h-2.5zM701.8,382.5h2v2.5h-2zM702.6,385.2h1v2.5h-1zM699.8,386.2h1v1h-1zM700.4,387.6h2.5v2.5h-2.5zM706.6,371.6h1v2h-1zM707,371.3h1v2h-1zM705.5,371.2h2.5v1h-2.5zM706.5,369.4h1.5v2h-1.5zM703.6,368.7h2v1h-2zM703.7,370.2h1.5v1h-1.5zM707.4,371.3h2v1h-2zM704,368.8h1v1h-1zM703.9,366.8h1v2h-1zM705.1,367.1h2v1h-2zM705.3,371.4h2.5v2h-2.5zM705,367.7h1v2h-1zM705.5,369.2h2v2h-2zM706.8,370.8h1v2.5h-1zM707.5,369h1.5v1.5h-1.5zM704.6,369h1v1h-1zM701.4,396.3h1.5v2h-1.5zM699.6,396.2h2.5v1.5h-2.5zM701,395.4h1v1h-1zM697.6,396.7h1v2h-1zM699.8,396h2v1h-2zM698.2,395.7h1v1h-1zM698,395.6h1v2.5h-1zM699.7,397.6h2.5v1h-2.5zM699.7,398h2v1.5h-2zM701.2,397.2h1v2.5h-1zM690.2,409.5h1.5v2h-1.5zM687.6,405.5h2v1h-2zM686.3,411.9h1v1h-1zM697,413.7h1v1.5h-1zM691.4,404.8h2v1h-2zM698.2,408.9h1v2.5h-1zM694,412.4h1v2h-1zM692.6,406.9h1.5v1h-1.5zM693.6,403.7h1v1.5h-1zM692.5,404.5h2.5v1.5h-2.5zM691.3,405.8h1v2.5h-1zM688.2,412.8h2.5v1.5h-2.5zM693.4,410.7h2v2h-2zM691.2,414.9h1v2.5h-1zM697.6,409.9h1.5v2h-1.5zM695.9,409.6h1.5v2.5h-1.5zM695.8,411.9h2.5v1h-2.5zM696.1,406.9h1v2.5h-1zM694,404.5h2v1h-2zM691.3,408.6h2.5v2h-2.5zM695.1,408.4h2.5v1h-2.5zM691.9,404.1h2v1h-2zM694,410.6h1.5v1h-1.5zM693.4,406.8h2v1h-2zM692.5,412.3h1v1.5h-1zM687.2,413.2h1v1h-1zM687.8,414.2h2v2.5h-2zM691.7,409h1v1.5h-1zM693.4,406.5h2v2.5h-2zM695.6,410.7h1v1h-1zM688.8,406h1v1h-1zM687.9,411.8h1v1.5h-1zM689.3,412.7h1v2h-1zM689,414.1h1v1h-1zM694.6,414.1h2v1.5h-2zM695.9,407.5h2v1.5h-2zM696.8,407.5h2.5v1.5h-2.5zM695.4,404.8h1.5v1h-1.5zM693.7,404.4h1v2.5h-1zM693.6,415.1h1.5v2.5h-1.5zM690.2,414.5h1.5v2.5h-1.5zM693.8,405.1h2v2h-2zM693.1,405.9h1.5v2h-1.5zM692.1,412.4h1v1.5h-1zM695.3,407.7h1v1h-1zM692.2,413.7h2v1.5h-2zM695.4,411.2h1.5v1h-1.5zM692,408.9h1v1.5h-1zM691.3,412.5h1v1h-1zM693.7,413h2.5v2.5h-2.5zM687.8,411.2h2.5v1.5h-2.5zM693,410.8h1v1.5h-1zM694.8,414h1.5v1h-1.5zM694.5,406h2.5v1h-2.5zM690,411h1v2h-1zM696.9,406.6h2.5v2.5h-2.5zM691.5,416h2v2h-2zM687.4,411.6h1.5v1h-1.5zM693.3,410.8h1.5v1h-1.5zM696.4,412.4h1v1h-1zM689.8,423h2.5v2h-2.5zM690.1,424.3h1.5v2.5h-1.5zM692,421.9h1v1h-1zM691.3,423.1h1v2.5h-1zM692.2,425.2h1v1.5h-1zM684.4,420.6h2.5v1h-2.5zM693.3,422.1h1v2h-1zM685.5,418.3h2v1.5h-2zM687.9,420.9h2v2h-2zM685.5,424h2v2.5h-2zM691.8,424.7h1v2.5h-1zM689,419.7h1v2h-1zM689,421.4h2v2h-2zM691.4,422.6h2v2.5h-2zM690.3,425.5h1.5v1h-1.5zM691.2,418.1h2v1.5h-2zM687.2,423.5h1v2.5h-1zM691.4,418.9h2v2.5h-2zM691.1,421h2v2.5h-2zM689,424.9h1v2.5h-1zM690,423.7h1v2.5h-1zM688.1,424h2.5v2.5h-2.5zM688,422.1h2.5v2h-2.5zM692,416.2h2v1h-2zM690.5,422.3h1.5v2h-1.5zM689.6,426.1h1.5v2.5h-1.5zM694.6,421.5h1.5v1.5h-1.5zM694.5,422.1h1.5v1h-1.5zM694.3,420.9h2v1.5h-2zM690.6,421h1v1h-1zM688.5,417.2h1v1h-1zM686.7,416.7h2v2h-2zM688.3,417.2h1v2.5h-1zM687.8,421.5h1.5v2h-1.5zM688.9,423.1h2.5v1h-2.5zM691,416.6h1.5v2h-1.5zM691,415.8h1v2.5h-1zM689.7,424.3h1.5v1h-1.5zM687.2,422.8h2.5v1.5h-2.5zM689.2,425.9h1v2.5h-1zM682.4,433.9h2.5v2h-2.5zM682.3,433.8h1v1h-1zM683.8,434.5h1.5v1h-1.5zM683.9,431.3h1v1.5h-1zM686.7,433.4h2.5v1.5h-2.5zM681.9,432.1h1v2h-1zM684.2,433.3h2.5v1.5h-2.5zM684.5,432.1h1.5v2h-1.5zM684.5,435.1h1v2.5h-1zM685.7,434.8h2.5v1h-2.5zM684.7,429.7h2v1h-2zM686.4,430.6h2.5v1.5h-2.5zM684,429.2h1v1h-1zM686.1,431.8h2.5v1h-2.5zM686.2,431.5h1.5v2h-1.5zM683.8,434.7h1v1h-1zM683.1,430.4h1v2.5h-1zM686,431.5h2.5v1h-2.5zM686.1,434.7h1v2h-1zM686,433.5h1v1h-1zM696.1,406h1v1h-1zM696.6,407.4h2v1h-2zM694.3,407.7h2.5v1.5h-2.5zM693.6,407.1h2.5v1h-2.5zM695.1,406.6h1.5v2h-1.5zM697.1,404.1h1v2.5h-1zM697.3,407h2v1h-2zM697.4,405.9h1v2h-1zM696.9,405.8h2v1.5h-2zM697.1,406.4h2v1h-2zM697.7,405.5h1.5v2.5h-1.5zM694.6,407.2h1.5v1h-1.5zM694.1,405.3h1v1.5h-1zM695.1,403.8h1.5v2.5h-1.5zM725.4,341.6h1v1.5h-1zM725.7,341.7h1v2.5h-1zM725.9,342.6h2.5v2.5h-2.5zM725.2,340.6h2.5v1h-2.5z" fill="#000"/>
</g>
<rect x="611.5" y="335.5" width="124" height="142" fill="none" stroke="#000" stroke-width="1"/>
<clipPath id="c_melb"><rect x="553.272" y="488.518" width="123.379" height="116.006"/></clipPath>
<rect x="553.272" y="488.518" width="123.379" height="116.006" fill="#fff"/>
<g clip-path="url(#c_melb)">
<path d="M553.3,488.5L553.3,590.5L562.1,585.6L572,584.4L576.9,585.4L581.8,586.8L589.2,591.7L595.3,597.9L601.4,604.5L676.7,604.5L676.7,488.5ZM630.4,590.5L629.7,585.6L631.4,582.6L633.4,580.7L638.3,578.2L643.2,577L651.8,578.2L655,581.2L656.7,584.4L658.5,588.5L659.2,593L657,595.9L654.3,597.9L651.1,600.6L648.1,602.8L643.2,601.3L638.3,600.3L628.5,599.1L625.8,599.6L629,595.4ZM610.8,542.6L613.7,546.3L618.6,553.6L622.3,559.8L622.1,564L621.1,568.4L617.4,574.5L613.7,580.7L608.8,588.1L601.4,591.7L592.8,590.5L584.2,586.8L581.8,583.6L580.6,580.7L584.7,577L587.9,573.3L587.7,569.6L586.7,565.9L583,565L579.3,564.7L575.6,567.4L572,569.6L564.6,569.6L560.9,568.4L558.4,565.9L559.2,563L560.9,561L568.3,561L572.4,557.3L576.9,553.6L584.2,551.2L590.4,548.2L596.5,545L599,541.4L601.4,538.9L607.6,538.9ZM637.1,595.4L645.7,596.7L649.4,594.9L653.1,593L652.8,589.3L651.8,585.6L647.6,584.1L643.2,583.1L639.5,584.6L635.9,586.1L635.4,590.5Z" fill="#f7ab05"/>
<path d="M653.1,505.4L658,506.9L658,506.9L658,506.9L662.9,509.6L667.8,511.8L672.7,510.4L672.7,510.4L672.7,510.4L676.6,509.8L676.7,509.8L676.7,509.8L676.7,488.5L649.3,488.5ZM661.3,541.4L662.9,542.1L666.1,543.2L661.3,541.4ZM675.2,542.3L675.7,551.2L675.7,551.2L675.2,561L675.2,561L674,575.8L674,575.8L672.8,583L675.2,578.2L676.6,573.3L676.6,573.3L676.6,573.3L676.6,573.3L676.6,573.3L676.6,573.3L676.6,573.3L676.6,573.3L676.6,573.3L676.6,573.3L676.6,573.3L676.6,573.3L676.6,573.3L676.7,573.3L676.7,573.3L676.7,542.1Z" fill="#f7ab05" stroke="#000" stroke-width="0.9"/>
<path d="M582.2,504.9L585,508.2L585,508.2L587.9,511.9L587.9,511.9L587.9,511.9L587.9,511.9L589.9,516.8L589.9,516.8L591.6,521.7L591.6,521.7L591.6,521.7L591.6,521.7L591.6,531.5L591.6,531.5L591.6,531.5L591.6,531.5L591.6,531.5L591.6,531.5L591.6,531.5L591.6,531.5L591.6,531.5L591.6,531.5L591.6,531.5L591.6,531.5L591.6,531.5L591.6,531.5L591.6,531.5L591.6,531.5L591.6,531.5L580.6,531.1L580.6,531.1L576.7,530.8L576.6,531.7L580.6,531.8L580.6,531.8L591.6,532L591.6,532L591.6,532L598.7,533.9L592.8,531.5L592.8,531.5L592.8,531.5L592.8,531.5L592.8,531.5L592.8,531.5L592.8,531.5L592.8,531.5L592.8,531.5L592.8,531.5L592.8,531.5L592.8,531.5L592.8,531.5L592.8,519.2L592.8,519.2L592.8,519.2L592.8,519.2L592.8,519.2L592.8,519.2L592.8,519.2L592.8,519.2L592.8,519.2L592.8,519.2L592.8,519.2L592.8,519.2L592.8,519.2L592.8,519.2L592.8,519.2L592.8,519.2L592.8,519.2L607.5,519.2L582.6,502.6ZM632.1,564.3L632.1,561L623.6,559.8L623.6,559.8L623.6,559.8L623.6,559.8L623.6,559.8L623.6,559.8L623.6,559.8L623.5,559.8L623.5,559.8L618.7,553.8L622.3,559.8L622.1,563.1ZM635,547.1L632.2,546.3L632.2,547.5L635.5,548ZM601.4,538.9L601.4,538.9L601.4,538.9L601.4,538.9L601.4,538.9L599,534L592.9,540.1L596.5,545L599,541.4Z" fill="#f7ab05" stroke="#000" stroke-width="0.9"/>
<path d="M649.3,488.5L625.8,488.5L625.7,507.8L628.5,503.3L628.5,503.3L628.5,503.3L628.5,503.2L628.5,503.2L628.5,503.2L628.5,503.2L633.4,501L633.4,501L638.3,499.6L638.3,499.6L638.3,499.6L638.3,499.6L638.3,499.6L638.3,499.6L638.3,499.6L638.3,499.6L638.3,499.6L638.3,499.6L638.3,499.6L638.3,499.6L643.2,504.5L645.7,502L645.7,502L645.7,502L645.7,502L645.7,502L645.7,502L645.7,502L645.7,502L645.7,502L645.7,502L645.7,502L645.7,502L645.7,502L645.7,502L651.8,505L653.1,505.4ZM661.3,541.4L659.7,540.8L661.3,541.4ZM635.5,548L640.5,548.7L635,547.1Z" fill="#f7ab05" stroke="#000" stroke-width="0.9"/>
<path d="M625.8,488.5L575.8,488.5L582.6,502.6L607.5,519.2L608.8,519.2L608.8,519.2L616.2,520L623.5,520.4L624.3,514.8L624.8,509.4L624.8,509.4L624.8,509.4L624.8,509.4L624.8,509.4L624.8,509.4L625.7,507.8Z" fill="#f7ab05" stroke="#000" stroke-width="0.9"/>
<path d="M567.9,545.1L567.5,540.1L567.5,540.1L567,531.5L567,531.5L567,531.5L567,531.5L567,531.5L567,531.5L567,531.5L567,531.5L567,531.5L567,531.5L567,531.5L567,531.5L567,531.5L567,531.5L567,531.5L567,531.5L567,531.5L567,531.5L576.6,531.7L576.7,530.8L569.5,530.3L569.5,530.3L569.5,530.3L569.5,530.3L569.5,530.3L569.5,530.3L569.5,530.3L569.5,530.3L569.5,530.3L569.5,530.3L569.5,530.3L569.5,530.3L569.5,530.3L569.5,530.3L569.5,530.3L569.5,530.3L569.5,530.3L570,524.2L570,524.2L570.7,519.2L570.7,519.2L574.4,505.7L574.4,505.7L574.4,505.7L574.4,505.7L574.4,505.7L574.4,505.7L574.4,505.7L574.4,505.7L574.4,505.7L574.4,505.7L574.4,505.7L574.4,505.7L574.4,505.7L581.8,504.5L581.8,504.5L581.8,504.5L581.8,504.5L581.8,504.5L581.8,504.5L581.8,504.5L581.8,504.5L581.8,504.5L581.8,504.5L581.8,504.5L582.2,504.9L582.6,502.6L575.8,488.5L553.3,488.5L553.3,542Z" fill="#f7ab05" stroke="#000" stroke-width="0.9"/>
<path d="M579.5,564.7L579.3,564.7L575.6,567.4L572,569.6L564.6,569.6L560.9,568.4L558.4,565.9L559.2,563L560.9,561L568.3,561L572.4,557.3L576.8,553.7L572.4,551.2L572.4,551.2L568.3,548.7L568.3,548.7L568.3,548.7L568.2,548.7L568.2,548.7L568.2,548.7L568.2,548.7L568.2,548.7L568.2,548.7L568.2,548.7L568.2,548.7L567.9,545.1L553.3,542L553.3,590.5L560.5,586.5Z" fill="#f7ab05" stroke="#000" stroke-width="0.9"/>
<path d="M622.1,563.1L622.1,564L621.1,568.4L617.4,574.5L613.7,580.7L608.8,588.1L601.4,591.7L592.8,590.5L584.2,586.8L581.8,583.6L580.6,580.7L584.7,577L587.9,573.3L587.7,569.6L586.7,565.9L583,565L579.5,564.7L560.5,586.5L562.1,585.6L572,584.4L576.9,585.4L581.8,586.8L589.2,591.7L595.3,597.9L601.4,604.5L670.5,604.5L670.5,604.5L671,597.9L671,597.9L671.5,593L665.3,585.6L665.3,585.6L665.3,585.6L665.3,585.6L665.3,585.6L665.3,585.6L665.3,585.6L665.3,585.6L665.3,585.6L665.3,585.6L665.3,585.6L665.3,585.6L665.3,585.6L665.3,585.6L665.3,585.6L665.3,585.6L665.3,585.6L665.3,585.6L665.3,585.6L665.3,585.6L665.3,585.6L672.3,583.3L666.6,584.6L666.6,584.6L660.4,585.6L660.4,585.6L660.4,585.6L660.4,585.6L660.4,585.6L660.4,585.6L660.4,585.6L660.4,585.6L660.4,585.6L660.4,585.6L660.4,585.6L660.4,585.6L660.4,585.6L660.4,585.6L655.5,575.8L646.9,573.3L642.7,576L642.7,576L638.4,578.2L643.2,577L651.8,578.2L655,581.2L656.7,584.4L658.5,588.5L659.2,593L657,595.9L654.3,597.9L651.1,600.6L648.1,602.8L643.2,601.3L638.3,600.3L628.5,599.1L625.8,599.6L629,595.4L630.4,590.5L629.7,585.6L631.4,582.6L633.4,580.7L638.3,578.2L634.9,576.8L634.9,576.8L634.9,576.8L634.9,576.8L632.2,574.6L632.2,574.6L632.2,574.6L632.1,574.6L632.1,574.5L632.1,574.5L632.1,574.5L632.1,574.5L632.1,574.5L632.1,574.5L632.1,564.3Z" fill="#f7ab05" stroke="#000" stroke-width="0.9"/>
<path d="M587.9,511.9L585,508.2L581.8,504.5L574.4,505.7L570.7,519.2L570,524.2L569.5,530.3L580.6,531L591.6,531.5L591.6,521.7L589.9,516.8Z" fill="#f20000" stroke="#000" stroke-width="1"/>
<path d="M567.5,540.1L568.3,548.7L572.4,551.2L576.9,553.6L584.2,551.2L590.4,548.2L596.5,545L592.8,540.1L596,536.9L599,534L591.6,532L580.6,531.8L567,531.5Z" fill="#fa6405" stroke="#000" stroke-width="1"/>
<path d="M601.9,532.2L601.3,537.3L603.9,537.1L605.1,535.3L604.4,533L604.6,532.9Z" fill="#fad967" stroke="#000" stroke-width="0.9"/>
<path d="M603.9,537.1L601.3,537.3L600.9,537.8L601.4,538.9L605,538.9Z" fill="#fad967" stroke="#000" stroke-width="0.9"/>
<path d="M609.6,531.4L610.3,531.3L613.5,528.6L611.7,525.9L608.7,526.8L607.7,528.4Z" fill="#fad967" stroke="#000" stroke-width="0.9"/>
<path d="M629.4,538.1L629,543.6L635.9,544.8L636.4,536.9Z" fill="#fad967" stroke="#000" stroke-width="0.9"/>
<path d="M609.9,538L609.9,537.5L608.3,535.5L606.6,535.5L607.1,538.9L607.6,538.9L608.3,539.7Z" fill="#fad967" stroke="#000" stroke-width="0.9"/>
<path d="M620.2,544.4L626.4,546.6L628.3,544.1L622.6,539.5L621.1,540.5Z" fill="#fad967" stroke="#000" stroke-width="0.9"/>
<path d="M600.9,521.6L603.7,525.5L606,524.5L607.6,521.3L606.9,519.2L601.8,519.2Z" fill="#fad967" stroke="#000" stroke-width="0.9"/>
<path d="M609.6,531.4L607.7,528.4L606.3,528.6L605.3,532.4L608.8,530.3L609.6,531.5Z" fill="#fad967" stroke="#000" stroke-width="0.9"/>
<path d="M623.4,522.6L625.6,524L626.7,523.9L629.3,517.7L625.5,508.2L624.8,509.4L624.3,514.8L623.6,520.5L622.3,520.4Z" fill="#fad967" stroke="#000" stroke-width="0.9"/>
<path d="M614.3,541.5L614.1,538.7L613.9,538.5L609.9,538L608.3,539.7L610.8,542.6L612,544.1Z" fill="#fad967" stroke="#000" stroke-width="0.9"/>
<path d="M620.1,544.4L615.8,541.6L614.3,541.5L612,544.1L613.7,546.3L616,549.7Z" fill="#fad967" stroke="#000" stroke-width="0.9"/>
<path d="M626.7,523.9L628,524.8L634.5,524.2L634.6,521.9L629.3,517.7Z" fill="#fad967" stroke="#000" stroke-width="0.9"/>
<path d="M614.8,534.7L616.8,534.3L618.4,530.9L615,529.1L613.6,533.3Z" fill="#fad967" stroke="#000" stroke-width="0.9"/>
<path d="M647.6,532L651.1,543.5L651.8,543.1L658,540.1L664.9,542.7L661.9,529.6L653.7,525.6L650.7,526.6Z" fill="#fad967" stroke="#000" stroke-width="0.9"/>
<path d="M603.7,525.5L603.4,526.9L606.3,528.6L607.7,528.4L608.7,526.8L606,524.5Z" fill="#fad967" stroke="#000" stroke-width="0.9"/>
<path d="M644.8,522.9L638.6,527.2L642.4,532.7L647.6,532L650.7,526.6Z" fill="#fad967" stroke="#000" stroke-width="0.9"/>
<path d="M639.8,535.7L637,536L636.4,536.9L635.9,544.8L640.3,548.6L640.8,548.7L645.7,546.3L646.3,545.9Z" fill="#fad967" stroke="#000" stroke-width="0.9"/>
<path d="M617.3,523.2L617.7,524.2L620.1,525.5L623.4,522.6L622.3,520.4L618.9,520.2Z" fill="#fad967" stroke="#000" stroke-width="0.9"/>
<path d="M606,524.5L608.7,526.8L611.7,525.9L611.8,523.8L607.6,521.3Z" fill="#fad967" stroke="#000" stroke-width="0.9"/>
<path d="M644.8,522.9L650.7,526.6L653.7,525.6L654.6,516.9L646.7,509.9L643.2,519.2Z" fill="#fad967" stroke="#000" stroke-width="0.9"/>
<path d="M616,549.7L617.4,551.8L626.1,550.8L626.4,546.6L620.2,544.4L620.1,544.4Z" fill="#fad967" stroke="#000" stroke-width="0.9"/>
<path d="M593.6,522.1L597.5,526.8L598.6,526.3L600.2,522Z" fill="#fad967" stroke="#000" stroke-width="0.9"/>
<path d="M620.1,544.4L620.2,544.4L621.1,540.5L618.9,539.3L615.8,541.6Z" fill="#fad967" stroke="#000" stroke-width="0.9"/>
<path d="M596.2,529.6L597.5,526.8L593.6,522.1L592.8,521.8L592.8,530.5Z" fill="#fad967" stroke="#000" stroke-width="0.9"/>
<path d="M661.9,529.6L664.9,542.7L667.8,543.8L675.2,541.4L675.2,542.3L676.7,542L676.7,512.5Z" fill="#fad967" stroke="#000" stroke-width="0.9"/>
<path d="M625.2,530L628.5,529.6L628,524.8L626.7,523.9L625.6,524L623.4,528.3Z" fill="#fad967" stroke="#000" stroke-width="0.9"/>
<path d="M629.3,517.7L634.6,521.9L637.5,519.1L631.6,501.9L628.5,503.3L625.5,508.2Z" fill="#fad967" stroke="#000" stroke-width="0.9"/>
<path d="M609.9,537.5L611.1,535.5L608.3,535.5Z" fill="#fad967" stroke="#000" stroke-width="0.9"/>
<path d="M600.2,522L598.6,526.3L602.4,527.9L603.4,526.9L603.7,525.5L600.9,521.6Z" fill="#fad967" stroke="#000" stroke-width="0.9"/>
<path d="M600,532L596.2,529.6L592.8,530.5L592.8,531.5L598.6,533.8Z" fill="#fad967" stroke="#000" stroke-width="0.9"/>
<path d="M598.6,526.3L597.5,526.8L596.2,529.6L600,532L601.6,531.9L602.4,527.9Z" fill="#fad967" stroke="#000" stroke-width="0.9"/>
<path d="M647.6,532L642.4,532.7L639.8,535.7L646.3,545.9L651.1,543.5Z" fill="#fad967" stroke="#000" stroke-width="0.9"/>
<path d="M611.7,525.9L613.5,528.6L614.9,529L617.7,524.2L617.3,523.2L613.2,522.5L611.8,523.8Z" fill="#fad967" stroke="#000" stroke-width="0.9"/>
<path d="M629.4,538.1L636.4,536.9L637,536L633.4,530.7L630.8,531.3L628.3,536.2Z" fill="#fad967" stroke="#000" stroke-width="0.9"/>
<path d="M623.2,559.4L623.6,559.8L632.2,561L632.2,558.4L626.5,554.6Z" fill="#fad967" stroke="#000" stroke-width="0.9"/>
<path d="M613.6,533.3L615,529.1L614.9,529L613.5,528.6L610.3,531.3L612.3,533.6Z" fill="#fad967" stroke="#000" stroke-width="0.9"/>
<path d="M618.9,520.2L616.2,520L613.4,519.7L613.2,522.5L617.3,523.2Z" fill="#fad967" stroke="#000" stroke-width="0.9"/>
<path d="M661.9,529.6L676.7,512.5L676.7,509.9L672.7,510.4L667.8,511.9L666.7,511.4L654.6,516.9L653.7,525.6Z" fill="#fad967" stroke="#000" stroke-width="0.9"/>
<path d="M614.9,529L615,529.1L618.4,530.9L618.7,530.9L621,528.4L620.1,525.5L617.7,524.2Z" fill="#fad967" stroke="#000" stroke-width="0.9"/>
<path d="M611.8,523.8L613.2,522.5L613.4,519.7L608.8,519.2L606.9,519.2L607.6,521.3Z" fill="#fad967" stroke="#000" stroke-width="0.9"/>
<path d="M630.8,531.3L633.4,530.7L635.7,526.8L634.5,524.2L628,524.8L628.5,529.6Z" fill="#fad967" stroke="#000" stroke-width="0.9"/>
<path d="M626.5,554.6L626.3,551.1L626.1,550.8L617.4,551.8L618.6,553.6L623.2,559.4Z" fill="#fad967" stroke="#000" stroke-width="0.9"/>
<path d="M613.9,538.5L614.1,538.7L617.7,536.8L616.8,534.3L614.8,534.7L613.6,536.6Z" fill="#fad967" stroke="#000" stroke-width="0.9"/>
<path d="M618.3,537L623,535.1L618.7,530.9L618.4,530.9L616.8,534.3L617.7,536.8Z" fill="#fad967" stroke="#000" stroke-width="0.9"/>
<path d="M634.5,524.2L635.7,526.8L638.6,527.2L644.8,522.9L643.2,519.2L637.5,519.1L634.6,521.9Z" fill="#fad967" stroke="#000" stroke-width="0.9"/>
<path d="M618.9,539.3L621.1,540.5L622.6,539.5L623.6,535.3L623.6,535.3L623,535.1L618.3,537Z" fill="#fad967" stroke="#000" stroke-width="0.9"/>
<path d="M603.9,537.1L605,538.9L607.1,538.9L606.6,535.5L605.1,535.5L605.1,535.3Z" fill="#fad967" stroke="#000" stroke-width="0.9"/>
<path d="M611.2,535.3L611.3,535.5L611.1,535.5L609.9,537.5L609.9,538L613.9,538.5L613.6,536.6L611.6,535.3Z" fill="#fad967" stroke="#000" stroke-width="0.9"/>
<path d="M639.8,535.7L642.4,532.7L638.6,527.2L635.7,526.8L633.4,530.7L637,536Z" fill="#fad967" stroke="#000" stroke-width="0.9"/>
<path d="M623.6,535.3L628.3,536.2L630.8,531.3L628.5,529.6L625.2,530L623.6,535.3Z" fill="#fad967" stroke="#000" stroke-width="0.9"/>
<path d="M610.3,531.3L609.6,531.4L609.6,531.5L610.5,533L611.2,535.3L611.6,535.3L612.3,533.6Z" fill="#fad967" stroke="#000" stroke-width="0.9"/>
<path d="M593.6,522.1L600.2,522L600.9,521.6L601.8,519.2L601,519.2L592.8,519.2L592.8,521.8Z" fill="#fad967" stroke="#000" stroke-width="0.9"/>
<path d="M626.3,551.1L626.5,554.6L632.2,558.4L632.2,551.5Z" fill="#fad967" stroke="#000" stroke-width="0.9"/>
<path d="M614.3,541.5L615.8,541.6L618.9,539.3L618.3,537L617.7,536.8L614.1,538.7Z" fill="#fad967" stroke="#000" stroke-width="0.9"/>
<path d="M606.3,528.6L603.4,526.9L602.4,527.9L601.6,531.9L601.9,532.2L604.6,532.9L605.3,532.4Z" fill="#fad967" stroke="#000" stroke-width="0.9"/>
<path d="M601.3,537.3L601.9,532.2L601.6,531.9L600,532L598.6,533.8L599,534L600.9,537.8Z" fill="#fad967" stroke="#000" stroke-width="0.9"/>
<path d="M621,528.4L623.4,528.3L625.6,524L623.4,522.6L620.1,525.5Z" fill="#fad967" stroke="#000" stroke-width="0.9"/>
<path d="M646.7,509.9L654.6,516.9L666.7,511.4L662.9,509.7L658,507L651.8,505L645.7,502L644.8,502.9Z" fill="#fad967" stroke="#000" stroke-width="0.9"/>
<path d="M625.2,530L623.4,528.3L621,528.4L618.7,530.9L623,535.1L623.6,535.3Z" fill="#fad967" stroke="#000" stroke-width="0.9"/>
<path d="M637.5,519.1L643.2,519.2L646.7,509.9L644.8,502.9L643.2,504.5L638.3,499.6L633.4,501.1L631.6,501.9Z" fill="#fad967" stroke="#000" stroke-width="0.9"/>
<path d="M626.3,551.1L632.2,551.5L632.2,547.5L632.2,546.3L640.3,548.6L635.9,544.8L629,543.6L628.3,544.1L626.4,546.6L626.1,550.8Z" fill="#fad967" stroke="#000" stroke-width="0.9"/>
<path d="M622.6,539.5L628.3,544.1L629,543.6L629.4,538.1L628.3,536.2L623.6,535.3Z" fill="#fad967" stroke="#000" stroke-width="0.9"/>
<path d="M611.6,535.3L613.6,536.6L614.8,534.7L613.6,533.3L612.3,533.6Z" fill="#fad967" stroke="#000" stroke-width="0.9"/>
<path d="M645.7,502L643.2,504.5L638.3,499.6L633.4,501.1L628.5,503.3L624.8,509.4L624.3,514.8L623.6,520.5L616.2,520L608.8,519.2L601,519.2L592.8,519.2L592.8,531.5L599,534L601.4,538.9L607.6,538.9L610.8,542.6L613.7,546.3L618.6,553.6L623.6,559.8L632.2,561L632.2,547.5L632.2,546.3L640.8,548.7L645.7,546.3L651.8,543.1L658,540.1L667.8,543.8L675.2,541.4L675.2,542.3L676.7,542L676.7,509.9L672.7,510.4L667.8,511.9L662.9,509.7L658,507L651.8,505ZM610.5,533L611.3,535.5L605.1,535.5L604.4,533L608.8,530.3Z" fill="none" stroke="#000" stroke-width="1"/>
<path d="M644.9,552.4L645.7,546.3L640.8,548.7L632.2,547.5L632.2,561L632.2,574.5L634.9,576.8L638.3,578.2L642.7,576L646.9,573.3L645.7,565.9L644.5,558.6Z" fill="#fa6405" stroke="#000" stroke-width="1"/>
<path d="M646.9,573.3L655.5,575.8L658,580.7L660.4,585.6L666.6,584.6L672.7,583.1L673.9,575.8L675.2,561L675.7,551.2L675.2,541.4L667.8,543.8L662.9,542.1L658,540.1L651.8,543.1L645.7,546.3L644.9,552.4L644.5,558.6L645.7,565.9Z" fill="#fa6405" stroke="#000" stroke-width="1"/>
<path d="M610.5,533L608.8,530.3L604.4,533L605.1,535.5L611.3,535.5Z" fill="#f20000" stroke="#000" stroke-width="1"/>
<path d="M672.7,583.1L665.3,585.6L671.5,593L671,597.9L670.5,604.5L676.7,604.5L676.7,573.3L675.2,578.2Z" fill="#fad967" stroke="#000" stroke-width="1"/>
<path d="M635.9,586.1L635.4,590.5L637.1,595.4L645.7,596.7L649.4,594.9L653.1,593L652.8,589.3L651.8,585.6L647.6,584.1L643.2,583.1L639.5,584.6Z" fill="#dfdfe0" stroke="#000" stroke-width="1"/>
<path d="M553.3,488.5L553.3,590.5L562.1,585.6L572,584.4L576.9,585.4L581.8,586.8L589.2,591.7L595.3,597.9L601.4,604.5L676.7,604.5L676.7,488.5ZM630.4,590.5L629.7,585.6L631.4,582.6L633.4,580.7L638.3,578.2L643.2,577L651.8,578.2L655,581.2L656.7,584.4L658.5,588.5L659.2,593L657,595.9L654.3,597.9L651.1,600.6L648.1,602.8L643.2,601.3L638.3,600.3L628.5,599.1L625.8,599.6L629,595.4ZM610.8,542.6L613.7,546.3L618.6,553.6L622.3,559.8L622.1,564L621.1,568.4L617.4,574.5L613.7,580.7L608.8,588.1L601.4,591.7L592.8,590.5L584.2,586.8L581.8,583.6L580.6,580.7L584.7,577L587.9,573.3L587.7,569.6L586.7,565.9L583,565L579.3,564.7L575.6,567.4L572,569.6L564.6,569.6L560.9,568.4L558.4,565.9L559.2,563L560.9,561L568.3,561L572.4,557.3L576.9,553.6L584.2,551.2L590.4,548.2L596.5,545L599,541.4L601.4,538.9L607.6,538.9ZM637.1,595.4L645.7,596.7L649.4,594.9L653.1,593L652.8,589.3L651.8,585.6L647.6,584.1L643.2,583.1L639.5,584.6L635.9,586.1L635.4,590.5Z" fill="none" stroke="#000" stroke-width="1.1"/>
<path d="M606.7,534.5h1.5v2.5h-1.5zM605.4,534.1h1v2.5h-1zM604.5,534.4h2.5v2.5h-2.5zM605.1,533.6h1.5v1.5h-1.5zM606.7,535.4h1.5v1h-1.5zM607.3,535.4h1v1h-1zM605.8,535.3h2v2h-2zM605.4,533.4h1v1h-1zM581.9,579.4h2v2h-2zM585,577.8h1.5v1h-1.5zM585.6,579.3h1v2h-1zM586.2,580.2h1v1h-1zM584.8,578.8h2.5v1.5h-2.5zM586.3,579.4h1v1.5h-1zM584.5,581.5h1.5v2.5h-1.5zM585.8,578h2.5v1.5h-2.5zM591.5,589.2h1.5v2h-1.5zM588.7,584.7h1v2h-1zM590.9,588h2.5v2.5h-2.5zM591.6,589.9h2.5v1h-2.5zM591.1,587.3h2.5v2h-2.5zM587.9,585.9h1v1h-1zM587.3,586.6h2.5v1h-2.5zM591.5,587.4h1v1h-1zM634.7,576.9h1.5v1h-1.5zM634.8,575.7h1.5v1h-1.5zM635.3,577.6h1v1.5h-1zM635.3,577.6h2.5v2.5h-2.5zM641.4,602.7h1.5v1h-1.5zM640.3,601.6h2v2.5h-2zM639.9,602.7h1.5v2.5h-1.5zM638.2,604.2h2.5v1h-2.5z" fill="#000"/>
</g>
<rect x="553.5" y="489.5" width="123" height="116" fill="none" stroke="#000" stroke-width="1"/>
<rect x="12.5" y="9.5" width="749" height="626" fill="none" stroke="#000" stroke-width="1"/>
<rect x="49.5" y="35.5" width="198" height="139" fill="#fff" stroke="#000" stroke-width="1"/>
<g font-family="Liberation Sans, sans-serif" font-size="11.5" fill="#000" stroke="#000" stroke-width="0.15" text-rendering="geometricPrecision" shape-rendering="auto">
<text x="66" y="60.8" textLength="160" lengthAdjust="spacingAndGlyphs">Average Annual Growth Rate (%)</text>
<rect x="66.5" y="69.5" width="9" height="11.6" fill="#f20000" stroke="#000" stroke-width="1"/>
<text x="86.2" y="82.8" textLength="49.4" lengthAdjust="spacingAndGlyphs">Above 6.0</text>
<rect x="66.5" y="85.5" width="9" height="11.6" fill="#fa6405" stroke="#000" stroke-width="1"/>
<text x="86.2" y="98.8" textLength="48.7" lengthAdjust="spacingAndGlyphs">3.0 – 6.0</text>
<rect x="66.5" y="101.5" width="9" height="11.6" fill="#f7ab05" stroke="#000" stroke-width="1"/>
<text x="86.2" y="114.8" textLength="48.7" lengthAdjust="spacingAndGlyphs">1.0 – 2.9</text>
<rect x="66.5" y="117.5" width="9" height="11.6" fill="#fad967" stroke="#000" stroke-width="1"/>
<text x="86.2" y="130.8" textLength="48.7" lengthAdjust="spacingAndGlyphs">0.0 – 0.9</text>
<rect x="66.5" y="133.5" width="9" height="11.6" fill="#fcfad0" stroke="#000" stroke-width="1"/>
<text x="86.2" y="146.8" textLength="49.4" lengthAdjust="spacingAndGlyphs">Below 0.0</text>
<rect x="66.5" y="149.5" width="9" height="11.6" fill="#dfdfe0" stroke="#000" stroke-width="1"/>
<text x="86.2" y="162.8" textLength="104.8" lengthAdjust="spacingAndGlyphs">Unincorporated LGAs</text>
</g>
</svg></body></html>
